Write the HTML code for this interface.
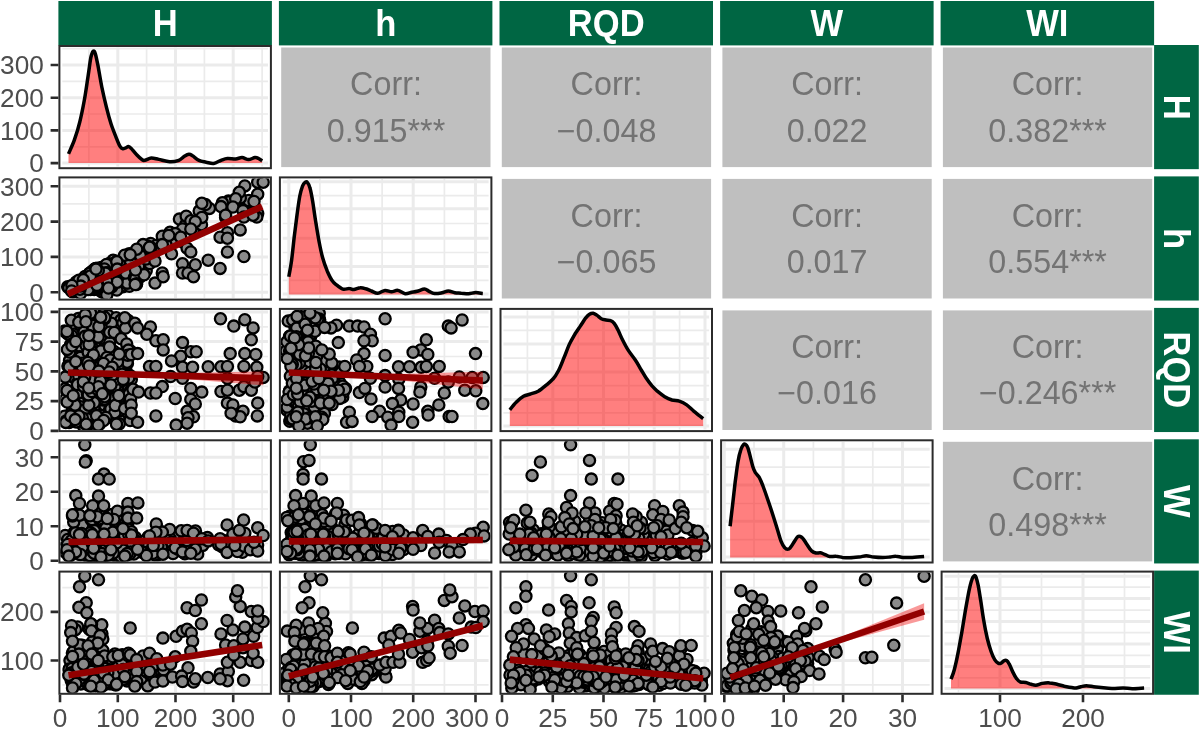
<!DOCTYPE html>
<html><head><meta charset="utf-8"><title>Scatter matrix</title>
<style>
html,body{margin:0;padding:0;background:#fff;}
svg{display:block;font-family:"Liberation Sans",sans-serif;filter:blur(0.55px);}
.hd{font-size:36px;font-weight:bold;fill:#fff;text-anchor:middle;}
.cr{font-size:32.3px;fill:#737373;text-anchor:middle;}
.xl{font-size:26.2px;fill:#4d4d4d;text-anchor:middle;}
.yl{font-size:26.2px;fill:#4d4d4d;text-anchor:end;}
.gm{stroke:#ebebeb;stroke-width:1.7;fill:none;}
.gM{stroke:#ebebeb;stroke-width:3.0;fill:none;}
.bd{fill:none;stroke:#2b2b2b;stroke-width:2.0;}
.tk{stroke:#2b2b2b;stroke-width:2.6;fill:none;}
.dl{fill:none;stroke:#000;stroke-width:3.5;stroke-linejoin:round;stroke-linecap:butt;}
.pt circle{fill:#8a8a8a;stroke:#000;stroke-width:2.3;}
.rl{stroke:#920000;stroke-width:6.6;fill:none;}
</style></head>
<body>
<svg width="1200" height="729" viewBox="0 0 1200 729">
<defs><clipPath id="c00"><rect x="60.4" y="47" width="209.5" height="120.2"/></clipPath><clipPath id="c10"><rect x="60.4" y="178.4" width="209.5" height="120.2"/></clipPath><clipPath id="c11"><rect x="280.9" y="178.4" width="209.5" height="120.2"/></clipPath><clipPath id="c20"><rect x="60.4" y="309.9" width="209.5" height="120.2"/></clipPath><clipPath id="c21"><rect x="280.9" y="309.9" width="209.5" height="120.2"/></clipPath><clipPath id="c22"><rect x="501.5" y="309.9" width="209.5" height="120.2"/></clipPath><clipPath id="c30"><rect x="60.4" y="441.3" width="209.5" height="120.2"/></clipPath><clipPath id="c31"><rect x="280.9" y="441.3" width="209.5" height="120.2"/></clipPath><clipPath id="c32"><rect x="501.5" y="441.3" width="209.5" height="120.2"/></clipPath><clipPath id="c33"><rect x="722.1" y="441.3" width="209.5" height="120.2"/></clipPath><clipPath id="c40"><rect x="60.4" y="572.6" width="209.5" height="120.2"/></clipPath><clipPath id="c41"><rect x="280.9" y="572.6" width="209.5" height="120.2"/></clipPath><clipPath id="c42"><rect x="501.5" y="572.6" width="209.5" height="120.2"/></clipPath><clipPath id="c43"><rect x="722.1" y="572.6" width="209.5" height="120.2"/></clipPath><clipPath id="c44"><rect x="942.6" y="572.6" width="209.5" height="120.2"/></clipPath></defs>
<rect width="1200" height="729" fill="#fff"/>
<rect x="58.4" y="1" width="213.5" height="44.4" fill="#006643"/>
<text transform="translate(165.2 35.6) scale(0.96 1)" class="hd">H</text>
<rect x="278.9" y="1" width="213.5" height="44.4" fill="#006643"/>
<text transform="translate(385.7 35.6) scale(0.96 1)" class="hd">h</text>
<rect x="499.5" y="1" width="213.5" height="44.4" fill="#006643"/>
<text transform="translate(606.2 35.6) scale(0.96 1)" class="hd">RQD</text>
<rect x="720.1" y="1" width="213.5" height="44.4" fill="#006643"/>
<text transform="translate(826.8 35.6) scale(0.96 1)" class="hd">W</text>
<rect x="940.6" y="1" width="213.5" height="44.4" fill="#006643"/>
<text transform="translate(1047.3 35.6) scale(0.96 1)" class="hd">WI</text>
<rect x="1154.1" y="45" width="44.7" height="124.15" fill="#006643"/>
<text transform="translate(1164.2 107.1) rotate(90) scale(0.96 1)" class="hd">H</text>
<rect x="1154.1" y="176.4" width="44.7" height="124.15" fill="#006643"/>
<text transform="translate(1164.2 238.5) rotate(90) scale(0.96 1)" class="hd">h</text>
<rect x="1154.1" y="307.9" width="44.7" height="124.15" fill="#006643"/>
<text transform="translate(1164.2 369.9) rotate(90) scale(0.96 1)" class="hd">RQD</text>
<rect x="1154.1" y="439.3" width="44.7" height="124.15" fill="#006643"/>
<text transform="translate(1164.2 501.3) rotate(90) scale(0.96 1)" class="hd">W</text>
<rect x="1154.1" y="570.6" width="44.7" height="124.15" fill="#006643"/>
<text transform="translate(1164.2 632.7) rotate(90) scale(0.96 1)" class="hd">WI</text>
<path d="M88.9 47.6V166.6M146.6 47.6V166.6M204.4 47.6V166.6M262.1 47.6V166.6M62.3 146.8H268M62.3 114H268M62.3 81.3H268M62.3 48.6H268" class="gm"/><path d="M117.8 47.6V166.6M175.5 47.6V166.6M233.2 47.6V166.6M62.3 163.1H268M62.3 130.4H268M62.3 97.7H268M62.3 65H268" class="gM"/>
<g clip-path="url(#c00)">
<path d="M68.5 153.9C69.4 151.6 72.4 145.5 74.3 140.2C76.2 134.8 78.2 128.6 79.8 121.8C81.5 115.1 83 107.5 84.4 99.8C85.8 92.2 87 83 88.1 76C89.2 69 90 61.8 90.8 57.7C91.7 53.5 92.5 51.9 93.2 51.2C94 50.6 94.6 51.4 95.4 54C96.2 56.6 97.1 61.3 98.2 66.8C99.2 72.3 100.5 80.3 101.8 87C103.2 93.7 104.9 101.1 106.4 107.2C107.9 113.3 109.3 118.5 111 123.7C112.7 128.9 115 134.5 116.5 138.3C118 142.2 119.1 144.8 120.2 146.6C121.2 148.3 122 148.6 122.9 148.8C123.8 149 124.8 148.2 125.7 147.9C126.6 147.5 127.5 146.5 128.4 146.6C129.3 146.7 129.8 147 131.2 148.4C132.5 149.8 134.8 152.9 136.7 154.8C138.5 156.7 140.8 158.9 142.2 159.8C143.5 160.7 143.4 160.6 144.9 160.3C146.4 160.1 149 158.3 151.3 158.1C153.6 158 155.6 158.8 158.7 159.4C161.7 160 166.3 161.6 169.7 161.8C173 162 176.4 161.2 178.8 160.3C181.3 159.4 182.7 157.3 184.3 156.3C186 155.3 187.5 154.4 188.9 154.3C190.3 154.2 190.9 154.7 192.6 155.8C194.3 156.8 196.7 159.3 199 160.3C201.3 161.4 203.9 161.6 206.3 162.2C208.8 162.7 211.2 163.8 213.7 163.4C216.1 163.1 218.7 161.2 221 160.3C223.3 159.5 225 158.7 227.4 158.5C229.9 158.3 233.2 159 235.7 158.9C238.1 158.7 239.9 157.5 242.1 157.6C244.2 157.7 246.4 159.6 248.5 159.6C250.6 159.6 253.2 157.8 254.9 157.6C256.6 157.4 257.4 157.9 258.6 158.5C259.8 159.1 261.6 160.5 262.2 160.9L262.2 163.1L68.5 163.1Z" fill="#ff0000" fill-opacity="0.5"/><path d="M68.5 153.9C69.4 151.6 72.4 145.5 74.3 140.2C76.2 134.8 78.2 128.6 79.8 121.8C81.5 115.1 83 107.5 84.4 99.8C85.8 92.2 87 83 88.1 76C89.2 69 90 61.8 90.8 57.7C91.7 53.5 92.5 51.9 93.2 51.2C94 50.6 94.6 51.4 95.4 54C96.2 56.6 97.1 61.3 98.2 66.8C99.2 72.3 100.5 80.3 101.8 87C103.2 93.7 104.9 101.1 106.4 107.2C107.9 113.3 109.3 118.5 111 123.7C112.7 128.9 115 134.5 116.5 138.3C118 142.2 119.1 144.8 120.2 146.6C121.2 148.3 122 148.6 122.9 148.8C123.8 149 124.8 148.2 125.7 147.9C126.6 147.5 127.5 146.5 128.4 146.6C129.3 146.7 129.8 147 131.2 148.4C132.5 149.8 134.8 152.9 136.7 154.8C138.5 156.7 140.8 158.9 142.2 159.8C143.5 160.7 143.4 160.6 144.9 160.3C146.4 160.1 149 158.3 151.3 158.1C153.6 158 155.6 158.8 158.7 159.4C161.7 160 166.3 161.6 169.7 161.8C173 162 176.4 161.2 178.8 160.3C181.3 159.4 182.7 157.3 184.3 156.3C186 155.3 187.5 154.4 188.9 154.3C190.3 154.2 190.9 154.7 192.6 155.8C194.3 156.8 196.7 159.3 199 160.3C201.3 161.4 203.9 161.6 206.3 162.2C208.8 162.7 211.2 163.8 213.7 163.4C216.1 163.1 218.7 161.2 221 160.3C223.3 159.5 225 158.7 227.4 158.5C229.9 158.3 233.2 159 235.7 158.9C238.1 158.7 239.9 157.5 242.1 157.6C244.2 157.7 246.4 159.6 248.5 159.6C250.6 159.6 253.2 157.8 254.9 157.6C256.6 157.4 257.4 157.9 258.6 158.5C259.8 159.1 261.6 160.5 262.2 160.9" class="dl"/>
</g>
<rect x="59.4" y="46" width="211.5" height="122.2" class="bd"/>
<rect x="281.2" y="47.5" width="209.3" height="119.6" fill="#bfbfbf"/>
<text x="386" y="95.3" class="cr">Corr:</text>
<text x="386" y="141.6" class="cr">0.915***</text>
<rect x="501.8" y="47.5" width="209.3" height="119.6" fill="#bfbfbf"/>
<text x="606.5" y="95.3" class="cr">Corr:</text>
<text x="606.5" y="141.6" class="cr">−0.048</text>
<rect x="722.4" y="47.5" width="209.3" height="119.6" fill="#bfbfbf"/>
<text x="827.1" y="95.3" class="cr">Corr:</text>
<text x="827.1" y="141.6" class="cr">0.022</text>
<rect x="942.9" y="47.5" width="209.3" height="119.6" fill="#bfbfbf"/>
<text x="1047.6" y="95.3" class="cr">Corr:</text>
<text x="1047.6" y="141.6" class="cr">0.382***</text>
<path d="M88.9 179V298M146.6 179V298M204.4 179V298M262.1 179V298M62.3 274.6H268M62.3 239.2H268M62.3 203.9H268" class="gm"/><path d="M117.8 179V298M175.5 179V298M233.2 179V298M62.3 292.2H268M62.3 256.9H268M62.3 221.6H268M62.3 186.3H268" class="gM"/>
<g clip-path="url(#c10)">
<g class="pt"><circle cx="82" cy="280.2" r="5.6"/><circle cx="93.8" cy="284.1" r="5.6"/><circle cx="91.6" cy="287.2" r="5.6"/><circle cx="196.2" cy="226.6" r="5.6"/><circle cx="179.4" cy="219.1" r="5.6"/><circle cx="103.8" cy="272.4" r="5.6"/><circle cx="95.5" cy="276.5" r="5.6"/><circle cx="122.8" cy="286.8" r="5.6"/><circle cx="182.5" cy="241.8" r="5.6"/><circle cx="105.5" cy="272.2" r="5.6"/><circle cx="92.1" cy="271.3" r="5.6"/><circle cx="94.5" cy="269.3" r="5.6"/><circle cx="113.1" cy="260.3" r="5.6"/><circle cx="150.6" cy="243.5" r="5.6"/><circle cx="106.2" cy="271.8" r="5.6"/><circle cx="84.2" cy="280.3" r="5.6"/><circle cx="73.9" cy="285.3" r="5.6"/><circle cx="114" cy="281.6" r="5.6"/><circle cx="122.9" cy="280.1" r="5.6"/><circle cx="83.7" cy="278.9" r="5.6"/><circle cx="94.3" cy="286.5" r="5.6"/><circle cx="93.7" cy="275.2" r="5.6"/><circle cx="109.9" cy="265.9" r="5.6"/><circle cx="88.4" cy="280.8" r="5.6"/><circle cx="103.5" cy="270.8" r="5.6"/><circle cx="114.4" cy="263.6" r="5.6"/><circle cx="101.3" cy="291.4" r="5.6"/><circle cx="206.1" cy="208.5" r="5.6"/><circle cx="99.7" cy="286.2" r="5.6"/><circle cx="83.1" cy="284.5" r="5.6"/><circle cx="109.8" cy="266.6" r="5.6"/><circle cx="97" cy="286.2" r="5.6"/><circle cx="97.7" cy="282" r="5.6"/><circle cx="83.1" cy="285.2" r="5.6"/><circle cx="120.6" cy="280.1" r="5.6"/><circle cx="84.8" cy="287.8" r="5.6"/><circle cx="104.2" cy="293.2" r="5.6"/><circle cx="100.4" cy="288" r="5.6"/><circle cx="92.7" cy="272.2" r="5.6"/><circle cx="193.2" cy="230.4" r="5.6"/><circle cx="88.6" cy="275.3" r="5.6"/><circle cx="101.2" cy="284.9" r="5.6"/><circle cx="95" cy="270.6" r="5.6"/><circle cx="76.4" cy="290.3" r="5.6"/><circle cx="102.7" cy="284.4" r="5.6"/><circle cx="87.1" cy="278.8" r="5.6"/><circle cx="101.4" cy="283.7" r="5.6"/><circle cx="124.9" cy="285.8" r="5.6"/><circle cx="80.3" cy="288.5" r="5.6"/><circle cx="92.8" cy="273.4" r="5.6"/><circle cx="95.8" cy="277.5" r="5.6"/><circle cx="109.6" cy="274.6" r="5.6"/><circle cx="100.4" cy="278.1" r="5.6"/><circle cx="79" cy="289.5" r="5.6"/><circle cx="101.6" cy="272.9" r="5.6"/><circle cx="99.6" cy="269.5" r="5.6"/><circle cx="91.1" cy="285.8" r="5.6"/><circle cx="127.6" cy="255" r="5.6"/><circle cx="93.1" cy="284.5" r="5.6"/><circle cx="92.4" cy="273.9" r="5.6"/><circle cx="96.5" cy="276.4" r="5.6"/><circle cx="93.4" cy="276.9" r="5.6"/><circle cx="129.4" cy="286.3" r="5.6"/><circle cx="156" cy="248.2" r="5.6"/><circle cx="94.9" cy="286.9" r="5.6"/><circle cx="110.8" cy="273.3" r="5.6"/><circle cx="117.9" cy="280.5" r="5.6"/><circle cx="91.6" cy="273" r="5.6"/><circle cx="67.7" cy="286.8" r="5.6"/><circle cx="251.1" cy="202.6" r="5.6"/><circle cx="82.8" cy="290.5" r="5.6"/><circle cx="119.5" cy="282" r="5.6"/><circle cx="92.8" cy="276.5" r="5.6"/><circle cx="102.1" cy="267.3" r="5.6"/><circle cx="90.5" cy="286" r="5.6"/><circle cx="94.2" cy="289.4" r="5.6"/><circle cx="97.5" cy="270.5" r="5.6"/><circle cx="76.1" cy="289.3" r="5.6"/><circle cx="94.6" cy="285" r="5.6"/><circle cx="93.4" cy="278.6" r="5.6"/><circle cx="95.8" cy="278.5" r="5.6"/><circle cx="88.2" cy="288.7" r="5.6"/><circle cx="77.9" cy="285.1" r="5.6"/><circle cx="101.6" cy="268.7" r="5.6"/><circle cx="139.7" cy="277.3" r="5.6"/><circle cx="91.1" cy="277" r="5.6"/><circle cx="97.4" cy="268.2" r="5.6"/><circle cx="96.6" cy="276.8" r="5.6"/><circle cx="84.2" cy="281.1" r="5.6"/><circle cx="127.2" cy="282.9" r="5.6"/><circle cx="102.3" cy="288.5" r="5.6"/><circle cx="148.2" cy="251.8" r="5.6"/><circle cx="108.9" cy="268.1" r="5.6"/><circle cx="89.4" cy="274.5" r="5.6"/><circle cx="240" cy="199.7" r="5.6"/><circle cx="99.2" cy="282.6" r="5.6"/><circle cx="98.1" cy="272.3" r="5.6"/><circle cx="91.2" cy="280.8" r="5.6"/><circle cx="83.8" cy="282.5" r="5.6"/><circle cx="86.1" cy="289.6" r="5.6"/><circle cx="118.9" cy="272.5" r="5.6"/><circle cx="116.8" cy="290.1" r="5.6"/><circle cx="105.2" cy="266.4" r="5.6"/><circle cx="129.2" cy="263.1" r="5.6"/><circle cx="146.2" cy="270.7" r="5.6"/><circle cx="228.4" cy="200.9" r="5.6"/><circle cx="125.9" cy="263.8" r="5.6"/><circle cx="96.6" cy="283.2" r="5.6"/><circle cx="248.8" cy="200.5" r="5.6"/><circle cx="77.8" cy="283.9" r="5.6"/><circle cx="85.5" cy="287.6" r="5.6"/><circle cx="86.5" cy="282.7" r="5.6"/><circle cx="95.4" cy="276.8" r="5.6"/><circle cx="84.9" cy="281" r="5.6"/><circle cx="89.5" cy="273.2" r="5.6"/><circle cx="86.9" cy="281.1" r="5.6"/><circle cx="92.6" cy="281.7" r="5.6"/><circle cx="86.8" cy="282.2" r="5.6"/><circle cx="201.5" cy="224.7" r="5.6"/><circle cx="156.2" cy="245.4" r="5.6"/><circle cx="122.3" cy="274.1" r="5.6"/><circle cx="101.8" cy="267.7" r="5.6"/><circle cx="85" cy="276.5" r="5.6"/><circle cx="79.8" cy="282.9" r="5.6"/><circle cx="164.7" cy="239.6" r="5.6"/><circle cx="90.5" cy="289.5" r="5.6"/><circle cx="98.5" cy="272.1" r="5.6"/><circle cx="99.9" cy="276.2" r="5.6"/><circle cx="96.4" cy="279.3" r="5.6"/><circle cx="139.6" cy="254.4" r="5.6"/><circle cx="96.6" cy="273.4" r="5.6"/><circle cx="92.3" cy="272" r="5.6"/><circle cx="135" cy="278.5" r="5.6"/><circle cx="112.6" cy="277.4" r="5.6"/><circle cx="126.2" cy="256.8" r="5.6"/><circle cx="128.5" cy="268.1" r="5.6"/><circle cx="78.7" cy="287.2" r="5.6"/><circle cx="68.8" cy="287.8" r="5.6"/><circle cx="82.6" cy="280.8" r="5.6"/><circle cx="111.9" cy="286.8" r="5.6"/><circle cx="96.1" cy="288.9" r="5.6"/><circle cx="100.8" cy="267.9" r="5.6"/><circle cx="88.7" cy="278.2" r="5.6"/><circle cx="99.3" cy="270.7" r="5.6"/><circle cx="96.2" cy="269.3" r="5.6"/><circle cx="90.4" cy="275.2" r="5.6"/><circle cx="96.3" cy="270.7" r="5.6"/><circle cx="104.9" cy="267.8" r="5.6"/><circle cx="109.5" cy="267.2" r="5.6"/><circle cx="95.5" cy="268.6" r="5.6"/><circle cx="73.7" cy="286.4" r="5.6"/><circle cx="99" cy="280.5" r="5.6"/><circle cx="185.8" cy="224.6" r="5.6"/><circle cx="110.9" cy="265.9" r="5.6"/><circle cx="98.8" cy="284.4" r="5.6"/><circle cx="106" cy="283.9" r="5.6"/><circle cx="103" cy="276.1" r="5.6"/><circle cx="87.5" cy="285.2" r="5.6"/><circle cx="111.7" cy="274.3" r="5.6"/><circle cx="116.1" cy="280.5" r="5.6"/><circle cx="94.9" cy="287.6" r="5.6"/><circle cx="128.6" cy="261.7" r="5.6"/><circle cx="174.2" cy="236.3" r="5.6"/><circle cx="98.5" cy="273.9" r="5.6"/><circle cx="107.7" cy="276.4" r="5.6"/><circle cx="116.5" cy="261.4" r="5.6"/><circle cx="84.3" cy="284.7" r="5.6"/><circle cx="95.2" cy="278.4" r="5.6"/><circle cx="97.4" cy="286" r="5.6"/><circle cx="127.2" cy="283.1" r="5.6"/><circle cx="141.3" cy="266.7" r="5.6"/><circle cx="109.1" cy="263.8" r="5.6"/><circle cx="106.4" cy="264.5" r="5.6"/><circle cx="96" cy="268.7" r="5.6"/><circle cx="86.5" cy="281" r="5.6"/><circle cx="93" cy="272.8" r="5.6"/><circle cx="228.8" cy="201.9" r="5.6"/><circle cx="109.7" cy="287.1" r="5.6"/><circle cx="84.4" cy="284.5" r="5.6"/><circle cx="125.8" cy="273.1" r="5.6"/><circle cx="80.6" cy="285" r="5.6"/><circle cx="91" cy="280.5" r="5.6"/><circle cx="72.7" cy="286.2" r="5.6"/><circle cx="149.8" cy="263.6" r="5.6"/><circle cx="93.2" cy="280.8" r="5.6"/><circle cx="102.9" cy="275" r="5.6"/><circle cx="95.5" cy="272.4" r="5.6"/><circle cx="225.6" cy="217.4" r="5.6"/><circle cx="106.8" cy="294.9" r="5.6"/><circle cx="209.4" cy="208.4" r="5.6"/><circle cx="78" cy="285.6" r="5.6"/><circle cx="134.3" cy="277.8" r="5.6"/><circle cx="76.2" cy="281.9" r="5.6"/><circle cx="101.4" cy="277.8" r="5.6"/><circle cx="97.2" cy="283.7" r="5.6"/><circle cx="95.4" cy="270.9" r="5.6"/><circle cx="77.4" cy="286.4" r="5.6"/><circle cx="72.8" cy="291.9" r="5.6"/><circle cx="90.1" cy="282.5" r="5.6"/><circle cx="90.8" cy="286" r="5.6"/><circle cx="96.9" cy="274.3" r="5.6"/><circle cx="74.6" cy="290.2" r="5.6"/><circle cx="92.4" cy="273.7" r="5.6"/><circle cx="95.7" cy="270.3" r="5.6"/><circle cx="127.1" cy="257.5" r="5.6"/><circle cx="110.8" cy="278.4" r="5.6"/><circle cx="129.3" cy="253.7" r="5.6"/><circle cx="104.4" cy="269" r="5.6"/><circle cx="120" cy="261" r="5.6"/><circle cx="147.4" cy="245.9" r="5.6"/><circle cx="80.4" cy="283.3" r="5.6"/><circle cx="89" cy="278.2" r="5.6"/><circle cx="129.7" cy="259.7" r="5.6"/><circle cx="117.1" cy="282.2" r="5.6"/><circle cx="97.6" cy="271.9" r="5.6"/><circle cx="80.5" cy="293.5" r="5.6"/><circle cx="89.8" cy="284.8" r="5.6"/><circle cx="150.8" cy="247.5" r="5.6"/><circle cx="135.8" cy="278.5" r="5.6"/><circle cx="240.3" cy="197.9" r="5.6"/><circle cx="138.6" cy="266.1" r="5.6"/><circle cx="199.2" cy="211.1" r="5.6"/><circle cx="130.2" cy="260.6" r="5.6"/><circle cx="124.6" cy="255.2" r="5.6"/><circle cx="91.2" cy="276" r="5.6"/><circle cx="87.1" cy="285.3" r="5.6"/><circle cx="91.3" cy="283.6" r="5.6"/><circle cx="136.4" cy="284.5" r="5.6"/><circle cx="106.6" cy="281" r="5.6"/><circle cx="89.9" cy="275.4" r="5.6"/><circle cx="144.1" cy="274.8" r="5.6"/><circle cx="116.8" cy="261.6" r="5.6"/><circle cx="99" cy="275.6" r="5.6"/><circle cx="107" cy="272.8" r="5.6"/><circle cx="93.6" cy="287.2" r="5.6"/><circle cx="96.2" cy="271.8" r="5.6"/><circle cx="89.8" cy="273.5" r="5.6"/><circle cx="99.2" cy="275.3" r="5.6"/><circle cx="170" cy="232.3" r="5.6"/><circle cx="136.6" cy="283.8" r="5.6"/><circle cx="94.6" cy="273.7" r="5.6"/><circle cx="86.4" cy="280.3" r="5.6"/><circle cx="222.4" cy="202.8" r="5.6"/><circle cx="95.6" cy="285.5" r="5.6"/><circle cx="171.8" cy="239.5" r="5.6"/><circle cx="97.3" cy="283.3" r="5.6"/><circle cx="117.3" cy="269.1" r="5.6"/><circle cx="146.1" cy="259.1" r="5.6"/><circle cx="86.9" cy="277.6" r="5.6"/><circle cx="135.2" cy="284.5" r="5.6"/><circle cx="78.6" cy="286.2" r="5.6"/><circle cx="105.5" cy="273.1" r="5.6"/><circle cx="98.3" cy="270.6" r="5.6"/><circle cx="78.9" cy="280.2" r="5.6"/><circle cx="90.4" cy="275.9" r="5.6"/><circle cx="96" cy="269.1" r="5.6"/><circle cx="88" cy="289.6" r="5.6"/><circle cx="80" cy="289.2" r="5.6"/><circle cx="205.4" cy="204.6" r="5.6"/><circle cx="83.3" cy="279.8" r="5.6"/><circle cx="140.2" cy="255.3" r="5.6"/><circle cx="165.9" cy="244.6" r="5.6"/><circle cx="97" cy="285.3" r="5.6"/><circle cx="80.8" cy="286.1" r="5.6"/><circle cx="135.5" cy="270.1" r="5.6"/><circle cx="71.9" cy="285.5" r="5.6"/><circle cx="71.6" cy="291" r="5.6"/><circle cx="108.5" cy="288" r="5.6"/><circle cx="257.7" cy="182.2" r="5.6"/><circle cx="263.2" cy="182.2" r="5.6"/><circle cx="244.8" cy="185.9" r="5.6"/><circle cx="239.3" cy="192.3" r="5.6"/><circle cx="257.7" cy="194.2" r="5.6"/><circle cx="235.7" cy="198.8" r="5.6"/><circle cx="254" cy="201.5" r="5.6"/><circle cx="201.8" cy="203.3" r="5.6"/><circle cx="221" cy="206.6" r="5.6"/><circle cx="232.9" cy="207" r="5.6"/><circle cx="243" cy="210.7" r="5.6"/><circle cx="257.7" cy="213.4" r="5.6"/><circle cx="243.9" cy="217.1" r="5.6"/><circle cx="256.8" cy="217.1" r="5.6"/><circle cx="253.1" cy="215.2" r="5.6"/><circle cx="225.6" cy="215.2" r="5.6"/><circle cx="201.8" cy="217.4" r="5.6"/><circle cx="186.2" cy="216.2" r="5.6"/><circle cx="190.8" cy="220.8" r="5.6"/><circle cx="195.3" cy="221.7" r="5.6"/><circle cx="182.5" cy="229" r="5.6"/><circle cx="190.8" cy="229" r="5.6"/><circle cx="240.2" cy="229.9" r="5.6"/><circle cx="227.4" cy="232.7" r="5.6"/><circle cx="220.1" cy="237.2" r="5.6"/><circle cx="227.4" cy="238.2" r="5.6"/><circle cx="175.2" cy="233.6" r="5.6"/><circle cx="162.3" cy="236.3" r="5.6"/><circle cx="168.8" cy="235.4" r="5.6"/><circle cx="180.7" cy="237.2" r="5.6"/><circle cx="162.3" cy="244.6" r="5.6"/><circle cx="143.1" cy="244.6" r="5.6"/><circle cx="149.5" cy="247.3" r="5.6"/><circle cx="136.7" cy="249.2" r="5.6"/><circle cx="187.1" cy="248.2" r="5.6"/><circle cx="190.8" cy="251.9" r="5.6"/><circle cx="171.5" cy="253.8" r="5.6"/><circle cx="130.2" cy="254.7" r="5.6"/><circle cx="227.4" cy="251.9" r="5.6"/><circle cx="243.9" cy="256.5" r="5.6"/><circle cx="155" cy="261.1" r="5.6"/><circle cx="208.2" cy="260.2" r="5.6"/><circle cx="182.5" cy="263.8" r="5.6"/><circle cx="195.3" cy="264.8" r="5.6"/><circle cx="220.1" cy="268.4" r="5.6"/><circle cx="162.3" cy="273" r="5.6"/><circle cx="182.5" cy="273" r="5.6"/><circle cx="188" cy="273" r="5.6"/><circle cx="193.5" cy="276.7" r="5.6"/><circle cx="155" cy="283.1" r="5.6"/><circle cx="163.2" cy="276.7" r="5.6"/></g><path d="M67.9 294.1L262.2 206.6" class="rl"/>
</g>
<rect x="59.4" y="177.4" width="211.5" height="122.2" class="bd"/>
<path d="M319.9 179V298M382.1 179V298M444.4 179V298M282.8 195.6H488.6M282.8 223.5H488.6M282.8 252.5H488.6M282.8 280.3H488.6" class="gm"/><path d="M288.8 179V298M351 179V298M413.2 179V298M475.5 179V298M282.8 208.8H488.6M282.8 238.2H488.6M282.8 266.6H488.6M282.8 294.1H488.6M282.8 181.7H488.6" class="gM"/>
<g clip-path="url(#c11)">
<path d="M288.8 276.7C289.3 273.9 290.7 266.9 291.6 260.2C292.5 253.4 293.4 244 294.3 236.3C295.2 228.7 296.2 221.1 297.1 214.3C298 207.6 298.9 200.7 299.8 196C300.8 191.3 301.7 188.2 302.6 185.9C303.5 183.6 304.5 182.8 305.3 182.2C306.2 181.7 306.8 181.7 307.5 182.6C308.3 183.5 309.1 184.6 309.9 187.8C310.8 190.9 311.8 196.2 312.7 201.5C313.6 206.8 314.3 213.1 315.4 219.8C316.5 226.6 317.9 235.4 319.1 241.8C320.3 248.2 321.4 253.4 322.8 258.3C324.1 263.2 325.8 267.5 327.3 271.2C328.9 274.8 330.4 278 331.9 280.3C333.4 282.6 334.7 283.5 336.5 284.9C338.3 286.4 340.8 288.5 342.9 289.1C345.1 289.7 347.5 288.5 349.3 288.6C351.2 288.6 352.1 289.7 353.9 289.5C355.8 289.3 358.3 287.8 360.3 287.7C362.3 287.5 364 288.2 365.8 288.8C367.7 289.3 369.3 290.2 371.3 291C373.3 291.7 375.5 293.3 377.8 293.2C380 293.1 382.8 290.7 385.1 290.4C387.4 290.2 389.4 291.7 391.5 291.7C393.6 291.7 395.6 290.1 397.9 290.4C400.2 290.8 403 293.4 405.2 293.7C407.5 294 409.7 292.6 411.7 292.2C413.7 291.9 415 291.9 417.2 291.3C419.3 290.8 422.5 289.1 424.5 289.1C426.5 289.1 427.4 290.6 429.1 291.3C430.8 292.1 432.4 293.3 434.6 293.5C436.7 293.8 439.6 293.2 441.9 292.8C444.2 292.4 446.2 291 448.3 291C450.5 291 452.6 292.4 454.8 292.8C456.9 293.2 458.9 293 461.2 293.2C463.5 293.3 466.1 293.8 468.5 293.7C470.9 293.6 473.5 292.6 475.8 292.6C478.2 292.6 481.6 293.4 482.8 293.5L482.8 294.4L288.8 294.4Z" fill="#ff0000" fill-opacity="0.5"/><path d="M288.8 276.7C289.3 273.9 290.7 266.9 291.6 260.2C292.5 253.4 293.4 244 294.3 236.3C295.2 228.7 296.2 221.1 297.1 214.3C298 207.6 298.9 200.7 299.8 196C300.8 191.3 301.7 188.2 302.6 185.9C303.5 183.6 304.5 182.8 305.3 182.2C306.2 181.7 306.8 181.7 307.5 182.6C308.3 183.5 309.1 184.6 309.9 187.8C310.8 190.9 311.8 196.2 312.7 201.5C313.6 206.8 314.3 213.1 315.4 219.8C316.5 226.6 317.9 235.4 319.1 241.8C320.3 248.2 321.4 253.4 322.8 258.3C324.1 263.2 325.8 267.5 327.3 271.2C328.9 274.8 330.4 278 331.9 280.3C333.4 282.6 334.7 283.5 336.5 284.9C338.3 286.4 340.8 288.5 342.9 289.1C345.1 289.7 347.5 288.5 349.3 288.6C351.2 288.6 352.1 289.7 353.9 289.5C355.8 289.3 358.3 287.8 360.3 287.7C362.3 287.5 364 288.2 365.8 288.8C367.7 289.3 369.3 290.2 371.3 291C373.3 291.7 375.5 293.3 377.8 293.2C380 293.1 382.8 290.7 385.1 290.4C387.4 290.2 389.4 291.7 391.5 291.7C393.6 291.7 395.6 290.1 397.9 290.4C400.2 290.8 403 293.4 405.2 293.7C407.5 294 409.7 292.6 411.7 292.2C413.7 291.9 415 291.9 417.2 291.3C419.3 290.8 422.5 289.1 424.5 289.1C426.5 289.1 427.4 290.6 429.1 291.3C430.8 292.1 432.4 293.3 434.6 293.5C436.7 293.8 439.6 293.2 441.9 292.8C444.2 292.4 446.2 291 448.3 291C450.5 291 452.6 292.4 454.8 292.8C456.9 293.2 458.9 293 461.2 293.2C463.5 293.3 466.1 293.8 468.5 293.7C470.9 293.6 473.5 292.6 475.8 292.6C478.2 292.6 481.6 293.4 482.8 293.5" class="dl"/>
</g>
<rect x="279.9" y="177.4" width="211.5" height="122.2" class="bd"/>
<rect x="501.8" y="178.9" width="209.3" height="119.6" fill="#bfbfbf"/>
<text x="606.5" y="226.8" class="cr">Corr:</text>
<text x="606.5" y="272.9" class="cr">−0.065</text>
<rect x="722.4" y="178.9" width="209.3" height="119.6" fill="#bfbfbf"/>
<text x="827.1" y="226.8" class="cr">Corr:</text>
<text x="827.1" y="272.9" class="cr">0.017</text>
<rect x="942.9" y="178.9" width="209.3" height="119.6" fill="#bfbfbf"/>
<text x="1047.6" y="226.8" class="cr">Corr:</text>
<text x="1047.6" y="272.9" class="cr">0.554***</text>
<path d="M88.9 310.5V429.4M146.6 310.5V429.4M204.4 310.5V429.4M262.1 310.5V429.4M62.3 416H268M62.3 386.3H268M62.3 356.5H268M62.3 326.8H268" class="gm"/><path d="M117.8 310.5V429.4M175.5 310.5V429.4M233.2 310.5V429.4M62.3 401.1H268M62.3 371.4H268M62.3 341.6H268M62.3 311.9H268" class="gM"/>
<g clip-path="url(#c20)">
<g class="pt"><circle cx="94" cy="373.4" r="5.6"/><circle cx="105" cy="345" r="5.6"/><circle cx="101.3" cy="385.9" r="5.6"/><circle cx="118.9" cy="418.6" r="5.6"/><circle cx="122.7" cy="359.1" r="5.6"/><circle cx="92.3" cy="396.8" r="5.6"/><circle cx="65" cy="388.8" r="5.6"/><circle cx="102" cy="341" r="5.6"/><circle cx="86.3" cy="354.8" r="5.6"/><circle cx="90.9" cy="361.5" r="5.6"/><circle cx="78" cy="415.2" r="5.6"/><circle cx="103.9" cy="322.8" r="5.6"/><circle cx="109" cy="398.9" r="5.6"/><circle cx="84.9" cy="378" r="5.6"/><circle cx="97.2" cy="392" r="5.6"/><circle cx="95.1" cy="377.4" r="5.6"/><circle cx="92.2" cy="359.3" r="5.6"/><circle cx="108.4" cy="315.8" r="5.6"/><circle cx="102.3" cy="317.2" r="5.6"/><circle cx="119.9" cy="410.7" r="5.6"/><circle cx="98" cy="405.1" r="5.6"/><circle cx="114.4" cy="359.5" r="5.6"/><circle cx="109.7" cy="342.7" r="5.6"/><circle cx="93.1" cy="345.1" r="5.6"/><circle cx="90" cy="316.5" r="5.6"/><circle cx="100.5" cy="321.2" r="5.6"/><circle cx="126" cy="370.8" r="5.6"/><circle cx="96.2" cy="362.3" r="5.6"/><circle cx="87.9" cy="334.9" r="5.6"/><circle cx="82.9" cy="389.4" r="5.6"/><circle cx="95.5" cy="341.9" r="5.6"/><circle cx="82.3" cy="388.5" r="5.6"/><circle cx="64.3" cy="331.1" r="5.6"/><circle cx="91.9" cy="356.3" r="5.6"/><circle cx="102.1" cy="314.7" r="5.6"/><circle cx="83.3" cy="352.9" r="5.6"/><circle cx="99.4" cy="388.1" r="5.6"/><circle cx="74.2" cy="400.1" r="5.6"/><circle cx="71.6" cy="412.1" r="5.6"/><circle cx="98.2" cy="379.2" r="5.6"/><circle cx="128.2" cy="320.4" r="5.6"/><circle cx="64.6" cy="416.3" r="5.6"/><circle cx="102.8" cy="349.4" r="5.6"/><circle cx="115.9" cy="356.2" r="5.6"/><circle cx="128.7" cy="408.9" r="5.6"/><circle cx="104.6" cy="364.8" r="5.6"/><circle cx="76.6" cy="407.8" r="5.6"/><circle cx="95.7" cy="361.6" r="5.6"/><circle cx="69.5" cy="360.6" r="5.6"/><circle cx="86.6" cy="387.6" r="5.6"/><circle cx="105.9" cy="392.9" r="5.6"/><circle cx="98.7" cy="383.9" r="5.6"/><circle cx="112.4" cy="358.6" r="5.6"/><circle cx="90.8" cy="411.9" r="5.6"/><circle cx="113.7" cy="394.7" r="5.6"/><circle cx="85.2" cy="353.6" r="5.6"/><circle cx="112.2" cy="396.2" r="5.6"/><circle cx="131.3" cy="379.5" r="5.6"/><circle cx="90.1" cy="335" r="5.6"/><circle cx="99.5" cy="423.9" r="5.6"/><circle cx="104.5" cy="384.1" r="5.6"/><circle cx="97.2" cy="399" r="5.6"/><circle cx="93.1" cy="353.1" r="5.6"/><circle cx="122.1" cy="393.9" r="5.6"/><circle cx="95.8" cy="384.7" r="5.6"/><circle cx="116.2" cy="317.7" r="5.6"/><circle cx="69.1" cy="422.4" r="5.6"/><circle cx="110.3" cy="371.8" r="5.6"/><circle cx="99.9" cy="322.7" r="5.6"/><circle cx="78.3" cy="318.6" r="5.6"/><circle cx="103.8" cy="366.4" r="5.6"/><circle cx="94.6" cy="313.5" r="5.6"/><circle cx="96.1" cy="341.7" r="5.6"/><circle cx="108.8" cy="325.7" r="5.6"/><circle cx="93.1" cy="367.2" r="5.6"/><circle cx="101.6" cy="386.6" r="5.6"/><circle cx="90.6" cy="368.3" r="5.6"/><circle cx="76" cy="417.7" r="5.6"/><circle cx="96.9" cy="328" r="5.6"/><circle cx="107.4" cy="365.4" r="5.6"/><circle cx="91.2" cy="375.2" r="5.6"/><circle cx="70.1" cy="394.2" r="5.6"/><circle cx="70.5" cy="344.8" r="5.6"/><circle cx="69.1" cy="349.9" r="5.6"/><circle cx="119.3" cy="423.8" r="5.6"/><circle cx="89.4" cy="342.2" r="5.6"/><circle cx="104.5" cy="361.2" r="5.6"/><circle cx="128.3" cy="391.2" r="5.6"/><circle cx="99.7" cy="401.6" r="5.6"/><circle cx="92.8" cy="402.4" r="5.6"/><circle cx="120.9" cy="320.1" r="5.6"/><circle cx="89.3" cy="338.1" r="5.6"/><circle cx="76.7" cy="349.2" r="5.6"/><circle cx="111.4" cy="323.2" r="5.6"/><circle cx="90.6" cy="313.1" r="5.6"/><circle cx="97" cy="364.6" r="5.6"/><circle cx="102.6" cy="391.5" r="5.6"/><circle cx="98" cy="365.1" r="5.6"/><circle cx="119.9" cy="376.1" r="5.6"/><circle cx="93" cy="425.2" r="5.6"/><circle cx="65.5" cy="399.2" r="5.6"/><circle cx="120.8" cy="371.4" r="5.6"/><circle cx="106.9" cy="405.1" r="5.6"/><circle cx="70" cy="367.7" r="5.6"/><circle cx="102.8" cy="364.5" r="5.6"/><circle cx="131.7" cy="352.1" r="5.6"/><circle cx="120.7" cy="396.4" r="5.6"/><circle cx="99.5" cy="385.4" r="5.6"/><circle cx="80.7" cy="325.4" r="5.6"/><circle cx="119.8" cy="364" r="5.6"/><circle cx="86.5" cy="346.6" r="5.6"/><circle cx="66.1" cy="421" r="5.6"/><circle cx="94.4" cy="380.8" r="5.6"/><circle cx="108.8" cy="401.3" r="5.6"/><circle cx="110.9" cy="402.3" r="5.6"/><circle cx="126.8" cy="393.8" r="5.6"/><circle cx="113.2" cy="417.2" r="5.6"/><circle cx="80.2" cy="346.3" r="5.6"/><circle cx="97.6" cy="382.5" r="5.6"/><circle cx="81.8" cy="366.8" r="5.6"/><circle cx="112.2" cy="390.9" r="5.6"/><circle cx="89.7" cy="392.9" r="5.6"/><circle cx="111.7" cy="389.6" r="5.6"/><circle cx="80.5" cy="362.4" r="5.6"/><circle cx="100.6" cy="381.3" r="5.6"/><circle cx="101.5" cy="384.2" r="5.6"/><circle cx="97.5" cy="410.4" r="5.6"/><circle cx="75" cy="408.5" r="5.6"/><circle cx="100.6" cy="349.1" r="5.6"/><circle cx="112.8" cy="405.4" r="5.6"/><circle cx="83.1" cy="396.2" r="5.6"/><circle cx="92.8" cy="336.3" r="5.6"/><circle cx="86.1" cy="391.9" r="5.6"/><circle cx="109.7" cy="332.3" r="5.6"/><circle cx="109.3" cy="395.9" r="5.6"/><circle cx="73.2" cy="334" r="5.6"/><circle cx="104.8" cy="405.4" r="5.6"/><circle cx="106.9" cy="365.9" r="5.6"/><circle cx="90.9" cy="409.4" r="5.6"/><circle cx="95.1" cy="417.1" r="5.6"/><circle cx="71.2" cy="391.7" r="5.6"/><circle cx="71.8" cy="376.4" r="5.6"/><circle cx="86.1" cy="345.5" r="5.6"/><circle cx="127.4" cy="363.6" r="5.6"/><circle cx="94.1" cy="330.3" r="5.6"/><circle cx="88.5" cy="379.7" r="5.6"/><circle cx="84.4" cy="320.5" r="5.6"/><circle cx="122.8" cy="389.3" r="5.6"/><circle cx="79.3" cy="356.7" r="5.6"/><circle cx="112.2" cy="409.1" r="5.6"/><circle cx="92.5" cy="349.8" r="5.6"/><circle cx="84.4" cy="410" r="5.6"/><circle cx="129.4" cy="350.2" r="5.6"/><circle cx="67.9" cy="366" r="5.6"/><circle cx="116.9" cy="407.9" r="5.6"/><circle cx="129.1" cy="376" r="5.6"/><circle cx="127.5" cy="378.4" r="5.6"/><circle cx="109.7" cy="409" r="5.6"/><circle cx="93.1" cy="422.1" r="5.6"/><circle cx="71.3" cy="320.3" r="5.6"/><circle cx="127.1" cy="362.2" r="5.6"/><circle cx="127.8" cy="412.4" r="5.6"/><circle cx="97" cy="367.9" r="5.6"/><circle cx="84.1" cy="332" r="5.6"/><circle cx="96" cy="392.2" r="5.6"/><circle cx="101" cy="415.6" r="5.6"/><circle cx="113" cy="380.3" r="5.6"/><circle cx="71.6" cy="335.5" r="5.6"/><circle cx="106.8" cy="353.5" r="5.6"/><circle cx="98.4" cy="390.3" r="5.6"/><circle cx="123" cy="322.9" r="5.6"/><circle cx="89" cy="399.2" r="5.6"/><circle cx="86.9" cy="372.1" r="5.6"/><circle cx="91.6" cy="372" r="5.6"/><circle cx="110.5" cy="395.5" r="5.6"/><circle cx="106" cy="391.4" r="5.6"/><circle cx="86.1" cy="374.7" r="5.6"/><circle cx="103.1" cy="399.9" r="5.6"/><circle cx="82" cy="376" r="5.6"/><circle cx="95.6" cy="386" r="5.6"/><circle cx="88.5" cy="340.2" r="5.6"/><circle cx="82.3" cy="319.4" r="5.6"/><circle cx="87.7" cy="376" r="5.6"/><circle cx="87.4" cy="419" r="5.6"/><circle cx="74.6" cy="411.1" r="5.6"/><circle cx="121" cy="385.3" r="5.6"/><circle cx="69.6" cy="352" r="5.6"/><circle cx="103.5" cy="394.6" r="5.6"/><circle cx="94.8" cy="368" r="5.6"/><circle cx="129.3" cy="393.9" r="5.6"/><circle cx="67.4" cy="349.4" r="5.6"/><circle cx="129" cy="403.8" r="5.6"/><circle cx="67.8" cy="333.9" r="5.6"/><circle cx="94" cy="407" r="5.6"/><circle cx="75.1" cy="405" r="5.6"/><circle cx="114.9" cy="388.1" r="5.6"/><circle cx="90.5" cy="385" r="5.6"/><circle cx="110" cy="376.7" r="5.6"/><circle cx="95.1" cy="346.8" r="5.6"/><circle cx="81.2" cy="372.8" r="5.6"/><circle cx="110.5" cy="408.7" r="5.6"/><circle cx="114.3" cy="332.4" r="5.6"/><circle cx="106.9" cy="366" r="5.6"/><circle cx="78.8" cy="322.3" r="5.6"/><circle cx="75.7" cy="389.7" r="5.6"/><circle cx="130.3" cy="375.8" r="5.6"/><circle cx="118.3" cy="372.7" r="5.6"/><circle cx="117.8" cy="367.1" r="5.6"/><circle cx="99.3" cy="369.6" r="5.6"/><circle cx="80.4" cy="392.4" r="5.6"/><circle cx="104.6" cy="383.7" r="5.6"/><circle cx="91.4" cy="337.5" r="5.6"/><circle cx="118" cy="386" r="5.6"/><circle cx="109.8" cy="417.3" r="5.6"/><circle cx="92.7" cy="348.4" r="5.6"/><circle cx="119.9" cy="381.9" r="5.6"/><circle cx="91.6" cy="324.7" r="5.6"/><circle cx="87.2" cy="375.5" r="5.6"/><circle cx="104.2" cy="365.9" r="5.6"/><circle cx="110.8" cy="409" r="5.6"/><circle cx="91.3" cy="390" r="5.6"/><circle cx="114.9" cy="386.8" r="5.6"/><circle cx="104.6" cy="399.2" r="5.6"/><circle cx="108.4" cy="382.8" r="5.6"/><circle cx="76" cy="364.1" r="5.6"/><circle cx="77.2" cy="383.5" r="5.6"/><circle cx="127.2" cy="379.1" r="5.6"/><circle cx="105.3" cy="380.8" r="5.6"/><circle cx="114.8" cy="412.7" r="5.6"/><circle cx="100.3" cy="351.7" r="5.6"/><circle cx="72" cy="345.8" r="5.6"/><circle cx="91" cy="363.4" r="5.6"/><circle cx="113.7" cy="351.2" r="5.6"/><circle cx="92.9" cy="339.1" r="5.6"/><circle cx="87.5" cy="394.2" r="5.6"/><circle cx="115.2" cy="405.5" r="5.6"/><circle cx="80.5" cy="357.5" r="5.6"/><circle cx="79.1" cy="373.2" r="5.6"/><circle cx="124.6" cy="408.7" r="5.6"/><circle cx="86" cy="372.1" r="5.6"/><circle cx="105.9" cy="417.4" r="5.6"/><circle cx="94.1" cy="374" r="5.6"/><circle cx="107.1" cy="370.8" r="5.6"/><circle cx="121.2" cy="338.8" r="5.6"/><circle cx="104.7" cy="318.8" r="5.6"/><circle cx="65.3" cy="377.1" r="5.6"/><circle cx="83.3" cy="425.8" r="5.6"/><circle cx="100.3" cy="379" r="5.6"/><circle cx="118.7" cy="395.5" r="5.6"/><circle cx="126.7" cy="344" r="5.6"/><circle cx="66.9" cy="331.5" r="5.6"/><circle cx="65.8" cy="422.4" r="5.6"/><circle cx="67.1" cy="390.5" r="5.6"/><circle cx="104.4" cy="376.1" r="5.6"/><circle cx="122" cy="374.2" r="5.6"/><circle cx="92.1" cy="325.4" r="5.6"/><circle cx="93.9" cy="363.2" r="5.6"/><circle cx="117.7" cy="379.1" r="5.6"/><circle cx="112.4" cy="375" r="5.6"/><circle cx="89.7" cy="342.4" r="5.6"/><circle cx="80.8" cy="380.2" r="5.6"/><circle cx="85.2" cy="315" r="5.6"/><circle cx="96.7" cy="365.5" r="5.6"/><circle cx="94.1" cy="402.8" r="5.6"/><circle cx="97.4" cy="354.9" r="5.6"/><circle cx="128.4" cy="350.1" r="5.6"/><circle cx="91.1" cy="380.4" r="5.6"/><circle cx="82.5" cy="363.2" r="5.6"/><circle cx="127.7" cy="355.2" r="5.6"/><circle cx="98.2" cy="337" r="5.6"/><circle cx="83.3" cy="422.4" r="5.6"/><circle cx="100.9" cy="351" r="5.6"/><circle cx="91.1" cy="350.8" r="5.6"/><circle cx="85.8" cy="388.3" r="5.6"/><circle cx="88.2" cy="352.3" r="5.6"/><circle cx="104.6" cy="317.5" r="5.6"/><circle cx="82.4" cy="417.9" r="5.6"/><circle cx="103.8" cy="391.8" r="5.6"/><circle cx="85.1" cy="336.3" r="5.6"/><circle cx="78.8" cy="376.3" r="5.6"/><circle cx="98.9" cy="326.5" r="5.6"/><circle cx="109.5" cy="347" r="5.6"/><circle cx="128.7" cy="378" r="5.6"/><circle cx="82" cy="384" r="5.6"/><circle cx="101.1" cy="364.4" r="5.6"/><circle cx="104.9" cy="395.3" r="5.6"/><circle cx="90.7" cy="359.2" r="5.6"/><circle cx="106.9" cy="357.4" r="5.6"/><circle cx="84.7" cy="376.9" r="5.6"/><circle cx="104.7" cy="396.7" r="5.6"/><circle cx="102.9" cy="373.5" r="5.6"/><circle cx="110.9" cy="385" r="5.6"/><circle cx="93.4" cy="355" r="5.6"/><circle cx="82.3" cy="366.9" r="5.6"/><circle cx="87.7" cy="424.9" r="5.6"/><circle cx="69.2" cy="366.9" r="5.6"/><circle cx="88.2" cy="363.7" r="5.6"/><circle cx="67.2" cy="402" r="5.6"/><circle cx="76.3" cy="421.9" r="5.6"/><circle cx="88.8" cy="405.2" r="5.6"/><circle cx="77.5" cy="384.6" r="5.6"/><circle cx="83.6" cy="386.4" r="5.6"/><circle cx="88.3" cy="394.9" r="5.6"/><circle cx="100.7" cy="317.2" r="5.6"/><circle cx="91.6" cy="391.6" r="5.6"/><circle cx="87.9" cy="362.4" r="5.6"/><circle cx="110.1" cy="360" r="5.6"/><circle cx="103.5" cy="363.4" r="5.6"/><circle cx="117.5" cy="361.8" r="5.6"/><circle cx="73.2" cy="395.7" r="5.6"/><circle cx="119.2" cy="354.1" r="5.6"/><circle cx="89.3" cy="366" r="5.6"/><circle cx="97.3" cy="389.2" r="5.6"/><circle cx="123.2" cy="379.4" r="5.6"/><circle cx="100.4" cy="380.8" r="5.6"/><circle cx="75.7" cy="361.6" r="5.6"/><circle cx="83.4" cy="381.9" r="5.6"/><circle cx="89.1" cy="344.5" r="5.6"/><circle cx="75.7" cy="341.5" r="5.6"/><circle cx="98.8" cy="371.1" r="5.6"/><circle cx="88.8" cy="335.6" r="5.6"/><circle cx="85.9" cy="321.8" r="5.6"/><circle cx="112.2" cy="367.2" r="5.6"/><circle cx="109.1" cy="372" r="5.6"/><circle cx="125.5" cy="328.1" r="5.6"/><circle cx="98.4" cy="386.7" r="5.6"/><circle cx="96.5" cy="415.6" r="5.6"/><circle cx="102.3" cy="393.8" r="5.6"/><circle cx="130.6" cy="398.9" r="5.6"/><circle cx="88.7" cy="388" r="5.6"/><circle cx="124.8" cy="317.8" r="5.6"/><circle cx="134.8" cy="323.3" r="5.6"/><circle cx="137.6" cy="327.9" r="5.6"/><circle cx="150.4" cy="327" r="5.6"/><circle cx="146.8" cy="334.3" r="5.6"/><circle cx="155.9" cy="340.8" r="5.6"/><circle cx="163.2" cy="339.8" r="5.6"/><circle cx="163.2" cy="349.9" r="5.6"/><circle cx="182.5" cy="342.6" r="5.6"/><circle cx="190.8" cy="351.8" r="5.6"/><circle cx="196.2" cy="351.8" r="5.6"/><circle cx="180.7" cy="356.3" r="5.6"/><circle cx="171.5" cy="360.9" r="5.6"/><circle cx="131.2" cy="354.5" r="5.6"/><circle cx="137.6" cy="353.6" r="5.6"/><circle cx="149.5" cy="366.4" r="5.6"/><circle cx="155.9" cy="366.4" r="5.6"/><circle cx="182.5" cy="367.3" r="5.6"/><circle cx="192.6" cy="367.3" r="5.6"/><circle cx="208.2" cy="366.8" r="5.6"/><circle cx="221" cy="366.8" r="5.6"/><circle cx="227.4" cy="366.4" r="5.6"/><circle cx="243.9" cy="366.4" r="5.6"/><circle cx="256.8" cy="367.3" r="5.6"/><circle cx="230.2" cy="353.6" r="5.6"/><circle cx="244.8" cy="353.6" r="5.6"/><circle cx="255.8" cy="354.5" r="5.6"/><circle cx="251.3" cy="339.8" r="5.6"/><circle cx="253.1" cy="327.9" r="5.6"/><circle cx="244.8" cy="319.7" r="5.6"/><circle cx="233.8" cy="326.1" r="5.6"/><circle cx="220.5" cy="318.8" r="5.6"/><circle cx="263.2" cy="377.4" r="5.6"/><circle cx="257.7" cy="376.5" r="5.6"/><circle cx="227.4" cy="378.3" r="5.6"/><circle cx="170.6" cy="376.5" r="5.6"/><circle cx="182.5" cy="378.3" r="5.6"/><circle cx="162.3" cy="386.6" r="5.6"/><circle cx="133" cy="389.3" r="5.6"/><circle cx="150.4" cy="393" r="5.6"/><circle cx="155.9" cy="393" r="5.6"/><circle cx="138.5" cy="392.1" r="5.6"/><circle cx="190.8" cy="388.4" r="5.6"/><circle cx="201.8" cy="392.1" r="5.6"/><circle cx="221" cy="391.5" r="5.6"/><circle cx="227.4" cy="390.2" r="5.6"/><circle cx="239.3" cy="390.2" r="5.6"/><circle cx="243.9" cy="386.6" r="5.6"/><circle cx="251.3" cy="390.2" r="5.6"/><circle cx="254.9" cy="382" r="5.6"/><circle cx="175.2" cy="398.5" r="5.6"/><circle cx="190.8" cy="399.4" r="5.6"/><circle cx="195.3" cy="404" r="5.6"/><circle cx="131.2" cy="404.9" r="5.6"/><circle cx="227.4" cy="403.1" r="5.6"/><circle cx="232.9" cy="404.9" r="5.6"/><circle cx="257.7" cy="403.1" r="5.6"/><circle cx="243" cy="411.3" r="5.6"/><circle cx="235.7" cy="415.9" r="5.6"/><circle cx="240.2" cy="416.8" r="5.6"/><circle cx="231.1" cy="413.2" r="5.6"/><circle cx="257.3" cy="415.9" r="5.6"/><circle cx="155.9" cy="415.9" r="5.6"/><circle cx="187.1" cy="411.3" r="5.6"/><circle cx="193.5" cy="416.8" r="5.6"/><circle cx="188" cy="417.8" r="5.6"/><circle cx="187.1" cy="423.2" r="5.6"/><circle cx="176.1" cy="425.1" r="5.6"/><circle cx="130.2" cy="420.5" r="5.6"/><circle cx="137.6" cy="422.3" r="5.6"/><circle cx="131.2" cy="413.2" r="5.6"/><circle cx="116.5" cy="424.2" r="5.6"/><circle cx="103.7" cy="420.5" r="5.6"/><circle cx="98.2" cy="425.1" r="5.6"/><circle cx="86.2" cy="424.2" r="5.6"/><circle cx="78.9" cy="415.9" r="5.6"/><circle cx="70.7" cy="415.9" r="5.6"/><circle cx="75.2" cy="419.6" r="5.6"/></g><polygon points="147.7,373.8 263.2,371.4 263.2,385.3 147.7,375.9" fill="#f00000" fill-opacity="0.4"/><path d="M67.9 372.5L262.2 378.3" class="rl"/>
</g>
<rect x="59.4" y="308.9" width="211.5" height="122.2" class="bd"/>
<path d="M319.9 310.5V429.4M382.1 310.5V429.4M444.4 310.5V429.4M282.8 416H488.6M282.8 386.3H488.6M282.8 356.5H488.6M282.8 326.8H488.6" class="gm"/><path d="M288.8 310.5V429.4M351 310.5V429.4M413.2 310.5V429.4M475.5 310.5V429.4M282.8 401.1H488.6M282.8 371.4H488.6M282.8 341.6H488.6M282.8 311.9H488.6" class="gM"/>
<g clip-path="url(#c21)">
<g class="pt"><circle cx="310.9" cy="356.7" r="5.6"/><circle cx="301.7" cy="355.7" r="5.6"/><circle cx="315.5" cy="404.1" r="5.6"/><circle cx="289.8" cy="421.3" r="5.6"/><circle cx="302.6" cy="380.1" r="5.6"/><circle cx="294.1" cy="389.8" r="5.6"/><circle cx="334.2" cy="388.2" r="5.6"/><circle cx="342.8" cy="396.9" r="5.6"/><circle cx="306.6" cy="312.2" r="5.6"/><circle cx="293.6" cy="358.8" r="5.6"/><circle cx="324.4" cy="362.3" r="5.6"/><circle cx="314.4" cy="408.9" r="5.6"/><circle cx="297.7" cy="330.5" r="5.6"/><circle cx="309.7" cy="340" r="5.6"/><circle cx="295.9" cy="378.8" r="5.6"/><circle cx="294" cy="340.7" r="5.6"/><circle cx="330.5" cy="370.6" r="5.6"/><circle cx="294.7" cy="326" r="5.6"/><circle cx="301.4" cy="328.8" r="5.6"/><circle cx="306.1" cy="340.2" r="5.6"/><circle cx="293.4" cy="365.2" r="5.6"/><circle cx="311" cy="387.9" r="5.6"/><circle cx="302.1" cy="350.7" r="5.6"/><circle cx="330.9" cy="374.3" r="5.6"/><circle cx="306.1" cy="376" r="5.6"/><circle cx="288.8" cy="356" r="5.6"/><circle cx="309.9" cy="409" r="5.6"/><circle cx="316.6" cy="324.5" r="5.6"/><circle cx="320.5" cy="404.8" r="5.6"/><circle cx="292.2" cy="390.6" r="5.6"/><circle cx="308.7" cy="389.1" r="5.6"/><circle cx="302.6" cy="386.1" r="5.6"/><circle cx="302.6" cy="332.9" r="5.6"/><circle cx="304.1" cy="378.9" r="5.6"/><circle cx="294.8" cy="419.9" r="5.6"/><circle cx="302.6" cy="338.3" r="5.6"/><circle cx="304.2" cy="390.7" r="5.6"/><circle cx="292.2" cy="375.3" r="5.6"/><circle cx="303.5" cy="408" r="5.6"/><circle cx="293.3" cy="348" r="5.6"/><circle cx="309.1" cy="416" r="5.6"/><circle cx="300.6" cy="411" r="5.6"/><circle cx="318.4" cy="352.6" r="5.6"/><circle cx="288.4" cy="408.2" r="5.6"/><circle cx="345.5" cy="388.5" r="5.6"/><circle cx="308.3" cy="390" r="5.6"/><circle cx="308.9" cy="401.9" r="5.6"/><circle cx="322" cy="403.8" r="5.6"/><circle cx="316.4" cy="377.7" r="5.6"/><circle cx="312" cy="407.9" r="5.6"/><circle cx="307.8" cy="327.3" r="5.6"/><circle cx="300.1" cy="370.6" r="5.6"/><circle cx="303.1" cy="381.8" r="5.6"/><circle cx="303.2" cy="399.5" r="5.6"/><circle cx="300.8" cy="389.3" r="5.6"/><circle cx="316.2" cy="386.1" r="5.6"/><circle cx="322.9" cy="372.5" r="5.6"/><circle cx="307.6" cy="323.8" r="5.6"/><circle cx="331.6" cy="390.4" r="5.6"/><circle cx="307.5" cy="423.2" r="5.6"/><circle cx="322.5" cy="392.5" r="5.6"/><circle cx="318.2" cy="412.7" r="5.6"/><circle cx="315.9" cy="403.3" r="5.6"/><circle cx="303.5" cy="347.6" r="5.6"/><circle cx="315.9" cy="357.3" r="5.6"/><circle cx="343.3" cy="392.6" r="5.6"/><circle cx="289.6" cy="336.3" r="5.6"/><circle cx="303.8" cy="362.5" r="5.6"/><circle cx="307.7" cy="373" r="5.6"/><circle cx="322.1" cy="360.7" r="5.6"/><circle cx="292.6" cy="372.4" r="5.6"/><circle cx="308.4" cy="382.1" r="5.6"/><circle cx="296" cy="361.1" r="5.6"/><circle cx="290.8" cy="419.3" r="5.6"/><circle cx="301.4" cy="359.3" r="5.6"/><circle cx="306.1" cy="327.7" r="5.6"/><circle cx="301.7" cy="371.9" r="5.6"/><circle cx="315.8" cy="368.3" r="5.6"/><circle cx="288.2" cy="321.1" r="5.6"/><circle cx="293.2" cy="403.1" r="5.6"/><circle cx="310.4" cy="398.2" r="5.6"/><circle cx="325.4" cy="382" r="5.6"/><circle cx="321" cy="390.7" r="5.6"/><circle cx="337" cy="387" r="5.6"/><circle cx="298.4" cy="402.1" r="5.6"/><circle cx="296.8" cy="391.2" r="5.6"/><circle cx="314.1" cy="377.2" r="5.6"/><circle cx="315.5" cy="350.4" r="5.6"/><circle cx="343.7" cy="388.4" r="5.6"/><circle cx="304.5" cy="399" r="5.6"/><circle cx="326" cy="394" r="5.6"/><circle cx="312.8" cy="369.4" r="5.6"/><circle cx="307.4" cy="381.1" r="5.6"/><circle cx="306.1" cy="349.3" r="5.6"/><circle cx="319.7" cy="385.2" r="5.6"/><circle cx="300.5" cy="399.8" r="5.6"/><circle cx="287" cy="410.2" r="5.6"/><circle cx="312.5" cy="312.7" r="5.6"/><circle cx="301.7" cy="358.8" r="5.6"/><circle cx="340.1" cy="383" r="5.6"/><circle cx="286.2" cy="350.8" r="5.6"/><circle cx="304.5" cy="334.7" r="5.6"/><circle cx="313" cy="406.3" r="5.6"/><circle cx="317.2" cy="361.6" r="5.6"/><circle cx="340.4" cy="370.6" r="5.6"/><circle cx="308" cy="397.9" r="5.6"/><circle cx="307.1" cy="358.5" r="5.6"/><circle cx="299" cy="339" r="5.6"/><circle cx="303.4" cy="323" r="5.6"/><circle cx="308.5" cy="377.8" r="5.6"/><circle cx="310.7" cy="398.9" r="5.6"/><circle cx="325.2" cy="369.1" r="5.6"/><circle cx="289.4" cy="390.9" r="5.6"/><circle cx="289.7" cy="351.3" r="5.6"/><circle cx="302.1" cy="368" r="5.6"/><circle cx="308.9" cy="409.9" r="5.6"/><circle cx="311.9" cy="369" r="5.6"/><circle cx="326.6" cy="382.5" r="5.6"/><circle cx="307.7" cy="320.6" r="5.6"/><circle cx="336.3" cy="370.3" r="5.6"/><circle cx="311.1" cy="350.7" r="5.6"/><circle cx="303.2" cy="387.8" r="5.6"/><circle cx="304.8" cy="327.7" r="5.6"/><circle cx="299.8" cy="414.9" r="5.6"/><circle cx="298.1" cy="387.1" r="5.6"/><circle cx="305.4" cy="404.5" r="5.6"/><circle cx="300.7" cy="403" r="5.6"/><circle cx="319.6" cy="385.7" r="5.6"/><circle cx="306" cy="364" r="5.6"/><circle cx="311.2" cy="360.9" r="5.6"/><circle cx="326.1" cy="362.3" r="5.6"/><circle cx="334.3" cy="383.6" r="5.6"/><circle cx="302.2" cy="356" r="5.6"/><circle cx="301" cy="379.5" r="5.6"/><circle cx="297.4" cy="372.5" r="5.6"/><circle cx="313" cy="369.8" r="5.6"/><circle cx="311" cy="412.3" r="5.6"/><circle cx="324.5" cy="387.4" r="5.6"/><circle cx="297.1" cy="379.9" r="5.6"/><circle cx="310" cy="381.9" r="5.6"/><circle cx="302" cy="332.6" r="5.6"/><circle cx="340.6" cy="386.2" r="5.6"/><circle cx="308.3" cy="381.1" r="5.6"/><circle cx="299.6" cy="328.2" r="5.6"/><circle cx="303.6" cy="417.6" r="5.6"/><circle cx="312.7" cy="322.8" r="5.6"/><circle cx="302.1" cy="364.5" r="5.6"/><circle cx="317.6" cy="326.3" r="5.6"/><circle cx="315.4" cy="364.7" r="5.6"/><circle cx="311.1" cy="376.1" r="5.6"/><circle cx="319.2" cy="313.4" r="5.6"/><circle cx="290.8" cy="414.6" r="5.6"/><circle cx="293.5" cy="375.4" r="5.6"/><circle cx="310.7" cy="336.2" r="5.6"/><circle cx="327.1" cy="389.5" r="5.6"/><circle cx="309.9" cy="368.5" r="5.6"/><circle cx="292.1" cy="336.4" r="5.6"/><circle cx="307.9" cy="388.6" r="5.6"/><circle cx="295.4" cy="373.1" r="5.6"/><circle cx="305.4" cy="331.3" r="5.6"/><circle cx="317.2" cy="353.9" r="5.6"/><circle cx="306.7" cy="386.3" r="5.6"/><circle cx="287.2" cy="407" r="5.6"/><circle cx="339" cy="367.1" r="5.6"/><circle cx="300.4" cy="399.7" r="5.6"/><circle cx="293.4" cy="343.9" r="5.6"/><circle cx="323.5" cy="367.7" r="5.6"/><circle cx="314.6" cy="383.6" r="5.6"/><circle cx="323.9" cy="395.9" r="5.6"/><circle cx="336.2" cy="384.7" r="5.6"/><circle cx="298.7" cy="404.4" r="5.6"/><circle cx="314.1" cy="371.5" r="5.6"/><circle cx="294.1" cy="401.7" r="5.6"/><circle cx="309" cy="406.5" r="5.6"/><circle cx="300.1" cy="380" r="5.6"/><circle cx="308.7" cy="381.7" r="5.6"/><circle cx="302.8" cy="379.4" r="5.6"/><circle cx="338.1" cy="395.7" r="5.6"/><circle cx="291" cy="394" r="5.6"/><circle cx="311.8" cy="332" r="5.6"/><circle cx="292.5" cy="418.8" r="5.6"/><circle cx="328.4" cy="361.8" r="5.6"/><circle cx="306.1" cy="354.6" r="5.6"/><circle cx="290.6" cy="350.1" r="5.6"/><circle cx="319.7" cy="319.9" r="5.6"/><circle cx="339.8" cy="372.1" r="5.6"/><circle cx="299.6" cy="396.3" r="5.6"/><circle cx="289.1" cy="392.1" r="5.6"/><circle cx="302.4" cy="398.5" r="5.6"/><circle cx="340.8" cy="388.6" r="5.6"/><circle cx="306.8" cy="392.5" r="5.6"/><circle cx="300.8" cy="350.9" r="5.6"/><circle cx="295.5" cy="401.7" r="5.6"/><circle cx="297.4" cy="378.5" r="5.6"/><circle cx="311.7" cy="382.1" r="5.6"/><circle cx="301.6" cy="343.6" r="5.6"/><circle cx="324.4" cy="399.3" r="5.6"/><circle cx="301.7" cy="379.5" r="5.6"/><circle cx="333.8" cy="388.4" r="5.6"/><circle cx="310.9" cy="390.2" r="5.6"/><circle cx="306.3" cy="415.7" r="5.6"/><circle cx="314.2" cy="413.2" r="5.6"/><circle cx="319.5" cy="376.4" r="5.6"/><circle cx="322.9" cy="389.2" r="5.6"/><circle cx="291.8" cy="365.2" r="5.6"/><circle cx="294.8" cy="395.2" r="5.6"/><circle cx="314.8" cy="418.5" r="5.6"/><circle cx="309.3" cy="359.2" r="5.6"/><circle cx="320.7" cy="404" r="5.6"/><circle cx="319.3" cy="374.9" r="5.6"/><circle cx="339.7" cy="398.4" r="5.6"/><circle cx="305.3" cy="402.4" r="5.6"/><circle cx="311.6" cy="387.6" r="5.6"/><circle cx="304.8" cy="398" r="5.6"/><circle cx="299.5" cy="378.2" r="5.6"/><circle cx="310.4" cy="363.2" r="5.6"/><circle cx="319.3" cy="318.9" r="5.6"/><circle cx="313.7" cy="377.1" r="5.6"/><circle cx="318.6" cy="367.3" r="5.6"/><circle cx="296.5" cy="341.6" r="5.6"/><circle cx="316.5" cy="376.8" r="5.6"/><circle cx="304.3" cy="347" r="5.6"/><circle cx="309.5" cy="335.7" r="5.6"/><circle cx="315.4" cy="413.1" r="5.6"/><circle cx="299.9" cy="374.9" r="5.6"/><circle cx="331.8" cy="374.9" r="5.6"/><circle cx="299.9" cy="346.7" r="5.6"/><circle cx="298.9" cy="389.3" r="5.6"/><circle cx="307.9" cy="379.8" r="5.6"/><circle cx="315.5" cy="368.2" r="5.6"/><circle cx="290.4" cy="376.2" r="5.6"/><circle cx="326.2" cy="360.5" r="5.6"/><circle cx="287.2" cy="399.5" r="5.6"/><circle cx="303.6" cy="344.9" r="5.6"/><circle cx="296.5" cy="394.3" r="5.6"/><circle cx="297.3" cy="369.4" r="5.6"/><circle cx="313.1" cy="318.9" r="5.6"/><circle cx="304.2" cy="405.5" r="5.6"/><circle cx="290" cy="343.8" r="5.6"/><circle cx="340.7" cy="372.8" r="5.6"/><circle cx="324.3" cy="398.8" r="5.6"/><circle cx="293.4" cy="394.7" r="5.6"/><circle cx="299.9" cy="371.1" r="5.6"/><circle cx="315.4" cy="327.5" r="5.6"/><circle cx="304.3" cy="371.4" r="5.6"/><circle cx="300.7" cy="391.5" r="5.6"/><circle cx="298.4" cy="406.1" r="5.6"/><circle cx="296.9" cy="359.1" r="5.6"/><circle cx="320" cy="374.6" r="5.6"/><circle cx="302.1" cy="395.3" r="5.6"/><circle cx="297.8" cy="361.9" r="5.6"/><circle cx="307.2" cy="351.9" r="5.6"/><circle cx="303.6" cy="371" r="5.6"/><circle cx="292.5" cy="348.2" r="5.6"/><circle cx="291.2" cy="360.1" r="5.6"/><circle cx="324.6" cy="378.2" r="5.6"/><circle cx="314.2" cy="407.1" r="5.6"/><circle cx="298.9" cy="327" r="5.6"/><circle cx="302.5" cy="393" r="5.6"/><circle cx="293.8" cy="335.9" r="5.6"/><circle cx="292.7" cy="320" r="5.6"/><circle cx="289.1" cy="357.8" r="5.6"/><circle cx="332.6" cy="390.2" r="5.6"/><circle cx="308" cy="342" r="5.6"/><circle cx="315" cy="331.3" r="5.6"/><circle cx="330.5" cy="383.3" r="5.6"/><circle cx="309.8" cy="385.8" r="5.6"/><circle cx="328.8" cy="393.1" r="5.6"/><circle cx="315.8" cy="346.2" r="5.6"/><circle cx="332.2" cy="378.9" r="5.6"/><circle cx="299.2" cy="363.3" r="5.6"/><circle cx="316.9" cy="389.5" r="5.6"/><circle cx="320.8" cy="420.6" r="5.6"/><circle cx="295.8" cy="360.1" r="5.6"/><circle cx="300.2" cy="401.8" r="5.6"/><circle cx="320.3" cy="368.9" r="5.6"/><circle cx="307.6" cy="353.8" r="5.6"/><circle cx="296.1" cy="364.8" r="5.6"/><circle cx="327.9" cy="383.1" r="5.6"/><circle cx="328.2" cy="385.8" r="5.6"/><circle cx="323.6" cy="382" r="5.6"/><circle cx="297.4" cy="352.5" r="5.6"/><circle cx="297.5" cy="333.5" r="5.6"/><circle cx="304.1" cy="385.2" r="5.6"/><circle cx="309.8" cy="372.4" r="5.6"/><circle cx="304.2" cy="413.9" r="5.6"/><circle cx="296.7" cy="328.1" r="5.6"/><circle cx="317.8" cy="319.3" r="5.6"/><circle cx="292.3" cy="364.4" r="5.6"/><circle cx="315.7" cy="369.1" r="5.6"/><circle cx="290.9" cy="366.3" r="5.6"/><circle cx="303.3" cy="317.2" r="5.6"/><circle cx="305.2" cy="354.6" r="5.6"/><circle cx="316.6" cy="356.2" r="5.6"/><circle cx="332.1" cy="404.6" r="5.6"/><circle cx="305.1" cy="324.3" r="5.6"/><circle cx="324.4" cy="413.5" r="5.6"/><circle cx="292.4" cy="383.3" r="5.6"/><circle cx="311.7" cy="401.2" r="5.6"/><circle cx="299.6" cy="354.3" r="5.6"/><circle cx="310" cy="397.3" r="5.6"/><circle cx="315.9" cy="362.5" r="5.6"/><circle cx="304.8" cy="385.1" r="5.6"/><circle cx="339.3" cy="386.9" r="5.6"/><circle cx="296.3" cy="336.8" r="5.6"/><circle cx="308.3" cy="353.6" r="5.6"/><circle cx="308.6" cy="418.1" r="5.6"/><circle cx="287.3" cy="358.6" r="5.6"/><circle cx="296.6" cy="378.5" r="5.6"/><circle cx="305.5" cy="355.8" r="5.6"/><circle cx="308.7" cy="348" r="5.6"/><circle cx="305.3" cy="419" r="5.6"/><circle cx="286.9" cy="341.8" r="5.6"/><circle cx="321.7" cy="417.3" r="5.6"/><circle cx="307.5" cy="330.2" r="5.6"/><circle cx="342.8" cy="386.2" r="5.6"/><circle cx="306.7" cy="400.8" r="5.6"/><circle cx="298.6" cy="344.7" r="5.6"/><circle cx="328" cy="383.5" r="5.6"/><circle cx="320.4" cy="403" r="5.6"/><circle cx="314" cy="384" r="5.6"/><circle cx="290.4" cy="336.1" r="5.6"/><circle cx="312.2" cy="381.3" r="5.6"/><circle cx="294.4" cy="337.9" r="5.6"/><circle cx="328.1" cy="394.8" r="5.6"/><circle cx="297.7" cy="394.1" r="5.6"/><circle cx="291" cy="348.3" r="5.6"/><circle cx="318.8" cy="378.6" r="5.6"/><circle cx="297.8" cy="412.1" r="5.6"/><circle cx="296.3" cy="388.2" r="5.6"/><circle cx="385.1" cy="318.8" r="5.6"/><circle cx="462.1" cy="320" r="5.6"/><circle cx="448.3" cy="326.1" r="5.6"/><circle cx="451.1" cy="327.9" r="5.6"/><circle cx="349.3" cy="326.1" r="5.6"/><circle cx="357.6" cy="326.1" r="5.6"/><circle cx="364" cy="327" r="5.6"/><circle cx="336.5" cy="325.2" r="5.6"/><circle cx="331" cy="327.9" r="5.6"/><circle cx="324.6" cy="327.4" r="5.6"/><circle cx="315.4" cy="317.8" r="5.6"/><circle cx="309.9" cy="313.2" r="5.6"/><circle cx="297.1" cy="316.4" r="5.6"/><circle cx="370.4" cy="334.3" r="5.6"/><circle cx="372.2" cy="340.8" r="5.6"/><circle cx="364" cy="340.8" r="5.6"/><circle cx="338.3" cy="342.6" r="5.6"/><circle cx="426.3" cy="339.8" r="5.6"/><circle cx="420.8" cy="349.9" r="5.6"/><circle cx="413.1" cy="352.3" r="5.6"/><circle cx="427.8" cy="354.5" r="5.6"/><circle cx="475.5" cy="353.6" r="5.6"/><circle cx="385.1" cy="355.4" r="5.6"/><circle cx="364" cy="353.6" r="5.6"/><circle cx="356.7" cy="360" r="5.6"/><circle cx="366.8" cy="366.4" r="5.6"/><circle cx="359.4" cy="366.4" r="5.6"/><circle cx="344.8" cy="366.4" r="5.6"/><circle cx="331.9" cy="363.1" r="5.6"/><circle cx="329.2" cy="354.1" r="5.6"/><circle cx="321.8" cy="349.9" r="5.6"/><circle cx="398.5" cy="366.8" r="5.6"/><circle cx="409.5" cy="366.8" r="5.6"/><circle cx="421.2" cy="367.3" r="5.6"/><circle cx="426.3" cy="366.4" r="5.6"/><circle cx="439.2" cy="366.4" r="5.6"/><circle cx="385.1" cy="375.6" r="5.6"/><circle cx="459.3" cy="376.9" r="5.6"/><circle cx="472.2" cy="377.4" r="5.6"/><circle cx="483.2" cy="377.4" r="5.6"/><circle cx="434.6" cy="378.3" r="5.6"/><circle cx="448.3" cy="382" r="5.6"/><circle cx="398.8" cy="379.2" r="5.6"/><circle cx="370.4" cy="378.3" r="5.6"/><circle cx="385.1" cy="387.1" r="5.6"/><circle cx="398.5" cy="388.4" r="5.6"/><circle cx="420.8" cy="387.1" r="5.6"/><circle cx="419.9" cy="392.1" r="5.6"/><circle cx="359.4" cy="392.6" r="5.6"/><circle cx="364.9" cy="388.4" r="5.6"/><circle cx="344.8" cy="389.3" r="5.6"/><circle cx="338.3" cy="390.2" r="5.6"/><circle cx="331" cy="391.2" r="5.6"/><circle cx="323.7" cy="390.2" r="5.6"/><circle cx="444.3" cy="393" r="5.6"/><circle cx="464.8" cy="390.2" r="5.6"/><circle cx="475.8" cy="390.8" r="5.6"/><circle cx="371" cy="398.9" r="5.6"/><circle cx="400.7" cy="400" r="5.6"/><circle cx="392.4" cy="403.6" r="5.6"/><circle cx="413.1" cy="404" r="5.6"/><circle cx="438.8" cy="404.9" r="5.6"/><circle cx="482.8" cy="403.6" r="5.6"/><circle cx="329.2" cy="403.1" r="5.6"/><circle cx="349.3" cy="412.2" r="5.6"/><circle cx="379.6" cy="411.3" r="5.6"/><circle cx="398.8" cy="412.2" r="5.6"/><circle cx="427.8" cy="411.3" r="5.6"/><circle cx="428.2" cy="415" r="5.6"/><circle cx="372.2" cy="416.5" r="5.6"/><circle cx="387.8" cy="417.2" r="5.6"/><circle cx="398.8" cy="416.5" r="5.6"/><circle cx="449.2" cy="416.5" r="5.6"/><circle cx="452" cy="416.5" r="5.6"/><circle cx="346.6" cy="422.3" r="5.6"/><circle cx="352.1" cy="421.4" r="5.6"/><circle cx="412.6" cy="422.3" r="5.6"/><circle cx="391.1" cy="425.1" r="5.6"/><circle cx="322.8" cy="419.6" r="5.6"/><circle cx="315.4" cy="416.8" r="5.6"/><circle cx="317.2" cy="426" r="5.6"/><circle cx="298.9" cy="426" r="5.6"/><circle cx="296.2" cy="416.8" r="5.6"/></g><polygon points="367.7,374.7 482.8,371.7 482.8,389.3 367.7,376.9" fill="#f00000" fill-opacity="0.4"/><path d="M288.8 372.5L482.8 380.5" class="rl"/>
</g>
<rect x="279.9" y="308.9" width="211.5" height="122.2" class="bd"/>
<path d="M527.4 310.5V429.4M578.1 310.5V429.4M628.9 310.5V429.4M679.6 310.5V429.4M503.4 330.3H709.1M503.4 358.2H709.1M503.4 385.7H709.1M503.4 412.8H709.1" class="gm"/><path d="M552.8 310.5V429.4M603.5 310.5V429.4M654.2 310.5V429.4M705 310.5V429.4M503.4 316.9H709.1M503.4 344.1H709.1M503.4 371.9H709.1M503.4 399.4H709.1M503.4 426H709.1" class="gM"/>
<g clip-path="url(#c22)">
<path d="M509.8 409.9C510.8 408.6 513.9 404.4 516.2 402.2C518.5 399.9 521.1 397.7 523.5 396.3C525.9 394.9 528.4 394.8 530.8 393.9C533.3 393.1 535.7 392.5 538.2 391.2C540.6 389.8 543.1 387.7 545.5 385.7C547.9 383.7 550.7 381.7 552.8 379.2C555 376.8 556.5 374.5 558.3 371C560.2 367.5 562 362.6 563.8 358.2C565.7 353.7 567.5 348.4 569.3 344.4C571.2 340.4 573 337.4 574.8 334.3C576.7 331.3 578.5 328.8 580.3 326.1C582.2 323.3 584.3 319.8 585.8 317.8C587.4 315.8 588.3 314.9 589.5 314.2C590.7 313.4 591.9 313.1 593.2 313.2C594.4 313.4 595.5 314.2 596.8 315.1C598.2 316 599.9 317.9 601.4 318.8C602.9 319.6 604.5 319.7 606 320C607.5 320.3 609.2 320 610.6 320.6C612 321.1 613 321.8 614.2 323.3C615.5 324.9 616.5 327 617.9 329.8C619.3 332.5 620.8 336.5 622.5 339.8C624.2 343.2 625.9 346.6 628 349.9C630.1 353.3 633.2 356.8 635.3 360C637.5 363.2 639 366.1 640.8 369.2C642.7 372.2 644.5 375.6 646.3 378.3C648.2 381.1 650 383.5 651.8 385.7C653.7 387.8 655.2 389.3 657.3 391.2C659.5 393 662.2 395.2 664.7 396.7C667.1 398.1 669.6 399.2 672 400C674.4 400.7 676.9 400.4 679.3 401.2C681.8 402.1 684.2 403.2 686.7 404.9C689.1 406.6 691.2 409 694 411.3C696.8 413.6 701.6 417.4 703.2 418.7L703.2 426L509.8 426Z" fill="#ff0000" fill-opacity="0.5"/><path d="M509.8 409.9C510.8 408.6 513.9 404.4 516.2 402.2C518.5 399.9 521.1 397.7 523.5 396.3C525.9 394.9 528.4 394.8 530.8 393.9C533.3 393.1 535.7 392.5 538.2 391.2C540.6 389.8 543.1 387.7 545.5 385.7C547.9 383.7 550.7 381.7 552.8 379.2C555 376.8 556.5 374.5 558.3 371C560.2 367.5 562 362.6 563.8 358.2C565.7 353.7 567.5 348.4 569.3 344.4C571.2 340.4 573 337.4 574.8 334.3C576.7 331.3 578.5 328.8 580.3 326.1C582.2 323.3 584.3 319.8 585.8 317.8C587.4 315.8 588.3 314.9 589.5 314.2C590.7 313.4 591.9 313.1 593.2 313.2C594.4 313.4 595.5 314.2 596.8 315.1C598.2 316 599.9 317.9 601.4 318.8C602.9 319.6 604.5 319.7 606 320C607.5 320.3 609.2 320 610.6 320.6C612 321.1 613 321.8 614.2 323.3C615.5 324.9 616.5 327 617.9 329.8C619.3 332.5 620.8 336.5 622.5 339.8C624.2 343.2 625.9 346.6 628 349.9C630.1 353.3 633.2 356.8 635.3 360C637.5 363.2 639 366.1 640.8 369.2C642.7 372.2 644.5 375.6 646.3 378.3C648.2 381.1 650 383.5 651.8 385.7C653.7 387.8 655.2 389.3 657.3 391.2C659.5 393 662.2 395.2 664.7 396.7C667.1 398.1 669.6 399.2 672 400C674.4 400.7 676.9 400.4 679.3 401.2C681.8 402.1 684.2 403.2 686.7 404.9C689.1 406.6 691.2 409 694 411.3C696.8 413.6 701.6 417.4 703.2 418.7" class="dl"/>
</g>
<rect x="500.5" y="308.9" width="211.5" height="122.2" class="bd"/>
<rect x="722.4" y="310.4" width="209.3" height="119.6" fill="#bfbfbf"/>
<text x="827.1" y="358.2" class="cr">Corr:</text>
<text x="827.1" y="404.4" class="cr">−0.016</text>
<rect x="942.9" y="310.4" width="209.3" height="119.6" fill="#bfbfbf"/>
<text x="1047.6" y="358.2" class="cr">Corr:</text>
<text x="1047.6" y="404.4" class="cr">−0.246***</text>
<path d="M88.9 441.9V560.8M146.6 441.9V560.8M204.4 441.9V560.8M262.1 441.9V560.8M62.3 543.5H268M62.3 509H268M62.3 474.5H268" class="gm"/><path d="M117.8 441.9V560.8M175.5 441.9V560.8M233.2 441.9V560.8M62.3 560.7H268M62.3 526.2H268M62.3 491.7H268M62.3 457.2H268" class="gM"/>
<g clip-path="url(#c30)">
<g class="pt"><circle cx="69.9" cy="555.7" r="5.6"/><circle cx="135.4" cy="537.6" r="5.6"/><circle cx="114.5" cy="550.9" r="5.6"/><circle cx="124.7" cy="549.1" r="5.6"/><circle cx="74.4" cy="514.4" r="5.6"/><circle cx="98.2" cy="541.2" r="5.6"/><circle cx="90.3" cy="514.8" r="5.6"/><circle cx="91.3" cy="548.2" r="5.6"/><circle cx="142.2" cy="541.7" r="5.6"/><circle cx="75.5" cy="514.6" r="5.6"/><circle cx="94.4" cy="513.9" r="5.6"/><circle cx="173.9" cy="551.8" r="5.6"/><circle cx="128.2" cy="516.6" r="5.6"/><circle cx="73" cy="544.6" r="5.6"/><circle cx="89.4" cy="543.5" r="5.6"/><circle cx="74.7" cy="537.5" r="5.6"/><circle cx="127.6" cy="525.2" r="5.6"/><circle cx="125.8" cy="537.2" r="5.6"/><circle cx="105.8" cy="541.8" r="5.6"/><circle cx="86.9" cy="555.7" r="5.6"/><circle cx="99.4" cy="550.6" r="5.6"/><circle cx="110" cy="538.4" r="5.6"/><circle cx="94.1" cy="534.8" r="5.6"/><circle cx="102.8" cy="555.5" r="5.6"/><circle cx="70.8" cy="553.2" r="5.6"/><circle cx="91.6" cy="545.1" r="5.6"/><circle cx="140.7" cy="550.6" r="5.6"/><circle cx="73.3" cy="543.2" r="5.6"/><circle cx="80.4" cy="553.1" r="5.6"/><circle cx="96.5" cy="517.2" r="5.6"/><circle cx="85.4" cy="538" r="5.6"/><circle cx="89.6" cy="535.2" r="5.6"/><circle cx="65.2" cy="535.5" r="5.6"/><circle cx="195.2" cy="543" r="5.6"/><circle cx="90.9" cy="553" r="5.6"/><circle cx="98.1" cy="546.8" r="5.6"/><circle cx="241.6" cy="544" r="5.6"/><circle cx="84.7" cy="541.3" r="5.6"/><circle cx="128.4" cy="520.1" r="5.6"/><circle cx="86.2" cy="543.8" r="5.6"/><circle cx="122.6" cy="527.8" r="5.6"/><circle cx="118.2" cy="536.9" r="5.6"/><circle cx="226.6" cy="547.9" r="5.6"/><circle cx="96.2" cy="538" r="5.6"/><circle cx="195.5" cy="531" r="5.6"/><circle cx="242.6" cy="548.6" r="5.6"/><circle cx="74.5" cy="544.6" r="5.6"/><circle cx="86.5" cy="551.2" r="5.6"/><circle cx="83.7" cy="538" r="5.6"/><circle cx="87.2" cy="550.9" r="5.6"/><circle cx="77.7" cy="550.4" r="5.6"/><circle cx="112.5" cy="553.4" r="5.6"/><circle cx="169" cy="546.2" r="5.6"/><circle cx="152" cy="540.8" r="5.6"/><circle cx="107.4" cy="546.9" r="5.6"/><circle cx="98.1" cy="543.9" r="5.6"/><circle cx="103" cy="556.8" r="5.6"/><circle cx="98.3" cy="547.2" r="5.6"/><circle cx="113.4" cy="543.5" r="5.6"/><circle cx="117.6" cy="537.6" r="5.6"/><circle cx="94.6" cy="539.6" r="5.6"/><circle cx="111.9" cy="514.6" r="5.6"/><circle cx="118.3" cy="531.7" r="5.6"/><circle cx="87.8" cy="529.5" r="5.6"/><circle cx="86.9" cy="545.2" r="5.6"/><circle cx="97.8" cy="551.5" r="5.6"/><circle cx="72.4" cy="540" r="5.6"/><circle cx="67.8" cy="545.3" r="5.6"/><circle cx="88.4" cy="550.6" r="5.6"/><circle cx="89.9" cy="518.5" r="5.6"/><circle cx="148.1" cy="537.1" r="5.6"/><circle cx="127.4" cy="554.5" r="5.6"/><circle cx="124.5" cy="511.8" r="5.6"/><circle cx="100.5" cy="548.1" r="5.6"/><circle cx="89.5" cy="533.4" r="5.6"/><circle cx="146.9" cy="542.5" r="5.6"/><circle cx="74.3" cy="532.3" r="5.6"/><circle cx="99" cy="552.5" r="5.6"/><circle cx="81.2" cy="516.8" r="5.6"/><circle cx="89.1" cy="550.5" r="5.6"/><circle cx="165.2" cy="546" r="5.6"/><circle cx="120.8" cy="550.7" r="5.6"/><circle cx="96.9" cy="551.5" r="5.6"/><circle cx="156.1" cy="551.7" r="5.6"/><circle cx="91.9" cy="547.2" r="5.6"/><circle cx="112.5" cy="553.3" r="5.6"/><circle cx="156.9" cy="546.3" r="5.6"/><circle cx="91.1" cy="535.8" r="5.6"/><circle cx="93.4" cy="544.2" r="5.6"/><circle cx="81.8" cy="545.9" r="5.6"/><circle cx="98.9" cy="512.8" r="5.6"/><circle cx="115.8" cy="555.8" r="5.6"/><circle cx="175.7" cy="549.6" r="5.6"/><circle cx="96.7" cy="516.3" r="5.6"/><circle cx="78.4" cy="554.1" r="5.6"/><circle cx="169.3" cy="538.4" r="5.6"/><circle cx="99.2" cy="533" r="5.6"/><circle cx="87.2" cy="535.7" r="5.6"/><circle cx="103" cy="514.9" r="5.6"/><circle cx="93.3" cy="536.7" r="5.6"/><circle cx="84.7" cy="534.9" r="5.6"/><circle cx="99.3" cy="535.3" r="5.6"/><circle cx="88.6" cy="545.5" r="5.6"/><circle cx="93.4" cy="519.9" r="5.6"/><circle cx="81.2" cy="535.5" r="5.6"/><circle cx="99.1" cy="514.8" r="5.6"/><circle cx="101.2" cy="536.1" r="5.6"/><circle cx="107.6" cy="541.4" r="5.6"/><circle cx="95.3" cy="516.9" r="5.6"/><circle cx="88.9" cy="544.7" r="5.6"/><circle cx="105.5" cy="551.7" r="5.6"/><circle cx="95.3" cy="545.3" r="5.6"/><circle cx="107.1" cy="555.3" r="5.6"/><circle cx="84.4" cy="540" r="5.6"/><circle cx="98.4" cy="544.4" r="5.6"/><circle cx="99.1" cy="529.1" r="5.6"/><circle cx="112.4" cy="535.2" r="5.6"/><circle cx="100.2" cy="537.1" r="5.6"/><circle cx="92.7" cy="556.9" r="5.6"/><circle cx="78.9" cy="545.9" r="5.6"/><circle cx="155.3" cy="553.4" r="5.6"/><circle cx="82.9" cy="547.8" r="5.6"/><circle cx="257.6" cy="545" r="5.6"/><circle cx="67.8" cy="539.5" r="5.6"/><circle cx="94.6" cy="533.9" r="5.6"/><circle cx="169.9" cy="532" r="5.6"/><circle cx="100" cy="529.7" r="5.6"/><circle cx="186.8" cy="540.9" r="5.6"/><circle cx="157.7" cy="554.8" r="5.6"/><circle cx="97.8" cy="552.6" r="5.6"/><circle cx="153.3" cy="552.4" r="5.6"/><circle cx="72.1" cy="541.9" r="5.6"/><circle cx="106.8" cy="551" r="5.6"/><circle cx="108.8" cy="542" r="5.6"/><circle cx="98.5" cy="544.9" r="5.6"/><circle cx="108.9" cy="542.3" r="5.6"/><circle cx="85.5" cy="546.7" r="5.6"/><circle cx="112.2" cy="554.8" r="5.6"/><circle cx="152" cy="544.6" r="5.6"/><circle cx="65.7" cy="552.5" r="5.6"/><circle cx="99.6" cy="535.7" r="5.6"/><circle cx="100.4" cy="527.8" r="5.6"/><circle cx="110.8" cy="547.5" r="5.6"/><circle cx="133.9" cy="551.1" r="5.6"/><circle cx="64.3" cy="547.7" r="5.6"/><circle cx="141.8" cy="550.5" r="5.6"/><circle cx="104.5" cy="554.3" r="5.6"/><circle cx="125.6" cy="553.4" r="5.6"/><circle cx="99.1" cy="541.6" r="5.6"/><circle cx="101.4" cy="551" r="5.6"/><circle cx="67.7" cy="547.3" r="5.6"/><circle cx="226.8" cy="550.3" r="5.6"/><circle cx="86.6" cy="529.9" r="5.6"/><circle cx="197.7" cy="554.1" r="5.6"/><circle cx="90.1" cy="553.5" r="5.6"/><circle cx="133.5" cy="539.2" r="5.6"/><circle cx="168.4" cy="538.7" r="5.6"/><circle cx="93.4" cy="514.9" r="5.6"/><circle cx="92.9" cy="552.6" r="5.6"/><circle cx="121.5" cy="551.4" r="5.6"/><circle cx="113.8" cy="550.4" r="5.6"/><circle cx="91.7" cy="523.6" r="5.6"/><circle cx="192" cy="548.5" r="5.6"/><circle cx="98.7" cy="539.5" r="5.6"/><circle cx="75.6" cy="551.8" r="5.6"/><circle cx="95.2" cy="531.2" r="5.6"/><circle cx="227.1" cy="541" r="5.6"/><circle cx="109.9" cy="538.9" r="5.6"/><circle cx="193.5" cy="539.9" r="5.6"/><circle cx="162.4" cy="533.1" r="5.6"/><circle cx="128.4" cy="529.2" r="5.6"/><circle cx="122.6" cy="555" r="5.6"/><circle cx="172.5" cy="546.4" r="5.6"/><circle cx="93" cy="512.9" r="5.6"/><circle cx="200.6" cy="544.5" r="5.6"/><circle cx="90.6" cy="543.5" r="5.6"/><circle cx="161.3" cy="531.8" r="5.6"/><circle cx="129.7" cy="532.9" r="5.6"/><circle cx="163.8" cy="534.8" r="5.6"/><circle cx="91.3" cy="553.9" r="5.6"/><circle cx="118.9" cy="554.4" r="5.6"/><circle cx="94.7" cy="513.8" r="5.6"/><circle cx="81.8" cy="547.9" r="5.6"/><circle cx="153.2" cy="553.1" r="5.6"/><circle cx="84.8" cy="536.9" r="5.6"/><circle cx="105.2" cy="540.8" r="5.6"/><circle cx="190.3" cy="537.8" r="5.6"/><circle cx="87.1" cy="535.4" r="5.6"/><circle cx="170.2" cy="538.8" r="5.6"/><circle cx="102.1" cy="536.3" r="5.6"/><circle cx="78.4" cy="531.7" r="5.6"/><circle cx="99.4" cy="552.3" r="5.6"/><circle cx="103.3" cy="555.6" r="5.6"/><circle cx="222.2" cy="546.7" r="5.6"/><circle cx="91" cy="538.8" r="5.6"/><circle cx="94" cy="552.9" r="5.6"/><circle cx="103.5" cy="531.2" r="5.6"/><circle cx="93.1" cy="550.4" r="5.6"/><circle cx="117.7" cy="549.9" r="5.6"/><circle cx="111.3" cy="550.8" r="5.6"/><circle cx="73.1" cy="540.2" r="5.6"/><circle cx="178" cy="540.9" r="5.6"/><circle cx="202.7" cy="545.4" r="5.6"/><circle cx="94.6" cy="547.6" r="5.6"/><circle cx="207.4" cy="537.6" r="5.6"/><circle cx="87.1" cy="530.6" r="5.6"/><circle cx="91.2" cy="554.7" r="5.6"/><circle cx="121.1" cy="556.7" r="5.6"/><circle cx="103" cy="528.5" r="5.6"/><circle cx="81.4" cy="539" r="5.6"/><circle cx="113" cy="552.9" r="5.6"/><circle cx="131.5" cy="531.8" r="5.6"/><circle cx="95.5" cy="543.6" r="5.6"/><circle cx="132.5" cy="537.5" r="5.6"/><circle cx="174.9" cy="534.3" r="5.6"/><circle cx="98.4" cy="556.3" r="5.6"/><circle cx="187.3" cy="540.4" r="5.6"/><circle cx="184.9" cy="553.7" r="5.6"/><circle cx="142.6" cy="552.5" r="5.6"/><circle cx="71.3" cy="540.7" r="5.6"/><circle cx="82" cy="543.3" r="5.6"/><circle cx="101.4" cy="510" r="5.6"/><circle cx="144.4" cy="541.5" r="5.6"/><circle cx="113.3" cy="543.6" r="5.6"/><circle cx="82.7" cy="524.9" r="5.6"/><circle cx="88" cy="536.2" r="5.6"/><circle cx="67.6" cy="544.4" r="5.6"/><circle cx="125.7" cy="553.3" r="5.6"/><circle cx="185.6" cy="544.3" r="5.6"/><circle cx="101.8" cy="539.9" r="5.6"/><circle cx="186.9" cy="540.5" r="5.6"/><circle cx="154.6" cy="554.8" r="5.6"/><circle cx="93.9" cy="543.6" r="5.6"/><circle cx="89.1" cy="536.7" r="5.6"/><circle cx="137.9" cy="545.1" r="5.6"/><circle cx="151.7" cy="538.3" r="5.6"/><circle cx="122.6" cy="536.2" r="5.6"/><circle cx="100.8" cy="531.2" r="5.6"/><circle cx="151.6" cy="552.2" r="5.6"/><circle cx="103.4" cy="547.5" r="5.6"/><circle cx="127.3" cy="554" r="5.6"/><circle cx="82.8" cy="548" r="5.6"/><circle cx="118.4" cy="515.4" r="5.6"/><circle cx="94.5" cy="548.3" r="5.6"/><circle cx="73.7" cy="522" r="5.6"/><circle cx="91.3" cy="543.3" r="5.6"/><circle cx="91.1" cy="519.7" r="5.6"/><circle cx="96.7" cy="552.8" r="5.6"/><circle cx="75.5" cy="533" r="5.6"/><circle cx="104" cy="550.6" r="5.6"/><circle cx="90" cy="555.4" r="5.6"/><circle cx="239.3" cy="544.3" r="5.6"/><circle cx="113.5" cy="547.2" r="5.6"/><circle cx="222.5" cy="540.2" r="5.6"/><circle cx="98.1" cy="550.1" r="5.6"/><circle cx="89.8" cy="551.2" r="5.6"/><circle cx="87.1" cy="546.1" r="5.6"/><circle cx="98.8" cy="511.8" r="5.6"/><circle cx="116.1" cy="548.9" r="5.6"/><circle cx="170.4" cy="539" r="5.6"/><circle cx="107.9" cy="545.6" r="5.6"/><circle cx="124.4" cy="553.4" r="5.6"/><circle cx="109.1" cy="547" r="5.6"/><circle cx="112.1" cy="550.4" r="5.6"/><circle cx="98.5" cy="551.9" r="5.6"/><circle cx="113.6" cy="536.2" r="5.6"/><circle cx="123.2" cy="550.3" r="5.6"/><circle cx="79.4" cy="546.1" r="5.6"/><circle cx="100" cy="532.8" r="5.6"/><circle cx="86.8" cy="550.3" r="5.6"/><circle cx="173" cy="553.6" r="5.6"/><circle cx="85.2" cy="537.7" r="5.6"/><circle cx="161.9" cy="546.7" r="5.6"/><circle cx="132.2" cy="543.1" r="5.6"/><circle cx="94.5" cy="530.8" r="5.6"/><circle cx="92.6" cy="541.6" r="5.6"/><circle cx="171.6" cy="542.2" r="5.6"/><circle cx="92" cy="519.5" r="5.6"/><circle cx="133.9" cy="554.1" r="5.6"/><circle cx="90.8" cy="540.2" r="5.6"/><circle cx="81.2" cy="543.7" r="5.6"/><circle cx="106.7" cy="548.2" r="5.6"/><circle cx="87.1" cy="548.2" r="5.6"/><circle cx="130.8" cy="551.9" r="5.6"/><circle cx="84.9" cy="537" r="5.6"/><circle cx="91.4" cy="537.7" r="5.6"/><circle cx="161.3" cy="547" r="5.6"/><circle cx="95" cy="543.3" r="5.6"/><circle cx="99.5" cy="518.7" r="5.6"/><circle cx="108.8" cy="543.5" r="5.6"/><circle cx="96.3" cy="549.6" r="5.6"/><circle cx="100.2" cy="555.9" r="5.6"/><circle cx="96.1" cy="555.8" r="5.6"/><circle cx="93.1" cy="544.3" r="5.6"/><circle cx="116.6" cy="516.6" r="5.6"/><circle cx="97.1" cy="539.2" r="5.6"/><circle cx="152.9" cy="553.3" r="5.6"/><circle cx="178" cy="549.2" r="5.6"/><circle cx="102.2" cy="541.8" r="5.6"/><circle cx="116.7" cy="542.8" r="5.6"/><circle cx="89.9" cy="555.5" r="5.6"/><circle cx="102.7" cy="553.7" r="5.6"/><circle cx="90.6" cy="532.7" r="5.6"/><circle cx="93.3" cy="537.1" r="5.6"/><circle cx="129.5" cy="554.1" r="5.6"/><circle cx="113.2" cy="553" r="5.6"/><circle cx="101.1" cy="555" r="5.6"/><circle cx="84" cy="542.2" r="5.6"/><circle cx="105" cy="549.8" r="5.6"/><circle cx="92.4" cy="551.3" r="5.6"/><circle cx="87.7" cy="547" r="5.6"/><circle cx="82.4" cy="547" r="5.6"/><circle cx="80.4" cy="554.5" r="5.6"/><circle cx="218.6" cy="544.8" r="5.6"/><circle cx="157.5" cy="535.7" r="5.6"/><circle cx="107.7" cy="541.2" r="5.6"/><circle cx="69.5" cy="555.1" r="5.6"/><circle cx="157.9" cy="545.4" r="5.6"/><circle cx="95.2" cy="542.1" r="5.6"/><circle cx="128.8" cy="534.7" r="5.6"/><circle cx="153.2" cy="545.5" r="5.6"/><circle cx="105.9" cy="528.2" r="5.6"/><circle cx="92.2" cy="543.4" r="5.6"/><circle cx="226.1" cy="546.7" r="5.6"/><circle cx="81.6" cy="533.4" r="5.6"/><circle cx="97.8" cy="552.5" r="5.6"/><circle cx="94" cy="553.2" r="5.6"/><circle cx="112.8" cy="532.3" r="5.6"/><circle cx="242.4" cy="552.3" r="5.6"/><circle cx="101.8" cy="553.6" r="5.6"/><circle cx="127.2" cy="553.6" r="5.6"/><circle cx="72.5" cy="515.9" r="5.6"/><circle cx="84.8" cy="444.8" r="5.6"/><circle cx="86.2" cy="460.8" r="5.6"/><circle cx="85.3" cy="462" r="5.6"/><circle cx="104" cy="474.1" r="5.6"/><circle cx="98.5" cy="479.1" r="5.6"/><circle cx="109.2" cy="479.1" r="5.6"/><circle cx="75.8" cy="495.6" r="5.6"/><circle cx="98.5" cy="496.1" r="5.6"/><circle cx="79.5" cy="503.5" r="5.6"/><circle cx="92.7" cy="505.7" r="5.6"/><circle cx="103.7" cy="505.7" r="5.6"/><circle cx="127.9" cy="503.5" r="5.6"/><circle cx="137.9" cy="502.9" r="5.6"/><circle cx="117.4" cy="511.2" r="5.6"/><circle cx="127.9" cy="512.1" r="5.6"/><circle cx="79.5" cy="515.2" r="5.6"/><circle cx="72.5" cy="514.8" r="5.6"/><circle cx="97.2" cy="516.7" r="5.6"/><circle cx="89.9" cy="515.8" r="5.6"/><circle cx="113.8" cy="519.4" r="5.6"/><circle cx="107.3" cy="518.5" r="5.6"/><circle cx="127.9" cy="518.1" r="5.6"/><circle cx="136.7" cy="518.1" r="5.6"/><circle cx="156.3" cy="524" r="5.6"/><circle cx="243.6" cy="520" r="5.6"/><circle cx="227.1" cy="524.9" r="5.6"/><circle cx="257.7" cy="527.7" r="5.6"/><circle cx="169.7" cy="529.5" r="5.6"/><circle cx="181.2" cy="530.8" r="5.6"/><circle cx="187.1" cy="530.4" r="5.6"/><circle cx="162.3" cy="532.2" r="5.6"/><circle cx="155.9" cy="532.2" r="5.6"/><circle cx="193.5" cy="533.2" r="5.6"/><circle cx="232.9" cy="534.1" r="5.6"/><circle cx="244.8" cy="533.2" r="5.6"/><circle cx="239.3" cy="530.4" r="5.6"/><circle cx="263.2" cy="535.5" r="5.6"/><circle cx="149.5" cy="535.9" r="5.6"/><circle cx="131.5" cy="535" r="5.6"/><circle cx="122.9" cy="528.6" r="5.6"/><circle cx="104" cy="534.1" r="5.6"/><circle cx="92.3" cy="534.6" r="5.6"/><circle cx="79.5" cy="534.6" r="5.6"/><circle cx="201.8" cy="538.7" r="5.6"/><circle cx="208.2" cy="540.9" r="5.6"/><circle cx="220.1" cy="538.7" r="5.6"/><circle cx="221" cy="544.2" r="5.6"/><circle cx="175.2" cy="547.8" r="5.6"/><circle cx="195.3" cy="549.3" r="5.6"/><circle cx="182.5" cy="551.9" r="5.6"/><circle cx="190.8" cy="553.3" r="5.6"/><circle cx="162.9" cy="554.2" r="5.6"/><circle cx="146.4" cy="555.5" r="5.6"/><circle cx="124.8" cy="556.1" r="5.6"/><circle cx="137.6" cy="549.3" r="5.6"/><circle cx="227.1" cy="552.4" r="5.6"/><circle cx="237.5" cy="551.5" r="5.6"/><circle cx="243.9" cy="546" r="5.6"/><circle cx="234.8" cy="545.6" r="5.6"/><circle cx="250.3" cy="549.7" r="5.6"/><circle cx="257.7" cy="551.1" r="5.6"/><circle cx="254" cy="542.3" r="5.6"/><circle cx="108.2" cy="555.2" r="5.6"/><circle cx="100.9" cy="557" r="5.6"/><circle cx="93.6" cy="548.2" r="5.6"/><circle cx="75.6" cy="551.9" r="5.6"/><circle cx="67" cy="549.7" r="5.6"/><circle cx="68.8" cy="556.1" r="5.6"/><circle cx="111" cy="549.7" r="5.6"/></g><path d="M68.5 542L262.2 539.6" class="rl"/>
</g>
<rect x="59.4" y="440.3" width="211.5" height="122.2" class="bd"/>
<path d="M319.9 441.9V560.8M382.1 441.9V560.8M444.4 441.9V560.8M282.8 543.5H488.6M282.8 509H488.6M282.8 474.5H488.6" class="gm"/><path d="M288.8 441.9V560.8M351 441.9V560.8M413.2 441.9V560.8M475.5 441.9V560.8M282.8 560.7H488.6M282.8 526.2H488.6M282.8 491.7H488.6M282.8 457.2H488.6" class="gM"/>
<g clip-path="url(#c31)">
<g class="pt"><circle cx="292.2" cy="543.9" r="5.6"/><circle cx="355.1" cy="550.9" r="5.6"/><circle cx="348.1" cy="549.7" r="5.6"/><circle cx="304.3" cy="538.6" r="5.6"/><circle cx="396.1" cy="552" r="5.6"/><circle cx="321.2" cy="551.5" r="5.6"/><circle cx="289.7" cy="516.3" r="5.6"/><circle cx="337.2" cy="541.3" r="5.6"/><circle cx="309.7" cy="555.4" r="5.6"/><circle cx="311.2" cy="522" r="5.6"/><circle cx="314.7" cy="529" r="5.6"/><circle cx="296" cy="552.9" r="5.6"/><circle cx="319.9" cy="546.4" r="5.6"/><circle cx="319.9" cy="533.9" r="5.6"/><circle cx="314" cy="549.7" r="5.6"/><circle cx="392.1" cy="548.1" r="5.6"/><circle cx="302.4" cy="531" r="5.6"/><circle cx="299.4" cy="548.3" r="5.6"/><circle cx="294.3" cy="552.2" r="5.6"/><circle cx="363.3" cy="542.3" r="5.6"/><circle cx="289.8" cy="548.7" r="5.6"/><circle cx="324" cy="554.1" r="5.6"/><circle cx="308.1" cy="539.6" r="5.6"/><circle cx="335.7" cy="537.8" r="5.6"/><circle cx="308.1" cy="538.3" r="5.6"/><circle cx="292.2" cy="548.8" r="5.6"/><circle cx="320.6" cy="554.3" r="5.6"/><circle cx="296.7" cy="538.5" r="5.6"/><circle cx="312.2" cy="538.5" r="5.6"/><circle cx="321.8" cy="542.5" r="5.6"/><circle cx="300.1" cy="514.9" r="5.6"/><circle cx="301.9" cy="540.5" r="5.6"/><circle cx="303.6" cy="554.7" r="5.6"/><circle cx="376" cy="538.5" r="5.6"/><circle cx="360.6" cy="555.5" r="5.6"/><circle cx="302" cy="553.7" r="5.6"/><circle cx="303.4" cy="553.4" r="5.6"/><circle cx="348.9" cy="546.2" r="5.6"/><circle cx="300.6" cy="539.7" r="5.6"/><circle cx="347.2" cy="550.5" r="5.6"/><circle cx="351.7" cy="550.5" r="5.6"/><circle cx="362.2" cy="544.9" r="5.6"/><circle cx="316.7" cy="549.3" r="5.6"/><circle cx="315.3" cy="548.5" r="5.6"/><circle cx="298.1" cy="552.5" r="5.6"/><circle cx="366.9" cy="540.7" r="5.6"/><circle cx="332.7" cy="528.7" r="5.6"/><circle cx="382.1" cy="543.7" r="5.6"/><circle cx="303.2" cy="555.1" r="5.6"/><circle cx="333.1" cy="548.5" r="5.6"/><circle cx="313.5" cy="539.6" r="5.6"/><circle cx="313.9" cy="546.2" r="5.6"/><circle cx="361" cy="542.7" r="5.6"/><circle cx="369.1" cy="552.9" r="5.6"/><circle cx="305.1" cy="550.3" r="5.6"/><circle cx="301.6" cy="538.4" r="5.6"/><circle cx="296.3" cy="536.3" r="5.6"/><circle cx="346.2" cy="532.7" r="5.6"/><circle cx="302.9" cy="548.1" r="5.6"/><circle cx="313.9" cy="547.8" r="5.6"/><circle cx="360.5" cy="523.4" r="5.6"/><circle cx="378.4" cy="545.5" r="5.6"/><circle cx="316.6" cy="516.4" r="5.6"/><circle cx="356.5" cy="536.4" r="5.6"/><circle cx="379.5" cy="553" r="5.6"/><circle cx="293.4" cy="545" r="5.6"/><circle cx="296.3" cy="537" r="5.6"/><circle cx="343" cy="547.5" r="5.6"/><circle cx="294.3" cy="536.5" r="5.6"/><circle cx="307.9" cy="544.9" r="5.6"/><circle cx="306.2" cy="531.5" r="5.6"/><circle cx="311.7" cy="511.6" r="5.6"/><circle cx="313.3" cy="550.7" r="5.6"/><circle cx="335.9" cy="533.7" r="5.6"/><circle cx="399" cy="533.2" r="5.6"/><circle cx="375.6" cy="534.4" r="5.6"/><circle cx="293.2" cy="552.8" r="5.6"/><circle cx="338.5" cy="534.2" r="5.6"/><circle cx="292.9" cy="540" r="5.6"/><circle cx="398.2" cy="543" r="5.6"/><circle cx="316.8" cy="555.1" r="5.6"/><circle cx="310.1" cy="535.3" r="5.6"/><circle cx="303.3" cy="549.9" r="5.6"/><circle cx="328.6" cy="525.7" r="5.6"/><circle cx="322.2" cy="514.7" r="5.6"/><circle cx="367.1" cy="538.9" r="5.6"/><circle cx="321.1" cy="549.3" r="5.6"/><circle cx="306.2" cy="516.4" r="5.6"/><circle cx="306.4" cy="536.3" r="5.6"/><circle cx="333.5" cy="538.6" r="5.6"/><circle cx="397.9" cy="547" r="5.6"/><circle cx="310.2" cy="546.9" r="5.6"/><circle cx="326.7" cy="534.7" r="5.6"/><circle cx="392.5" cy="543.5" r="5.6"/><circle cx="312" cy="530.7" r="5.6"/><circle cx="296.7" cy="537.5" r="5.6"/><circle cx="303.4" cy="545.8" r="5.6"/><circle cx="379" cy="553.5" r="5.6"/><circle cx="394.1" cy="541.4" r="5.6"/><circle cx="300.3" cy="554.4" r="5.6"/><circle cx="322.6" cy="548.3" r="5.6"/><circle cx="335.2" cy="553.8" r="5.6"/><circle cx="298.5" cy="549.5" r="5.6"/><circle cx="315.7" cy="550.6" r="5.6"/><circle cx="286.7" cy="517.4" r="5.6"/><circle cx="377.8" cy="542.4" r="5.6"/><circle cx="303.5" cy="544.8" r="5.6"/><circle cx="301.9" cy="547.1" r="5.6"/><circle cx="304.2" cy="513.3" r="5.6"/><circle cx="340.7" cy="543.5" r="5.6"/><circle cx="400.3" cy="545.5" r="5.6"/><circle cx="396.8" cy="545.7" r="5.6"/><circle cx="367.3" cy="548.4" r="5.6"/><circle cx="307.7" cy="554.1" r="5.6"/><circle cx="375.6" cy="547.4" r="5.6"/><circle cx="300.4" cy="517.6" r="5.6"/><circle cx="289.1" cy="554.7" r="5.6"/><circle cx="314.7" cy="553.9" r="5.6"/><circle cx="297.8" cy="546.3" r="5.6"/><circle cx="299.5" cy="543.7" r="5.6"/><circle cx="305.8" cy="549.1" r="5.6"/><circle cx="311.2" cy="523.2" r="5.6"/><circle cx="322.6" cy="544.9" r="5.6"/><circle cx="313.8" cy="549" r="5.6"/><circle cx="378.1" cy="531.3" r="5.6"/><circle cx="321.8" cy="542.2" r="5.6"/><circle cx="299.9" cy="537.5" r="5.6"/><circle cx="364.9" cy="554.1" r="5.6"/><circle cx="309.7" cy="552.5" r="5.6"/><circle cx="326.4" cy="555.7" r="5.6"/><circle cx="295.2" cy="539.3" r="5.6"/><circle cx="333.2" cy="545.3" r="5.6"/><circle cx="336.4" cy="551" r="5.6"/><circle cx="329.5" cy="536.6" r="5.6"/><circle cx="392.4" cy="554.6" r="5.6"/><circle cx="383.8" cy="542.1" r="5.6"/><circle cx="372" cy="550.1" r="5.6"/><circle cx="300.5" cy="549.1" r="5.6"/><circle cx="296.9" cy="548.1" r="5.6"/><circle cx="299.3" cy="551.8" r="5.6"/><circle cx="309.4" cy="535.1" r="5.6"/><circle cx="339.5" cy="540.2" r="5.6"/><circle cx="304.3" cy="535.9" r="5.6"/><circle cx="299.1" cy="538.7" r="5.6"/><circle cx="372.9" cy="524.9" r="5.6"/><circle cx="310.7" cy="551.9" r="5.6"/><circle cx="348.5" cy="543" r="5.6"/><circle cx="311.6" cy="549" r="5.6"/><circle cx="403.6" cy="535" r="5.6"/><circle cx="300.6" cy="552.8" r="5.6"/><circle cx="310.2" cy="528.2" r="5.6"/><circle cx="296.1" cy="545.9" r="5.6"/><circle cx="330.1" cy="547.3" r="5.6"/><circle cx="325.6" cy="547.6" r="5.6"/><circle cx="296.4" cy="525.7" r="5.6"/><circle cx="299.9" cy="538.9" r="5.6"/><circle cx="318.6" cy="550.2" r="5.6"/><circle cx="309.2" cy="539.3" r="5.6"/><circle cx="336" cy="545" r="5.6"/><circle cx="324.7" cy="546.6" r="5.6"/><circle cx="298.8" cy="546.9" r="5.6"/><circle cx="302.6" cy="550.8" r="5.6"/><circle cx="359.1" cy="533.4" r="5.6"/><circle cx="294.8" cy="548.8" r="5.6"/><circle cx="299.9" cy="534.9" r="5.6"/><circle cx="378.1" cy="542" r="5.6"/><circle cx="318.9" cy="539" r="5.6"/><circle cx="309.7" cy="538.8" r="5.6"/><circle cx="311.6" cy="549.1" r="5.6"/><circle cx="320" cy="543.2" r="5.6"/><circle cx="363.1" cy="547.8" r="5.6"/><circle cx="384.1" cy="541.7" r="5.6"/><circle cx="314.5" cy="553.1" r="5.6"/><circle cx="292.6" cy="546.5" r="5.6"/><circle cx="365.6" cy="534.3" r="5.6"/><circle cx="395.6" cy="549.1" r="5.6"/><circle cx="294.9" cy="551" r="5.6"/><circle cx="294.7" cy="519.2" r="5.6"/><circle cx="334.2" cy="545.1" r="5.6"/><circle cx="301.6" cy="554.7" r="5.6"/><circle cx="332.2" cy="540.9" r="5.6"/><circle cx="290.9" cy="544.5" r="5.6"/><circle cx="313" cy="545.3" r="5.6"/><circle cx="299.4" cy="537.9" r="5.6"/><circle cx="397.5" cy="547.8" r="5.6"/><circle cx="312.9" cy="555.7" r="5.6"/><circle cx="395" cy="539.9" r="5.6"/><circle cx="296.1" cy="549.2" r="5.6"/><circle cx="302.5" cy="537.8" r="5.6"/><circle cx="307.5" cy="543.6" r="5.6"/><circle cx="317.7" cy="536" r="5.6"/><circle cx="302.4" cy="513.2" r="5.6"/><circle cx="304.9" cy="549.5" r="5.6"/><circle cx="301.9" cy="538.7" r="5.6"/><circle cx="352.8" cy="538.2" r="5.6"/><circle cx="339.1" cy="553.2" r="5.6"/><circle cx="379.5" cy="535.8" r="5.6"/><circle cx="374.9" cy="542.9" r="5.6"/><circle cx="383.7" cy="553.7" r="5.6"/><circle cx="343.6" cy="515.3" r="5.6"/><circle cx="320" cy="552.2" r="5.6"/><circle cx="374.1" cy="548.6" r="5.6"/><circle cx="320.9" cy="550.2" r="5.6"/><circle cx="349.7" cy="551.3" r="5.6"/><circle cx="320.2" cy="548.4" r="5.6"/><circle cx="306.9" cy="540.8" r="5.6"/><circle cx="306.3" cy="543.8" r="5.6"/><circle cx="310.9" cy="551.5" r="5.6"/><circle cx="304.5" cy="538.9" r="5.6"/><circle cx="291.7" cy="538.6" r="5.6"/><circle cx="310.6" cy="556.5" r="5.6"/><circle cx="292.4" cy="519.4" r="5.6"/><circle cx="398.3" cy="530.3" r="5.6"/><circle cx="332.8" cy="533.9" r="5.6"/><circle cx="362.2" cy="540.5" r="5.6"/><circle cx="307.4" cy="551.1" r="5.6"/><circle cx="298.4" cy="553" r="5.6"/><circle cx="311.8" cy="529.1" r="5.6"/><circle cx="295" cy="540.6" r="5.6"/><circle cx="305.6" cy="547.2" r="5.6"/><circle cx="300.7" cy="540.2" r="5.6"/><circle cx="324.1" cy="521.4" r="5.6"/><circle cx="293.2" cy="552.2" r="5.6"/><circle cx="383" cy="542" r="5.6"/><circle cx="345" cy="524.4" r="5.6"/><circle cx="308.1" cy="547.1" r="5.6"/><circle cx="356.6" cy="550.4" r="5.6"/><circle cx="309.4" cy="532" r="5.6"/><circle cx="377.5" cy="543.3" r="5.6"/><circle cx="313.2" cy="547.9" r="5.6"/><circle cx="329.8" cy="541.3" r="5.6"/><circle cx="291.2" cy="532.6" r="5.6"/><circle cx="295.2" cy="530.2" r="5.6"/><circle cx="309" cy="518.4" r="5.6"/><circle cx="296.2" cy="513.7" r="5.6"/><circle cx="313.7" cy="551.5" r="5.6"/><circle cx="339.6" cy="542" r="5.6"/><circle cx="297.4" cy="550.2" r="5.6"/><circle cx="303.7" cy="551.4" r="5.6"/><circle cx="382.1" cy="536.6" r="5.6"/><circle cx="319.5" cy="545" r="5.6"/><circle cx="312.3" cy="555.8" r="5.6"/><circle cx="299.3" cy="551.7" r="5.6"/><circle cx="311" cy="527.5" r="5.6"/><circle cx="312.1" cy="517.9" r="5.6"/><circle cx="297.9" cy="539.1" r="5.6"/><circle cx="301.2" cy="518.6" r="5.6"/><circle cx="319.2" cy="541.2" r="5.6"/><circle cx="300.1" cy="550.7" r="5.6"/><circle cx="302" cy="543.1" r="5.6"/><circle cx="323.8" cy="554.2" r="5.6"/><circle cx="292.6" cy="532.2" r="5.6"/><circle cx="299.4" cy="541" r="5.6"/><circle cx="312.4" cy="540.6" r="5.6"/><circle cx="319.9" cy="543.6" r="5.6"/><circle cx="316.8" cy="545.1" r="5.6"/><circle cx="337.5" cy="540.4" r="5.6"/><circle cx="337.3" cy="544.4" r="5.6"/><circle cx="307.2" cy="547.3" r="5.6"/><circle cx="310.8" cy="549" r="5.6"/><circle cx="394.7" cy="541.8" r="5.6"/><circle cx="375.2" cy="552.9" r="5.6"/><circle cx="314.9" cy="554.9" r="5.6"/><circle cx="291.9" cy="519.8" r="5.6"/><circle cx="310.5" cy="552.1" r="5.6"/><circle cx="297.5" cy="552" r="5.6"/><circle cx="311.4" cy="546.8" r="5.6"/><circle cx="393.6" cy="541.9" r="5.6"/><circle cx="302.1" cy="538.2" r="5.6"/><circle cx="315.3" cy="532.3" r="5.6"/><circle cx="337.1" cy="553.2" r="5.6"/><circle cx="376.4" cy="528.3" r="5.6"/><circle cx="324.6" cy="551.2" r="5.6"/><circle cx="299.2" cy="545.5" r="5.6"/><circle cx="368.3" cy="554.6" r="5.6"/><circle cx="348.6" cy="546.4" r="5.6"/><circle cx="397.4" cy="541.8" r="5.6"/><circle cx="312.7" cy="539.8" r="5.6"/><circle cx="392.7" cy="531.4" r="5.6"/><circle cx="294.6" cy="535.6" r="5.6"/><circle cx="321.1" cy="536.9" r="5.6"/><circle cx="309.4" cy="516.3" r="5.6"/><circle cx="302.2" cy="542.2" r="5.6"/><circle cx="379.7" cy="546" r="5.6"/><circle cx="364" cy="548.6" r="5.6"/><circle cx="311" cy="551" r="5.6"/><circle cx="383.2" cy="537.3" r="5.6"/><circle cx="395.7" cy="539.9" r="5.6"/><circle cx="295.9" cy="553.2" r="5.6"/><circle cx="385.4" cy="555.5" r="5.6"/><circle cx="326.6" cy="548.5" r="5.6"/><circle cx="312.8" cy="551.9" r="5.6"/><circle cx="321.5" cy="537.3" r="5.6"/><circle cx="304.8" cy="547.4" r="5.6"/><circle cx="331.3" cy="551.7" r="5.6"/><circle cx="345.6" cy="553.8" r="5.6"/><circle cx="296.8" cy="553.1" r="5.6"/><circle cx="312.1" cy="538.9" r="5.6"/><circle cx="328.3" cy="536.8" r="5.6"/><circle cx="324.5" cy="536.2" r="5.6"/><circle cx="293.8" cy="536.7" r="5.6"/><circle cx="294.2" cy="532.2" r="5.6"/><circle cx="318.6" cy="549.3" r="5.6"/><circle cx="403.7" cy="549.5" r="5.6"/><circle cx="392.5" cy="549.5" r="5.6"/><circle cx="295.1" cy="545" r="5.6"/><circle cx="302.3" cy="551.7" r="5.6"/><circle cx="298.7" cy="553.1" r="5.6"/><circle cx="310.3" cy="541.7" r="5.6"/><circle cx="301.1" cy="543.8" r="5.6"/><circle cx="382.4" cy="544" r="5.6"/><circle cx="338.1" cy="534.1" r="5.6"/><circle cx="310.4" cy="552.5" r="5.6"/><circle cx="304.6" cy="529.4" r="5.6"/><circle cx="349" cy="548.7" r="5.6"/><circle cx="294.8" cy="517" r="5.6"/><circle cx="297.1" cy="549.7" r="5.6"/><circle cx="308.2" cy="535" r="5.6"/><circle cx="297.6" cy="545.6" r="5.6"/><circle cx="335.4" cy="514" r="5.6"/><circle cx="310.3" cy="444.8" r="5.6"/><circle cx="303.5" cy="461.7" r="5.6"/><circle cx="309" cy="460.4" r="5.6"/><circle cx="303.1" cy="474.5" r="5.6"/><circle cx="303.1" cy="479.1" r="5.6"/><circle cx="321.5" cy="479.1" r="5.6"/><circle cx="295.6" cy="495.6" r="5.6"/><circle cx="311.2" cy="496.1" r="5.6"/><circle cx="303.1" cy="503.5" r="5.6"/><circle cx="294" cy="505.7" r="5.6"/><circle cx="315.8" cy="505.7" r="5.6"/><circle cx="324" cy="502.9" r="5.6"/><circle cx="337.4" cy="503.5" r="5.6"/><circle cx="336.5" cy="513" r="5.6"/><circle cx="298.4" cy="514.8" r="5.6"/><circle cx="309.6" cy="516.7" r="5.6"/><circle cx="324" cy="518.1" r="5.6"/><circle cx="331" cy="521.2" r="5.6"/><circle cx="287.9" cy="520.7" r="5.6"/><circle cx="346.6" cy="520" r="5.6"/><circle cx="352.1" cy="520.3" r="5.6"/><circle cx="358.5" cy="517.6" r="5.6"/><circle cx="359.4" cy="524.9" r="5.6"/><circle cx="372.2" cy="524.9" r="5.6"/><circle cx="315.4" cy="524" r="5.6"/><circle cx="297.1" cy="531.3" r="5.6"/><circle cx="323.3" cy="534.1" r="5.6"/><circle cx="344.2" cy="531.9" r="5.6"/><circle cx="338.3" cy="531.3" r="5.6"/><circle cx="310.8" cy="534.1" r="5.6"/><circle cx="385.1" cy="530.4" r="5.6"/><circle cx="398.5" cy="531" r="5.6"/><circle cx="392.4" cy="536.8" r="5.6"/><circle cx="367.7" cy="535.9" r="5.6"/><circle cx="364" cy="533.2" r="5.6"/><circle cx="422.7" cy="530.4" r="5.6"/><circle cx="438.8" cy="534.1" r="5.6"/><circle cx="427.8" cy="536.5" r="5.6"/><circle cx="413.1" cy="537.8" r="5.6"/><circle cx="483.2" cy="527.3" r="5.6"/><circle cx="475.5" cy="533.2" r="5.6"/><circle cx="470.3" cy="534.1" r="5.6"/><circle cx="484.1" cy="535.9" r="5.6"/><circle cx="463" cy="539.6" r="5.6"/><circle cx="446.5" cy="540.5" r="5.6"/><circle cx="452" cy="546" r="5.6"/><circle cx="439.2" cy="542.3" r="5.6"/><circle cx="420.8" cy="545.6" r="5.6"/><circle cx="413.1" cy="549.3" r="5.6"/><circle cx="400.7" cy="548.2" r="5.6"/><circle cx="385.1" cy="546.9" r="5.6"/><circle cx="398.8" cy="553.3" r="5.6"/><circle cx="434.6" cy="553" r="5.6"/><circle cx="449.2" cy="551.9" r="5.6"/><circle cx="459.3" cy="551.9" r="5.6"/><circle cx="365.5" cy="548.8" r="5.6"/><circle cx="352.1" cy="549.7" r="5.6"/><circle cx="337.4" cy="548.8" r="5.6"/><circle cx="371.3" cy="555.2" r="5.6"/><circle cx="357.6" cy="557" r="5.6"/><circle cx="324" cy="556.1" r="5.6"/><circle cx="337.4" cy="553.3" r="5.6"/><circle cx="309.9" cy="549.7" r="5.6"/><circle cx="296.5" cy="548.2" r="5.6"/><circle cx="290.7" cy="553.3" r="5.6"/><circle cx="309.9" cy="556.1" r="5.6"/><circle cx="287" cy="544.2" r="5.6"/><circle cx="287" cy="551.5" r="5.6"/></g><polygon points="404.3,540.1 482.8,536.8 482.8,543.1 404.3,540.9" fill="#f00000" fill-opacity="0.4"/><path d="M288.8 541.4L482.8 540" class="rl"/>
</g>
<rect x="279.9" y="440.3" width="211.5" height="122.2" class="bd"/>
<path d="M527.4 441.9V560.8M578.1 441.9V560.8M628.9 441.9V560.8M679.6 441.9V560.8M503.4 543.5H709.1M503.4 509H709.1M503.4 474.5H709.1" class="gm"/><path d="M552.8 441.9V560.8M603.5 441.9V560.8M654.2 441.9V560.8M705 441.9V560.8M503.4 560.7H709.1M503.4 526.2H709.1M503.4 491.7H709.1M503.4 457.2H709.1" class="gM"/>
<g clip-path="url(#c32)">
<g class="pt"><circle cx="673.7" cy="551.8" r="5.6"/><circle cx="634.2" cy="555.7" r="5.6"/><circle cx="612.2" cy="556.1" r="5.6"/><circle cx="577.8" cy="529.5" r="5.6"/><circle cx="650.2" cy="543.9" r="5.6"/><circle cx="562.9" cy="537" r="5.6"/><circle cx="631.9" cy="550.9" r="5.6"/><circle cx="592" cy="553.7" r="5.6"/><circle cx="587" cy="541.5" r="5.6"/><circle cx="592.9" cy="522.7" r="5.6"/><circle cx="630.6" cy="547.6" r="5.6"/><circle cx="559.1" cy="544.9" r="5.6"/><circle cx="696.1" cy="551.1" r="5.6"/><circle cx="541.1" cy="533.7" r="5.6"/><circle cx="538.6" cy="544.6" r="5.6"/><circle cx="636.6" cy="550.6" r="5.6"/><circle cx="587.5" cy="553.6" r="5.6"/><circle cx="655.4" cy="549.1" r="5.6"/><circle cx="582.6" cy="555.9" r="5.6"/><circle cx="648.2" cy="548.8" r="5.6"/><circle cx="553.1" cy="529.4" r="5.6"/><circle cx="562.4" cy="540.5" r="5.6"/><circle cx="583.9" cy="547.5" r="5.6"/><circle cx="628.9" cy="545.3" r="5.6"/><circle cx="574.3" cy="526.7" r="5.6"/><circle cx="619.4" cy="536.3" r="5.6"/><circle cx="602" cy="522.8" r="5.6"/><circle cx="602.9" cy="550.7" r="5.6"/><circle cx="558.3" cy="552.7" r="5.6"/><circle cx="563.8" cy="550.3" r="5.6"/><circle cx="562.1" cy="544.2" r="5.6"/><circle cx="592.2" cy="553.6" r="5.6"/><circle cx="565.4" cy="542.1" r="5.6"/><circle cx="529.4" cy="551.7" r="5.6"/><circle cx="584.1" cy="541.4" r="5.6"/><circle cx="638.5" cy="530.7" r="5.6"/><circle cx="641" cy="539.6" r="5.6"/><circle cx="554.2" cy="537.7" r="5.6"/><circle cx="549.9" cy="537.7" r="5.6"/><circle cx="574.7" cy="551.2" r="5.6"/><circle cx="579.2" cy="543.8" r="5.6"/><circle cx="598.7" cy="555.8" r="5.6"/><circle cx="600.5" cy="535.7" r="5.6"/><circle cx="568.5" cy="544.4" r="5.6"/><circle cx="645.8" cy="534.2" r="5.6"/><circle cx="609.9" cy="534.5" r="5.6"/><circle cx="616.5" cy="553.3" r="5.6"/><circle cx="654.9" cy="555.4" r="5.6"/><circle cx="625.6" cy="534.1" r="5.6"/><circle cx="565.2" cy="532.9" r="5.6"/><circle cx="585.7" cy="553.6" r="5.6"/><circle cx="595.8" cy="545.7" r="5.6"/><circle cx="569.5" cy="553.8" r="5.6"/><circle cx="602.7" cy="549.6" r="5.6"/><circle cx="549.8" cy="541.5" r="5.6"/><circle cx="624.9" cy="550.9" r="5.6"/><circle cx="592.5" cy="534.6" r="5.6"/><circle cx="574.4" cy="550.7" r="5.6"/><circle cx="599.2" cy="525" r="5.6"/><circle cx="666.4" cy="531.2" r="5.6"/><circle cx="558.9" cy="547.7" r="5.6"/><circle cx="567.7" cy="553.9" r="5.6"/><circle cx="600" cy="553" r="5.6"/><circle cx="611.7" cy="528.9" r="5.6"/><circle cx="615.3" cy="547.8" r="5.6"/><circle cx="591.3" cy="542.3" r="5.6"/><circle cx="598.1" cy="548.4" r="5.6"/><circle cx="550" cy="540.7" r="5.6"/><circle cx="521.6" cy="541.2" r="5.6"/><circle cx="585" cy="543.9" r="5.6"/><circle cx="615.5" cy="551.8" r="5.6"/><circle cx="581" cy="544.8" r="5.6"/><circle cx="573.4" cy="536.6" r="5.6"/><circle cx="540.6" cy="540.8" r="5.6"/><circle cx="609.9" cy="540.5" r="5.6"/><circle cx="603.1" cy="554.9" r="5.6"/><circle cx="599.3" cy="548.7" r="5.6"/><circle cx="572.8" cy="552.4" r="5.6"/><circle cx="575.5" cy="552.1" r="5.6"/><circle cx="576.5" cy="533.2" r="5.6"/><circle cx="577" cy="552.5" r="5.6"/><circle cx="576.6" cy="541" r="5.6"/><circle cx="610.1" cy="553.2" r="5.6"/><circle cx="598.4" cy="549.6" r="5.6"/><circle cx="580.3" cy="555.1" r="5.6"/><circle cx="630.7" cy="538.9" r="5.6"/><circle cx="652.3" cy="538.3" r="5.6"/><circle cx="581.1" cy="548.1" r="5.6"/><circle cx="532.9" cy="551" r="5.6"/><circle cx="604.9" cy="546.5" r="5.6"/><circle cx="651.4" cy="536.6" r="5.6"/><circle cx="551.6" cy="549.9" r="5.6"/><circle cx="622.9" cy="535" r="5.6"/><circle cx="583.1" cy="538.7" r="5.6"/><circle cx="544.2" cy="541.7" r="5.6"/><circle cx="641.8" cy="545.9" r="5.6"/><circle cx="618.3" cy="537.6" r="5.6"/><circle cx="535" cy="551.1" r="5.6"/><circle cx="626.7" cy="555.9" r="5.6"/><circle cx="621.4" cy="530.2" r="5.6"/><circle cx="560.2" cy="547.2" r="5.6"/><circle cx="567.8" cy="545.3" r="5.6"/><circle cx="538.7" cy="541.7" r="5.6"/><circle cx="603.4" cy="544.7" r="5.6"/><circle cx="511.8" cy="534" r="5.6"/><circle cx="520.1" cy="546.4" r="5.6"/><circle cx="637.5" cy="556.1" r="5.6"/><circle cx="647.3" cy="538.8" r="5.6"/><circle cx="591.5" cy="545.5" r="5.6"/><circle cx="591.7" cy="548.5" r="5.6"/><circle cx="608.9" cy="553.8" r="5.6"/><circle cx="615" cy="529.9" r="5.6"/><circle cx="617.7" cy="546.3" r="5.6"/><circle cx="633.5" cy="549.3" r="5.6"/><circle cx="548.6" cy="527.4" r="5.6"/><circle cx="509.6" cy="522.5" r="5.6"/><circle cx="603.2" cy="542.6" r="5.6"/><circle cx="627.9" cy="554.8" r="5.6"/><circle cx="564.2" cy="546.6" r="5.6"/><circle cx="618" cy="549.4" r="5.6"/><circle cx="621.4" cy="546.3" r="5.6"/><circle cx="595" cy="537.4" r="5.6"/><circle cx="569.1" cy="538.8" r="5.6"/><circle cx="590.1" cy="552.8" r="5.6"/><circle cx="637.1" cy="541.1" r="5.6"/><circle cx="578.1" cy="538.5" r="5.6"/><circle cx="542.4" cy="552.3" r="5.6"/><circle cx="675.4" cy="548.5" r="5.6"/><circle cx="588" cy="538.8" r="5.6"/><circle cx="533.3" cy="529.9" r="5.6"/><circle cx="594.2" cy="545.5" r="5.6"/><circle cx="600" cy="556.4" r="5.6"/><circle cx="524.5" cy="553.1" r="5.6"/><circle cx="622.5" cy="535.5" r="5.6"/><circle cx="578.2" cy="550.4" r="5.6"/><circle cx="602.4" cy="553.7" r="5.6"/><circle cx="631" cy="552.9" r="5.6"/><circle cx="626" cy="551.1" r="5.6"/><circle cx="651.2" cy="548.8" r="5.6"/><circle cx="593.3" cy="550.8" r="5.6"/><circle cx="561.4" cy="547.5" r="5.6"/><circle cx="626.4" cy="538.9" r="5.6"/><circle cx="662.1" cy="544.4" r="5.6"/><circle cx="568.3" cy="555" r="5.6"/><circle cx="612.5" cy="548.5" r="5.6"/><circle cx="511.6" cy="523.9" r="5.6"/><circle cx="611" cy="535.9" r="5.6"/><circle cx="585.1" cy="537.5" r="5.6"/><circle cx="585.5" cy="542" r="5.6"/><circle cx="644.9" cy="548.8" r="5.6"/><circle cx="546.7" cy="547.6" r="5.6"/><circle cx="599.2" cy="540.2" r="5.6"/><circle cx="576.9" cy="554.3" r="5.6"/><circle cx="641.2" cy="556.4" r="5.6"/><circle cx="604.6" cy="553.3" r="5.6"/><circle cx="556.7" cy="547.4" r="5.6"/><circle cx="601.1" cy="546.8" r="5.6"/><circle cx="601.5" cy="550.3" r="5.6"/><circle cx="623" cy="544.4" r="5.6"/><circle cx="561.6" cy="547.1" r="5.6"/><circle cx="667.9" cy="535" r="5.6"/><circle cx="596" cy="538.3" r="5.6"/><circle cx="635.9" cy="544" r="5.6"/><circle cx="628.5" cy="551.3" r="5.6"/><circle cx="603.2" cy="548.2" r="5.6"/><circle cx="623" cy="539.8" r="5.6"/><circle cx="626.1" cy="551.9" r="5.6"/><circle cx="600.8" cy="552.6" r="5.6"/><circle cx="626.4" cy="551.8" r="5.6"/><circle cx="584.5" cy="556.4" r="5.6"/><circle cx="569.9" cy="540.1" r="5.6"/><circle cx="554.2" cy="542.7" r="5.6"/><circle cx="598" cy="533.5" r="5.6"/><circle cx="562.3" cy="538.9" r="5.6"/><circle cx="572.7" cy="547.9" r="5.6"/><circle cx="596.2" cy="527.1" r="5.6"/><circle cx="634.7" cy="551.3" r="5.6"/><circle cx="526.9" cy="550.4" r="5.6"/><circle cx="591.9" cy="543.7" r="5.6"/><circle cx="540.7" cy="535.3" r="5.6"/><circle cx="589" cy="544.2" r="5.6"/><circle cx="605.7" cy="544.4" r="5.6"/><circle cx="610.6" cy="540.4" r="5.6"/><circle cx="567.7" cy="536.5" r="5.6"/><circle cx="583" cy="539.8" r="5.6"/><circle cx="604.4" cy="533.8" r="5.6"/><circle cx="574.2" cy="547.7" r="5.6"/><circle cx="531.2" cy="533.1" r="5.6"/><circle cx="565.5" cy="544" r="5.6"/><circle cx="643.6" cy="534.3" r="5.6"/><circle cx="599.4" cy="547.1" r="5.6"/><circle cx="572.6" cy="540.6" r="5.6"/><circle cx="559.6" cy="543" r="5.6"/><circle cx="585.9" cy="540.7" r="5.6"/><circle cx="648.5" cy="546.6" r="5.6"/><circle cx="637.7" cy="542.3" r="5.6"/><circle cx="564.6" cy="547.8" r="5.6"/><circle cx="592.7" cy="550.4" r="5.6"/><circle cx="675.8" cy="544.4" r="5.6"/><circle cx="626.8" cy="536.6" r="5.6"/><circle cx="621.2" cy="549.7" r="5.6"/><circle cx="603.8" cy="532.7" r="5.6"/><circle cx="607.2" cy="557.2" r="5.6"/><circle cx="638.7" cy="538.2" r="5.6"/><circle cx="522.9" cy="542" r="5.6"/><circle cx="616.1" cy="536.9" r="5.6"/><circle cx="586.2" cy="540.3" r="5.6"/><circle cx="596.8" cy="547.2" r="5.6"/><circle cx="610.3" cy="545.6" r="5.6"/><circle cx="608.7" cy="555.6" r="5.6"/><circle cx="597.4" cy="545.2" r="5.6"/><circle cx="626.4" cy="548.2" r="5.6"/><circle cx="589.4" cy="544.8" r="5.6"/><circle cx="587.4" cy="531.6" r="5.6"/><circle cx="643.9" cy="528.6" r="5.6"/><circle cx="618.1" cy="538.8" r="5.6"/><circle cx="598.8" cy="554.6" r="5.6"/><circle cx="619.9" cy="544.7" r="5.6"/><circle cx="593.6" cy="549.1" r="5.6"/><circle cx="658.7" cy="544" r="5.6"/><circle cx="640.7" cy="544.7" r="5.6"/><circle cx="578.5" cy="544.4" r="5.6"/><circle cx="603.5" cy="554.9" r="5.6"/><circle cx="670.7" cy="544.5" r="5.6"/><circle cx="667.7" cy="554.1" r="5.6"/><circle cx="568.4" cy="555.5" r="5.6"/><circle cx="579" cy="550.7" r="5.6"/><circle cx="526.4" cy="539.9" r="5.6"/><circle cx="662.7" cy="550.9" r="5.6"/><circle cx="643.3" cy="550.5" r="5.6"/><circle cx="595.7" cy="549.3" r="5.6"/><circle cx="592.9" cy="551.5" r="5.6"/><circle cx="633.1" cy="557" r="5.6"/><circle cx="613.9" cy="530.7" r="5.6"/><circle cx="613.4" cy="552.6" r="5.6"/><circle cx="658.8" cy="544.6" r="5.6"/><circle cx="592.7" cy="535.6" r="5.6"/><circle cx="554.1" cy="550.5" r="5.6"/><circle cx="526.3" cy="544.2" r="5.6"/><circle cx="589.4" cy="531.9" r="5.6"/><circle cx="594.6" cy="550.4" r="5.6"/><circle cx="511.2" cy="533.7" r="5.6"/><circle cx="606.2" cy="547.5" r="5.6"/><circle cx="515.3" cy="545.5" r="5.6"/><circle cx="558.8" cy="549.9" r="5.6"/><circle cx="531.3" cy="554.9" r="5.6"/><circle cx="565.9" cy="542" r="5.6"/><circle cx="581.4" cy="537.8" r="5.6"/><circle cx="585.2" cy="549.8" r="5.6"/><circle cx="630.3" cy="534.4" r="5.6"/><circle cx="602.6" cy="539.2" r="5.6"/><circle cx="593" cy="552" r="5.6"/><circle cx="531.1" cy="539.7" r="5.6"/><circle cx="599" cy="536.1" r="5.6"/><circle cx="641.3" cy="522.2" r="5.6"/><circle cx="583.3" cy="532.2" r="5.6"/><circle cx="520.2" cy="546.4" r="5.6"/><circle cx="668.5" cy="549" r="5.6"/><circle cx="614.5" cy="539.6" r="5.6"/><circle cx="528" cy="548.6" r="5.6"/><circle cx="702.3" cy="537.8" r="5.6"/><circle cx="571.8" cy="548.6" r="5.6"/><circle cx="522" cy="539.5" r="5.6"/><circle cx="610.7" cy="549.2" r="5.6"/><circle cx="691.9" cy="542.9" r="5.6"/><circle cx="555.1" cy="533.6" r="5.6"/><circle cx="607.6" cy="545.3" r="5.6"/><circle cx="585.2" cy="540" r="5.6"/><circle cx="603.2" cy="548.7" r="5.6"/><circle cx="631.9" cy="535" r="5.6"/><circle cx="618" cy="549.9" r="5.6"/><circle cx="555.6" cy="553.7" r="5.6"/><circle cx="584.7" cy="529.2" r="5.6"/><circle cx="530.3" cy="549.8" r="5.6"/><circle cx="566.4" cy="532.2" r="5.6"/><circle cx="529.1" cy="534.1" r="5.6"/><circle cx="611.2" cy="531.4" r="5.6"/><circle cx="579.6" cy="555.1" r="5.6"/><circle cx="684.8" cy="548" r="5.6"/><circle cx="580.4" cy="548.3" r="5.6"/><circle cx="652.4" cy="541.1" r="5.6"/><circle cx="596.5" cy="553.7" r="5.6"/><circle cx="581.2" cy="539.4" r="5.6"/><circle cx="561.6" cy="549.1" r="5.6"/><circle cx="595.5" cy="542.4" r="5.6"/><circle cx="548.9" cy="536.8" r="5.6"/><circle cx="511.4" cy="533.2" r="5.6"/><circle cx="614.8" cy="539.7" r="5.6"/><circle cx="630.4" cy="546.6" r="5.6"/><circle cx="601.1" cy="546.4" r="5.6"/><circle cx="633" cy="544.7" r="5.6"/><circle cx="557.8" cy="555.1" r="5.6"/><circle cx="589.7" cy="532.2" r="5.6"/><circle cx="545.1" cy="543.4" r="5.6"/><circle cx="634.3" cy="534.2" r="5.6"/><circle cx="561.3" cy="526.8" r="5.6"/><circle cx="515.7" cy="555.1" r="5.6"/><circle cx="555.7" cy="547.8" r="5.6"/><circle cx="615.1" cy="548.8" r="5.6"/><circle cx="561.1" cy="540.1" r="5.6"/><circle cx="638.7" cy="548.8" r="5.6"/><circle cx="546.9" cy="548.5" r="5.6"/><circle cx="681.8" cy="553.1" r="5.6"/><circle cx="640" cy="528.1" r="5.6"/><circle cx="683.7" cy="552.9" r="5.6"/><circle cx="692.6" cy="530.4" r="5.6"/><circle cx="599.1" cy="551.9" r="5.6"/><circle cx="560.8" cy="538.7" r="5.6"/><circle cx="656.5" cy="549" r="5.6"/><circle cx="588.8" cy="539.3" r="5.6"/><circle cx="525.1" cy="548.7" r="5.6"/><circle cx="600.4" cy="556.8" r="5.6"/><circle cx="610.6" cy="550.5" r="5.6"/><circle cx="534.2" cy="549.2" r="5.6"/><circle cx="592.2" cy="527.4" r="5.6"/><circle cx="537.2" cy="548.5" r="5.6"/><circle cx="656.3" cy="535.1" r="5.6"/><circle cx="568.9" cy="550.6" r="5.6"/><circle cx="632.1" cy="551.1" r="5.6"/><circle cx="590.5" cy="552" r="5.6"/><circle cx="639.5" cy="554.5" r="5.6"/><circle cx="633.6" cy="542.7" r="5.6"/><circle cx="559.2" cy="546.1" r="5.6"/><circle cx="653.5" cy="552.6" r="5.6"/><circle cx="567.2" cy="552.3" r="5.6"/><circle cx="600.4" cy="539.1" r="5.6"/><circle cx="603.7" cy="553" r="5.6"/><circle cx="641.8" cy="551.4" r="5.6"/><circle cx="572.8" cy="553.4" r="5.6"/><circle cx="584.7" cy="535.3" r="5.6"/><circle cx="570.6" cy="444.8" r="5.6"/><circle cx="540.4" cy="462" r="5.6"/><circle cx="589.5" cy="460.4" r="5.6"/><circle cx="532.1" cy="475.4" r="5.6"/><circle cx="591.3" cy="479.1" r="5.6"/><circle cx="617.9" cy="479.1" r="5.6"/><circle cx="570.6" cy="495.6" r="5.6"/><circle cx="589.5" cy="502.9" r="5.6"/><circle cx="614.2" cy="503.5" r="5.6"/><circle cx="566.6" cy="507.5" r="5.6"/><circle cx="525.9" cy="510.2" r="5.6"/><circle cx="654.6" cy="505.7" r="5.6"/><circle cx="679.3" cy="505.7" r="5.6"/><circle cx="662.8" cy="511.5" r="5.6"/><circle cx="683" cy="512.1" r="5.6"/><circle cx="548.8" cy="513.9" r="5.6"/><circle cx="609.7" cy="511.2" r="5.6"/><circle cx="616.1" cy="515.8" r="5.6"/><circle cx="636.2" cy="516.7" r="5.6"/><circle cx="632.6" cy="513.9" r="5.6"/><circle cx="652.8" cy="514.8" r="5.6"/><circle cx="683" cy="516.7" r="5.6"/><circle cx="574.8" cy="521.2" r="5.6"/><circle cx="589.5" cy="518.5" r="5.6"/><circle cx="568.4" cy="517.6" r="5.6"/><circle cx="595" cy="513" r="5.6"/><circle cx="513.8" cy="520.3" r="5.6"/><circle cx="661" cy="519.4" r="5.6"/><circle cx="669.2" cy="520" r="5.6"/><circle cx="616.1" cy="524" r="5.6"/><circle cx="527.2" cy="523.1" r="5.6"/><circle cx="549.2" cy="526.8" r="5.6"/><circle cx="675.3" cy="528.6" r="5.6"/><circle cx="697.7" cy="531.3" r="5.6"/><circle cx="509.2" cy="534.1" r="5.6"/><circle cx="519.8" cy="534.1" r="5.6"/><circle cx="546.4" cy="534.1" r="5.6"/><circle cx="576.7" cy="534.1" r="5.6"/><circle cx="593.2" cy="535.9" r="5.6"/><circle cx="634.4" cy="534.1" r="5.6"/><circle cx="628.9" cy="531.3" r="5.6"/><circle cx="661" cy="536.8" r="5.6"/><circle cx="616.1" cy="537.8" r="5.6"/><circle cx="704.1" cy="546" r="5.6"/><circle cx="695.8" cy="546" r="5.6"/><circle cx="685.8" cy="552.4" r="5.6"/><circle cx="695.8" cy="556.1" r="5.6"/><circle cx="671.1" cy="552.4" r="5.6"/><circle cx="660.6" cy="552.4" r="5.6"/><circle cx="638.1" cy="551.9" r="5.6"/><circle cx="617.9" cy="555.2" r="5.6"/><circle cx="593.2" cy="556.1" r="5.6"/><circle cx="576.7" cy="551.9" r="5.6"/><circle cx="566.6" cy="553.3" r="5.6"/><circle cx="554.7" cy="547.8" r="5.6"/><circle cx="526.2" cy="554.8" r="5.6"/><circle cx="513.8" cy="546.9" r="5.6"/><circle cx="508.8" cy="549.7" r="5.6"/><circle cx="593.2" cy="547.8" r="5.6"/><circle cx="533.6" cy="537.8" r="5.6"/><circle cx="571.2" cy="538.7" r="5.6"/><circle cx="651.8" cy="547.8" r="5.6"/><circle cx="629.8" cy="547.8" r="5.6"/><circle cx="545.5" cy="555.2" r="5.6"/><circle cx="609.7" cy="546" r="5.6"/><circle cx="681.2" cy="543.2" r="5.6"/><circle cx="572.1" cy="513" r="5.6"/><circle cx="564.8" cy="517.6" r="5.6"/><circle cx="569.3" cy="524" r="5.6"/><circle cx="585.8" cy="513" r="5.6"/><circle cx="595" cy="519.4" r="5.6"/><circle cx="591.3" cy="525.8" r="5.6"/><circle cx="584.9" cy="526.8" r="5.6"/><circle cx="617" cy="504.2" r="5.6"/><circle cx="615.2" cy="520.3" r="5.6"/><circle cx="610.6" cy="519.4" r="5.6"/><circle cx="633.5" cy="522.2" r="5.6"/><circle cx="637.2" cy="525.8" r="5.6"/><circle cx="657.3" cy="525.8" r="5.6"/><circle cx="681.2" cy="522.2" r="5.6"/><circle cx="551" cy="516.7" r="5.6"/><circle cx="548.2" cy="522.2" r="5.6"/><circle cx="529.9" cy="522.2" r="5.6"/><circle cx="510.7" cy="527.7" r="5.6"/><circle cx="606" cy="527.7" r="5.6"/><circle cx="613.3" cy="528.6" r="5.6"/><circle cx="598.7" cy="527.7" r="5.6"/><circle cx="573" cy="528.6" r="5.6"/><circle cx="653.7" cy="527.7" r="5.6"/><circle cx="686.7" cy="527.7" r="5.6"/></g><path d="M509.8 540.9L703.2 542" class="rl"/>
</g>
<rect x="500.5" y="440.3" width="211.5" height="122.2" class="bd"/>
<path d="M754 441.9V560.8M813.4 441.9V560.8M872.8 441.9V560.8M724 467.2H929.7M724 503.5H929.7M724 539.6H929.7" class="gm"/><path d="M724.3 441.9V560.8M783.7 441.9V560.8M843.1 441.9V560.8M902.5 441.9V560.8M724 449.2H929.7M724 485.1H929.7M724 521.2H929.7M724 557H929.7" class="gM"/>
<g clip-path="url(#c33)">
<path d="M730.1 526.2C730.5 522.8 731.6 513.1 732.5 505.7C733.4 498.3 734.3 489.2 735.2 481.8C736.2 474.5 737.1 467 738 461.7C738.9 456.3 739.8 452.6 740.8 449.8C741.7 446.9 742.7 445.5 743.5 444.6C744.3 443.7 744.7 443.9 745.3 444.2C746 444.6 746.8 445.2 747.5 447C748.3 448.8 749.1 452 749.9 455.2C750.8 458.5 751.8 463.3 752.7 466.2C753.6 469.2 754.3 470.8 755.4 472.7C756.5 474.5 757.9 475.1 759.1 477.2C760.3 479.4 761.4 482 762.8 485.5C764.1 489 765.7 493.4 767.3 498.3C769 503.2 771.2 509.6 772.8 514.8C774.5 520 776 525.1 777.4 529.5C778.8 533.9 779.9 538.4 781.1 541.4C782.3 544.5 783.7 546.5 784.8 547.8C785.8 549.1 786.6 549.3 787.5 549.3C788.4 549.3 789.2 549 790.2 547.8C791.3 546.7 792.7 544.2 793.9 542.3C795.1 540.5 796.5 537.8 797.6 536.8C798.7 535.9 799.4 536.2 800.3 536.5C801.2 536.8 802 537.4 803.1 538.7C804.2 539.9 805.4 542.2 806.8 544.2C808.1 546.2 809.8 549.1 811.3 550.6C812.9 552.1 814.4 552.6 815.9 553C817.4 553.3 819 552.5 820.5 552.8C822 553.1 823.6 554 825.1 554.6C826.6 555.2 827.8 556.2 829.7 556.5C831.5 556.7 833.9 556.1 836.1 556.3C838.2 556.4 840.2 557.1 842.5 557.4C844.8 557.6 847.1 557.8 849.8 557.7C852.6 557.7 856.2 557.3 859 557C861.8 556.7 863.9 555.7 866.3 555.7C868.8 555.7 870.9 556.7 873.7 557C876.4 557.3 880.1 557.5 882.8 557.5C885.6 557.5 888 557.2 890.2 557C892.3 556.8 893.5 556.2 895.7 556.3C897.8 556.3 900.2 557.2 903 557.4C905.8 557.6 908.7 557.7 912.2 557.5C915.7 557.4 922.1 556.8 924.1 556.6L924.1 557.4L730.1 557.4Z" fill="#ff0000" fill-opacity="0.5"/><path d="M730.1 526.2C730.5 522.8 731.6 513.1 732.5 505.7C733.4 498.3 734.3 489.2 735.2 481.8C736.2 474.5 737.1 467 738 461.7C738.9 456.3 739.8 452.6 740.8 449.8C741.7 446.9 742.7 445.5 743.5 444.6C744.3 443.7 744.7 443.9 745.3 444.2C746 444.6 746.8 445.2 747.5 447C748.3 448.8 749.1 452 749.9 455.2C750.8 458.5 751.8 463.3 752.7 466.2C753.6 469.2 754.3 470.8 755.4 472.7C756.5 474.5 757.9 475.1 759.1 477.2C760.3 479.4 761.4 482 762.8 485.5C764.1 489 765.7 493.4 767.3 498.3C769 503.2 771.2 509.6 772.8 514.8C774.5 520 776 525.1 777.4 529.5C778.8 533.9 779.9 538.4 781.1 541.4C782.3 544.5 783.7 546.5 784.8 547.8C785.8 549.1 786.6 549.3 787.5 549.3C788.4 549.3 789.2 549 790.2 547.8C791.3 546.7 792.7 544.2 793.9 542.3C795.1 540.5 796.5 537.8 797.6 536.8C798.7 535.9 799.4 536.2 800.3 536.5C801.2 536.8 802 537.4 803.1 538.7C804.2 539.9 805.4 542.2 806.8 544.2C808.1 546.2 809.8 549.1 811.3 550.6C812.9 552.1 814.4 552.6 815.9 553C817.4 553.3 819 552.5 820.5 552.8C822 553.1 823.6 554 825.1 554.6C826.6 555.2 827.8 556.2 829.7 556.5C831.5 556.7 833.9 556.1 836.1 556.3C838.2 556.4 840.2 557.1 842.5 557.4C844.8 557.6 847.1 557.8 849.8 557.7C852.6 557.7 856.2 557.3 859 557C861.8 556.7 863.9 555.7 866.3 555.7C868.8 555.7 870.9 556.7 873.7 557C876.4 557.3 880.1 557.5 882.8 557.5C885.6 557.5 888 557.2 890.2 557C892.3 556.8 893.5 556.2 895.7 556.3C897.8 556.3 900.2 557.2 903 557.4C905.8 557.6 908.7 557.7 912.2 557.5C915.7 557.4 922.1 556.8 924.1 556.6" class="dl"/>
</g>
<rect x="721.1" y="440.3" width="211.5" height="122.2" class="bd"/>
<rect x="942.9" y="441.8" width="209.3" height="119.6" fill="#bfbfbf"/>
<text x="1047.6" y="489.6" class="cr">Corr:</text>
<text x="1047.6" y="535.8" class="cr">0.498***</text>
<path d="M88.9 573.2V692.2M146.6 573.2V692.2M204.4 573.2V692.2M262.1 573.2V692.2M62.3 684.8H268M62.3 636.2H268M62.3 587.6H268" class="gm"/><path d="M117.8 573.2V692.2M175.5 573.2V692.2M233.2 573.2V692.2M62.3 660.5H268M62.3 611.9H268" class="gM"/>
<g clip-path="url(#c40)">
<g class="pt"><circle cx="93.2" cy="675.5" r="5.6"/><circle cx="93.8" cy="673.6" r="5.6"/><circle cx="136.7" cy="683.3" r="5.6"/><circle cx="122.2" cy="654.7" r="5.6"/><circle cx="96.5" cy="675.1" r="5.6"/><circle cx="96.2" cy="674.8" r="5.6"/><circle cx="73.7" cy="671.2" r="5.6"/><circle cx="151.2" cy="675.5" r="5.6"/><circle cx="89.7" cy="671.2" r="5.6"/><circle cx="89.3" cy="677.7" r="5.6"/><circle cx="75.5" cy="682.9" r="5.6"/><circle cx="80.1" cy="674.9" r="5.6"/><circle cx="135" cy="673.6" r="5.6"/><circle cx="91" cy="678.9" r="5.6"/><circle cx="81.6" cy="675.2" r="5.6"/><circle cx="90.1" cy="685.2" r="5.6"/><circle cx="104.7" cy="670.9" r="5.6"/><circle cx="85.5" cy="670.5" r="5.6"/><circle cx="74.1" cy="651.8" r="5.6"/><circle cx="92.8" cy="678.6" r="5.6"/><circle cx="130.4" cy="679.1" r="5.6"/><circle cx="136.2" cy="672.3" r="5.6"/><circle cx="85.2" cy="678.9" r="5.6"/><circle cx="104.2" cy="680.3" r="5.6"/><circle cx="90.9" cy="665.7" r="5.6"/><circle cx="102.3" cy="662.5" r="5.6"/><circle cx="112.8" cy="672.7" r="5.6"/><circle cx="81.1" cy="674.4" r="5.6"/><circle cx="79.9" cy="675" r="5.6"/><circle cx="103.6" cy="673.6" r="5.6"/><circle cx="87.6" cy="657.4" r="5.6"/><circle cx="162.6" cy="670" r="5.6"/><circle cx="79.7" cy="676.5" r="5.6"/><circle cx="113.3" cy="678.1" r="5.6"/><circle cx="97.1" cy="675.9" r="5.6"/><circle cx="80.5" cy="673.9" r="5.6"/><circle cx="94.1" cy="678.8" r="5.6"/><circle cx="90.5" cy="677.1" r="5.6"/><circle cx="96.8" cy="677.1" r="5.6"/><circle cx="106.1" cy="679.1" r="5.6"/><circle cx="124.9" cy="672.3" r="5.6"/><circle cx="86.8" cy="666.6" r="5.6"/><circle cx="92" cy="671.1" r="5.6"/><circle cx="146.8" cy="677.7" r="5.6"/><circle cx="125.3" cy="675.4" r="5.6"/><circle cx="82.2" cy="671.7" r="5.6"/><circle cx="127.9" cy="677.4" r="5.6"/><circle cx="75.7" cy="676.4" r="5.6"/><circle cx="97.5" cy="670.4" r="5.6"/><circle cx="127.6" cy="677.9" r="5.6"/><circle cx="110.8" cy="675.3" r="5.6"/><circle cx="121.4" cy="667.3" r="5.6"/><circle cx="88.5" cy="679.1" r="5.6"/><circle cx="85.7" cy="677.1" r="5.6"/><circle cx="112.5" cy="669.6" r="5.6"/><circle cx="100.9" cy="682.2" r="5.6"/><circle cx="89.3" cy="677.6" r="5.6"/><circle cx="100.7" cy="678.9" r="5.6"/><circle cx="137.1" cy="677.6" r="5.6"/><circle cx="107.3" cy="661.6" r="5.6"/><circle cx="89.5" cy="672" r="5.6"/><circle cx="102.2" cy="668.9" r="5.6"/><circle cx="103.9" cy="678.9" r="5.6"/><circle cx="85.8" cy="658.8" r="5.6"/><circle cx="87.7" cy="675.5" r="5.6"/><circle cx="114.4" cy="676.1" r="5.6"/><circle cx="84.6" cy="669.4" r="5.6"/><circle cx="87.3" cy="679.3" r="5.6"/><circle cx="87" cy="673.6" r="5.6"/><circle cx="93.3" cy="666.7" r="5.6"/><circle cx="127.3" cy="672.1" r="5.6"/><circle cx="84.2" cy="659.3" r="5.6"/><circle cx="83.2" cy="675.4" r="5.6"/><circle cx="118.2" cy="670.7" r="5.6"/><circle cx="99" cy="666.6" r="5.6"/><circle cx="94.1" cy="680" r="5.6"/><circle cx="85.9" cy="669" r="5.6"/><circle cx="135.5" cy="675.2" r="5.6"/><circle cx="123.7" cy="676.9" r="5.6"/><circle cx="72.3" cy="676.4" r="5.6"/><circle cx="93.7" cy="672.6" r="5.6"/><circle cx="95.1" cy="670.6" r="5.6"/><circle cx="88.6" cy="668.7" r="5.6"/><circle cx="91.3" cy="673" r="5.6"/><circle cx="97.2" cy="684.7" r="5.6"/><circle cx="88.8" cy="667.4" r="5.6"/><circle cx="90.8" cy="675.8" r="5.6"/><circle cx="88.7" cy="681.9" r="5.6"/><circle cx="87.1" cy="677.7" r="5.6"/><circle cx="80" cy="676.8" r="5.6"/><circle cx="109.5" cy="683.7" r="5.6"/><circle cx="107.1" cy="658.2" r="5.6"/><circle cx="100.4" cy="663.9" r="5.6"/><circle cx="109.1" cy="670.9" r="5.6"/><circle cx="122.9" cy="673.1" r="5.6"/><circle cx="91.1" cy="674.3" r="5.6"/><circle cx="92.5" cy="677.4" r="5.6"/><circle cx="98" cy="682.4" r="5.6"/><circle cx="132.4" cy="672" r="5.6"/><circle cx="73.1" cy="670.4" r="5.6"/><circle cx="125.7" cy="674.6" r="5.6"/><circle cx="139.4" cy="671.6" r="5.6"/><circle cx="106.6" cy="673.3" r="5.6"/><circle cx="117.4" cy="669.4" r="5.6"/><circle cx="104.2" cy="675" r="5.6"/><circle cx="84.4" cy="674.5" r="5.6"/><circle cx="152.2" cy="674.3" r="5.6"/><circle cx="107.5" cy="671" r="5.6"/><circle cx="132.3" cy="658.9" r="5.6"/><circle cx="131.7" cy="679.1" r="5.6"/><circle cx="78" cy="681.9" r="5.6"/><circle cx="92" cy="683.7" r="5.6"/><circle cx="118.6" cy="664.9" r="5.6"/><circle cx="88.5" cy="676.4" r="5.6"/><circle cx="89.1" cy="667.4" r="5.6"/><circle cx="162.5" cy="670.7" r="5.6"/><circle cx="96" cy="673.3" r="5.6"/><circle cx="109.2" cy="680" r="5.6"/><circle cx="86.5" cy="675.2" r="5.6"/><circle cx="89.8" cy="672" r="5.6"/><circle cx="107.1" cy="679.7" r="5.6"/><circle cx="132.6" cy="678" r="5.6"/><circle cx="103.8" cy="684.9" r="5.6"/><circle cx="105.8" cy="671.4" r="5.6"/><circle cx="132.9" cy="671.6" r="5.6"/><circle cx="120.2" cy="671.8" r="5.6"/><circle cx="107.2" cy="671.8" r="5.6"/><circle cx="72.4" cy="652.9" r="5.6"/><circle cx="70" cy="660.6" r="5.6"/><circle cx="73.5" cy="651.5" r="5.6"/><circle cx="124.2" cy="677.5" r="5.6"/><circle cx="94.7" cy="680.8" r="5.6"/><circle cx="154.5" cy="671.3" r="5.6"/><circle cx="108.2" cy="675.2" r="5.6"/><circle cx="131.7" cy="662.2" r="5.6"/><circle cx="89.8" cy="670" r="5.6"/><circle cx="89.5" cy="669.9" r="5.6"/><circle cx="127.1" cy="680.9" r="5.6"/><circle cx="91.6" cy="678.8" r="5.6"/><circle cx="93.8" cy="670.1" r="5.6"/><circle cx="79.7" cy="682.3" r="5.6"/><circle cx="89.8" cy="684.4" r="5.6"/><circle cx="102.7" cy="677" r="5.6"/><circle cx="83.9" cy="674.1" r="5.6"/><circle cx="149.5" cy="673.7" r="5.6"/><circle cx="108.5" cy="671.8" r="5.6"/><circle cx="102.1" cy="664.4" r="5.6"/><circle cx="125.6" cy="679" r="5.6"/><circle cx="106.9" cy="678.1" r="5.6"/><circle cx="86.2" cy="664" r="5.6"/><circle cx="138.9" cy="677.2" r="5.6"/><circle cx="89.1" cy="677.6" r="5.6"/><circle cx="96.5" cy="671.7" r="5.6"/><circle cx="85.3" cy="649" r="5.6"/><circle cx="117.2" cy="672.4" r="5.6"/><circle cx="88.3" cy="685" r="5.6"/><circle cx="115.9" cy="671.2" r="5.6"/><circle cx="85.2" cy="679.8" r="5.6"/><circle cx="92.8" cy="679" r="5.6"/><circle cx="92.3" cy="641.9" r="5.6"/><circle cx="112.7" cy="678.9" r="5.6"/><circle cx="117.9" cy="675.1" r="5.6"/><circle cx="94.1" cy="677.8" r="5.6"/><circle cx="104.3" cy="667.4" r="5.6"/><circle cx="82.4" cy="678.3" r="5.6"/><circle cx="151" cy="665.1" r="5.6"/><circle cx="93" cy="673.2" r="5.6"/><circle cx="101.1" cy="671.7" r="5.6"/><circle cx="82.9" cy="650.8" r="5.6"/><circle cx="99.6" cy="644.1" r="5.6"/><circle cx="95.3" cy="681.4" r="5.6"/><circle cx="94.5" cy="668" r="5.6"/><circle cx="93" cy="675.1" r="5.6"/><circle cx="101.9" cy="633.8" r="5.6"/><circle cx="85.8" cy="677.8" r="5.6"/><circle cx="110" cy="677" r="5.6"/><circle cx="112.1" cy="670.8" r="5.6"/><circle cx="141.1" cy="669.8" r="5.6"/><circle cx="112.2" cy="664.1" r="5.6"/><circle cx="105.2" cy="668.4" r="5.6"/><circle cx="134.4" cy="664.1" r="5.6"/><circle cx="88.2" cy="670.6" r="5.6"/><circle cx="89.3" cy="629.2" r="5.6"/><circle cx="105.3" cy="675.8" r="5.6"/><circle cx="99.1" cy="670.2" r="5.6"/><circle cx="71.7" cy="671.7" r="5.6"/><circle cx="153.6" cy="668.9" r="5.6"/><circle cx="98.3" cy="671.4" r="5.6"/><circle cx="71.2" cy="680.2" r="5.6"/><circle cx="76.2" cy="677.8" r="5.6"/><circle cx="96.5" cy="674.7" r="5.6"/><circle cx="102.8" cy="674.3" r="5.6"/><circle cx="86.2" cy="679" r="5.6"/><circle cx="93.8" cy="659" r="5.6"/><circle cx="69.4" cy="670.8" r="5.6"/><circle cx="107.6" cy="673.2" r="5.6"/><circle cx="138.1" cy="678.5" r="5.6"/><circle cx="145.8" cy="673.2" r="5.6"/><circle cx="82.2" cy="676.5" r="5.6"/><circle cx="110.8" cy="658.7" r="5.6"/><circle cx="87.8" cy="672.4" r="5.6"/><circle cx="69.1" cy="669.1" r="5.6"/><circle cx="91.8" cy="670.7" r="5.6"/><circle cx="113.8" cy="675.6" r="5.6"/><circle cx="77.7" cy="627" r="5.6"/><circle cx="127.5" cy="663.9" r="5.6"/><circle cx="75.8" cy="673.3" r="5.6"/><circle cx="72.1" cy="668.4" r="5.6"/><circle cx="150.1" cy="657.9" r="5.6"/><circle cx="136" cy="676.4" r="5.6"/><circle cx="124.8" cy="656.6" r="5.6"/><circle cx="102.3" cy="672.8" r="5.6"/><circle cx="119.6" cy="675.6" r="5.6"/><circle cx="72.5" cy="683.7" r="5.6"/><circle cx="145.2" cy="677.4" r="5.6"/><circle cx="95.2" cy="679.2" r="5.6"/><circle cx="89.7" cy="671" r="5.6"/><circle cx="95.5" cy="685.9" r="5.6"/><circle cx="89.6" cy="669" r="5.6"/><circle cx="92.9" cy="681.2" r="5.6"/><circle cx="137.2" cy="675.4" r="5.6"/><circle cx="88.6" cy="675.7" r="5.6"/><circle cx="88.3" cy="672.9" r="5.6"/><circle cx="134.7" cy="672.5" r="5.6"/><circle cx="101.8" cy="624.8" r="5.6"/><circle cx="163.1" cy="667.1" r="5.6"/><circle cx="90.2" cy="674.7" r="5.6"/><circle cx="88.8" cy="680" r="5.6"/><circle cx="78.9" cy="683.2" r="5.6"/><circle cx="111.7" cy="673.2" r="5.6"/><circle cx="128.2" cy="674.1" r="5.6"/><circle cx="107.2" cy="672.3" r="5.6"/><circle cx="84.9" cy="680.2" r="5.6"/><circle cx="97.2" cy="671.9" r="5.6"/><circle cx="114.7" cy="675.3" r="5.6"/><circle cx="92.9" cy="675.2" r="5.6"/><circle cx="84.4" cy="672.6" r="5.6"/><circle cx="82" cy="679.2" r="5.6"/><circle cx="101.9" cy="679.8" r="5.6"/><circle cx="154.4" cy="670.1" r="5.6"/><circle cx="100.6" cy="650.9" r="5.6"/><circle cx="85.8" cy="677.7" r="5.6"/><circle cx="127.1" cy="677.7" r="5.6"/><circle cx="113.4" cy="674.5" r="5.6"/><circle cx="114.1" cy="672.1" r="5.6"/><circle cx="135.7" cy="666.7" r="5.6"/><circle cx="76" cy="673.2" r="5.6"/><circle cx="99.5" cy="670.3" r="5.6"/><circle cx="88.6" cy="675.6" r="5.6"/><circle cx="88.4" cy="678.2" r="5.6"/><circle cx="109.6" cy="670.3" r="5.6"/><circle cx="85.6" cy="677.3" r="5.6"/><circle cx="95.7" cy="670.1" r="5.6"/><circle cx="91.6" cy="679.8" r="5.6"/><circle cx="72.4" cy="677.4" r="5.6"/><circle cx="102.3" cy="673.5" r="5.6"/><circle cx="81.5" cy="672.4" r="5.6"/><circle cx="98" cy="681" r="5.6"/><circle cx="112.9" cy="674.2" r="5.6"/><circle cx="88" cy="678.4" r="5.6"/><circle cx="138.6" cy="677.9" r="5.6"/><circle cx="80.8" cy="683.9" r="5.6"/><circle cx="79.3" cy="676.3" r="5.6"/><circle cx="89.2" cy="681.6" r="5.6"/><circle cx="131.2" cy="671.6" r="5.6"/><circle cx="101.6" cy="675.4" r="5.6"/><circle cx="81.7" cy="671.8" r="5.6"/><circle cx="114.9" cy="653.9" r="5.6"/><circle cx="93.1" cy="673.2" r="5.6"/><circle cx="83.8" cy="677.5" r="5.6"/><circle cx="116.4" cy="673.1" r="5.6"/><circle cx="94.7" cy="672.4" r="5.6"/><circle cx="121.7" cy="660.8" r="5.6"/><circle cx="109.1" cy="673.8" r="5.6"/><circle cx="93.4" cy="673" r="5.6"/><circle cx="102.6" cy="674" r="5.6"/><circle cx="147.2" cy="674.1" r="5.6"/><circle cx="163.5" cy="669.9" r="5.6"/><circle cx="85" cy="673.8" r="5.6"/><circle cx="112.9" cy="683.9" r="5.6"/><circle cx="80.4" cy="668.3" r="5.6"/><circle cx="131.2" cy="673.8" r="5.6"/><circle cx="77.9" cy="672.7" r="5.6"/><circle cx="91.4" cy="670.6" r="5.6"/><circle cx="91.5" cy="624.3" r="5.6"/><circle cx="101.2" cy="674.6" r="5.6"/><circle cx="123.7" cy="679.1" r="5.6"/><circle cx="96.5" cy="680.6" r="5.6"/><circle cx="85.9" cy="682.2" r="5.6"/><circle cx="98" cy="661.2" r="5.6"/><circle cx="147.2" cy="668.3" r="5.6"/><circle cx="114.7" cy="671.9" r="5.6"/><circle cx="143.6" cy="670.8" r="5.6"/><circle cx="74.7" cy="674.1" r="5.6"/><circle cx="99.5" cy="674.4" r="5.6"/><circle cx="96" cy="673.9" r="5.6"/><circle cx="102.9" cy="650.4" r="5.6"/><circle cx="88.7" cy="680.8" r="5.6"/><circle cx="80.3" cy="668.7" r="5.6"/><circle cx="97" cy="670.7" r="5.6"/><circle cx="123.4" cy="672.9" r="5.6"/><circle cx="97.1" cy="657.4" r="5.6"/><circle cx="129.9" cy="668.1" r="5.6"/><circle cx="95.3" cy="673.3" r="5.6"/><circle cx="70.9" cy="673.3" r="5.6"/><circle cx="106.6" cy="681.6" r="5.6"/><circle cx="89.1" cy="676.2" r="5.6"/><circle cx="147.8" cy="685.9" r="5.6"/><circle cx="97.7" cy="665.8" r="5.6"/><circle cx="154.4" cy="663.7" r="5.6"/><circle cx="87.7" cy="680.7" r="5.6"/><circle cx="88.2" cy="674.9" r="5.6"/><circle cx="95" cy="665.6" r="5.6"/><circle cx="105.9" cy="681.3" r="5.6"/><circle cx="94.6" cy="668.2" r="5.6"/><circle cx="101.8" cy="681.5" r="5.6"/><circle cx="91.8" cy="649.8" r="5.6"/><circle cx="113.7" cy="675.3" r="5.6"/><circle cx="93.7" cy="677.7" r="5.6"/><circle cx="127.9" cy="655.5" r="5.6"/><circle cx="130.6" cy="675.2" r="5.6"/><circle cx="98.2" cy="677.3" r="5.6"/><circle cx="83" cy="675.7" r="5.6"/><circle cx="92.1" cy="671.2" r="5.6"/><circle cx="94.5" cy="668.6" r="5.6"/><circle cx="102.8" cy="639.1" r="5.6"/><circle cx="82.1" cy="645.2" r="5.6"/><circle cx="96.5" cy="659.2" r="5.6"/><circle cx="111.7" cy="670.7" r="5.6"/><circle cx="75.4" cy="629.7" r="5.6"/><circle cx="115.4" cy="673.2" r="5.6"/><circle cx="84" cy="673.8" r="5.6"/><circle cx="97.2" cy="668.3" r="5.6"/><circle cx="84.8" cy="677.4" r="5.6"/><circle cx="81.4" cy="667.4" r="5.6"/><circle cx="92.6" cy="673.6" r="5.6"/><circle cx="90" cy="676.4" r="5.6"/><circle cx="100.2" cy="679.9" r="5.6"/><circle cx="94.1" cy="680.2" r="5.6"/><circle cx="100" cy="679.6" r="5.6"/><circle cx="84.1" cy="676.1" r="5.6"/><circle cx="85.1" cy="680.6" r="5.6"/><circle cx="97.9" cy="675.6" r="5.6"/><circle cx="99.3" cy="672.8" r="5.6"/><circle cx="94.4" cy="677" r="5.6"/><circle cx="103.7" cy="672.2" r="5.6"/><circle cx="72.1" cy="672.8" r="5.6"/><circle cx="94.1" cy="677.6" r="5.6"/><circle cx="81.1" cy="678.2" r="5.6"/><circle cx="137.1" cy="669.8" r="5.6"/><circle cx="140.9" cy="678.7" r="5.6"/><circle cx="148.3" cy="673" r="5.6"/><circle cx="101.6" cy="657.7" r="5.6"/><circle cx="94" cy="677.4" r="5.6"/><circle cx="89.2" cy="676.9" r="5.6"/><circle cx="89.9" cy="684.6" r="5.6"/><circle cx="115.7" cy="684.9" r="5.6"/><circle cx="123.3" cy="669.6" r="5.6"/><circle cx="104.3" cy="676.1" r="5.6"/><circle cx="97.5" cy="677.3" r="5.6"/><circle cx="86.2" cy="675.6" r="5.6"/><circle cx="86.8" cy="672.9" r="5.6"/><circle cx="99.4" cy="680.2" r="5.6"/><circle cx="104.7" cy="683" r="5.6"/><circle cx="84.9" cy="674" r="5.6"/><circle cx="145.8" cy="671.2" r="5.6"/><circle cx="88.1" cy="671.4" r="5.6"/><circle cx="107.8" cy="672.8" r="5.6"/><circle cx="93.8" cy="673.2" r="5.6"/><circle cx="91.4" cy="671.4" r="5.6"/><circle cx="95.3" cy="676.9" r="5.6"/><circle cx="70.8" cy="676.9" r="5.6"/><circle cx="152.3" cy="666.9" r="5.6"/><circle cx="70.3" cy="674.7" r="5.6"/><circle cx="103.9" cy="673.8" r="5.6"/><circle cx="84" cy="674.1" r="5.6"/><circle cx="102.2" cy="676.9" r="5.6"/><circle cx="99.7" cy="677" r="5.6"/><circle cx="77.8" cy="667.1" r="5.6"/><circle cx="150.8" cy="674" r="5.6"/><circle cx="84.8" cy="576.2" r="5.6"/><circle cx="98.5" cy="579.8" r="5.6"/><circle cx="79.5" cy="586.8" r="5.6"/><circle cx="86.2" cy="602.8" r="5.6"/><circle cx="78.9" cy="607.3" r="5.6"/><circle cx="86.8" cy="612.8" r="5.6"/><circle cx="90.8" cy="623.8" r="5.6"/><circle cx="71.6" cy="625.7" r="5.6"/><circle cx="70.7" cy="632.6" r="5.6"/><circle cx="91.4" cy="630.8" r="5.6"/><circle cx="100" cy="635.8" r="5.6"/><circle cx="130.2" cy="628" r="5.6"/><circle cx="97.8" cy="643.1" r="5.6"/><circle cx="79.5" cy="644.9" r="5.6"/><circle cx="72.5" cy="641.2" r="5.6"/><circle cx="88.1" cy="645.8" r="5.6"/><circle cx="91.8" cy="654.1" r="5.6"/><circle cx="78.9" cy="654.1" r="5.6"/><circle cx="72.5" cy="656.5" r="5.6"/><circle cx="104.6" cy="655.9" r="5.6"/><circle cx="112.8" cy="656.8" r="5.6"/><circle cx="118.3" cy="655.4" r="5.6"/><circle cx="128.4" cy="653.2" r="5.6"/><circle cx="130.2" cy="655" r="5.6"/><circle cx="143.1" cy="655.9" r="5.6"/><circle cx="149.5" cy="653.2" r="5.6"/><circle cx="136.7" cy="659.6" r="5.6"/><circle cx="156.8" cy="658.7" r="5.6"/><circle cx="83.5" cy="664.2" r="5.6"/><circle cx="98.2" cy="660.5" r="5.6"/><circle cx="162.9" cy="638.1" r="5.6"/><circle cx="176.1" cy="636.3" r="5.6"/><circle cx="182.5" cy="631.2" r="5.6"/><circle cx="187.1" cy="629.3" r="5.6"/><circle cx="191.3" cy="633" r="5.6"/><circle cx="192.6" cy="641.2" r="5.6"/><circle cx="190.8" cy="651.3" r="5.6"/><circle cx="175.2" cy="656.8" r="5.6"/><circle cx="162.9" cy="665.1" r="5.6"/><circle cx="170.6" cy="664.2" r="5.6"/><circle cx="188" cy="667.8" r="5.6"/><circle cx="149.5" cy="671.5" r="5.6"/><circle cx="136.7" cy="671.5" r="5.6"/><circle cx="124.8" cy="676.6" r="5.6"/><circle cx="103.7" cy="673.3" r="5.6"/><circle cx="94.1" cy="680.3" r="5.6"/><circle cx="75.8" cy="683.4" r="5.6"/><circle cx="108.2" cy="679.8" r="5.6"/><circle cx="116.5" cy="684.3" r="5.6"/><circle cx="136.7" cy="681.6" r="5.6"/><circle cx="155" cy="682.1" r="5.6"/><circle cx="162.9" cy="681" r="5.6"/><circle cx="172.4" cy="677" r="5.6"/><circle cx="181.6" cy="676.1" r="5.6"/><circle cx="182.5" cy="681.6" r="5.6"/><circle cx="193.5" cy="682.1" r="5.6"/><circle cx="195.3" cy="678.8" r="5.6"/><circle cx="207.8" cy="677.5" r="5.6"/><circle cx="220.1" cy="673.9" r="5.6"/><circle cx="228.3" cy="671.5" r="5.6"/><circle cx="227.4" cy="680.7" r="5.6"/><circle cx="220.1" cy="678.8" r="5.6"/><circle cx="243.6" cy="680.3" r="5.6"/><circle cx="227.4" cy="662.3" r="5.6"/><circle cx="240.2" cy="662.3" r="5.6"/><circle cx="251.3" cy="660.5" r="5.6"/><circle cx="257.7" cy="662.3" r="5.6"/><circle cx="253.1" cy="653.2" r="5.6"/><circle cx="233.8" cy="655" r="5.6"/><circle cx="225.6" cy="644.9" r="5.6"/><circle cx="233.8" cy="645.8" r="5.6"/><circle cx="243" cy="647.7" r="5.6"/><circle cx="243" cy="638.9" r="5.6"/><circle cx="253.6" cy="636.3" r="5.6"/><circle cx="221" cy="633.9" r="5.6"/><circle cx="232.9" cy="629.9" r="5.6"/><circle cx="244.8" cy="627.1" r="5.6"/><circle cx="257.3" cy="627.5" r="5.6"/><circle cx="263.2" cy="621.6" r="5.6"/><circle cx="257.7" cy="618.3" r="5.6"/><circle cx="227.1" cy="620.5" r="5.6"/><circle cx="251.3" cy="611.5" r="5.6"/><circle cx="257.7" cy="611" r="5.6"/><circle cx="240.2" cy="606.4" r="5.6"/><circle cx="235.7" cy="596.9" r="5.6"/><circle cx="237.5" cy="590.8" r="5.6"/><circle cx="201.4" cy="600" r="5.6"/><circle cx="187.1" cy="607.7" r="5.6"/><circle cx="195.3" cy="610.5" r="5.6"/><circle cx="201.4" cy="623.8" r="5.6"/><circle cx="68.8" cy="675.2" r="5.6"/><circle cx="72.5" cy="688" r="5.6"/><circle cx="134.8" cy="686.2" r="5.6"/><circle cx="100.9" cy="687.1" r="5.6"/><circle cx="90.8" cy="686.2" r="5.6"/></g><path d="M68.5 675.2L262.2 644.9" class="rl"/>
</g>
<rect x="59.4" y="571.6" width="211.5" height="122.2" class="bd"/>
<path d="M319.9 573.2V692.2M382.1 573.2V692.2M444.4 573.2V692.2M282.8 684.8H488.6M282.8 636.2H488.6M282.8 587.6H488.6" class="gm"/><path d="M288.8 573.2V692.2M351 573.2V692.2M413.2 573.2V692.2M475.5 573.2V692.2M282.8 660.5H488.6M282.8 611.9H488.6" class="gM"/>
<g clip-path="url(#c41)">
<g class="pt"><circle cx="302.2" cy="677.8" r="5.6"/><circle cx="314.4" cy="633.5" r="5.6"/><circle cx="307.7" cy="658.5" r="5.6"/><circle cx="323.9" cy="658.2" r="5.6"/><circle cx="304.9" cy="680.9" r="5.6"/><circle cx="301.1" cy="673.6" r="5.6"/><circle cx="320.9" cy="664.9" r="5.6"/><circle cx="333.9" cy="659.5" r="5.6"/><circle cx="347.1" cy="654.3" r="5.6"/><circle cx="288.8" cy="682.3" r="5.6"/><circle cx="302.4" cy="682" r="5.6"/><circle cx="303.9" cy="679.7" r="5.6"/><circle cx="310.6" cy="650.2" r="5.6"/><circle cx="334.7" cy="663.1" r="5.6"/><circle cx="302" cy="655.1" r="5.6"/><circle cx="306.2" cy="679.1" r="5.6"/><circle cx="338.9" cy="661.6" r="5.6"/><circle cx="318.1" cy="672.4" r="5.6"/><circle cx="373.6" cy="672" r="5.6"/><circle cx="308.4" cy="651.8" r="5.6"/><circle cx="299" cy="682.4" r="5.6"/><circle cx="299" cy="654.1" r="5.6"/><circle cx="308.8" cy="668.7" r="5.6"/><circle cx="318" cy="680.2" r="5.6"/><circle cx="292.3" cy="673.5" r="5.6"/><circle cx="364.1" cy="680.4" r="5.6"/><circle cx="341.4" cy="674.3" r="5.6"/><circle cx="312.9" cy="672.6" r="5.6"/><circle cx="368.7" cy="672" r="5.6"/><circle cx="315.5" cy="677.8" r="5.6"/><circle cx="305.2" cy="683.6" r="5.6"/><circle cx="316.6" cy="668.4" r="5.6"/><circle cx="318" cy="670.8" r="5.6"/><circle cx="316.2" cy="668.9" r="5.6"/><circle cx="318.7" cy="667.1" r="5.6"/><circle cx="311.2" cy="677.9" r="5.6"/><circle cx="315.8" cy="656.9" r="5.6"/><circle cx="312.1" cy="655.3" r="5.6"/><circle cx="371.7" cy="674.7" r="5.6"/><circle cx="308.6" cy="668.7" r="5.6"/><circle cx="307.5" cy="683.5" r="5.6"/><circle cx="291.6" cy="664.8" r="5.6"/><circle cx="291.6" cy="672.6" r="5.6"/><circle cx="308.6" cy="683.4" r="5.6"/><circle cx="316.7" cy="670.7" r="5.6"/><circle cx="306.1" cy="681.4" r="5.6"/><circle cx="289.3" cy="675.5" r="5.6"/><circle cx="288.8" cy="677.8" r="5.6"/><circle cx="309.2" cy="666.6" r="5.6"/><circle cx="363.6" cy="679.3" r="5.6"/><circle cx="305.4" cy="681.1" r="5.6"/><circle cx="308.3" cy="670.8" r="5.6"/><circle cx="351.9" cy="679.3" r="5.6"/><circle cx="308" cy="671.4" r="5.6"/><circle cx="336.8" cy="672.3" r="5.6"/><circle cx="295.7" cy="683.4" r="5.6"/><circle cx="307.5" cy="676" r="5.6"/><circle cx="305.3" cy="654.2" r="5.6"/><circle cx="294.2" cy="680.9" r="5.6"/><circle cx="305.8" cy="656.4" r="5.6"/><circle cx="357.2" cy="680.3" r="5.6"/><circle cx="291.6" cy="670.1" r="5.6"/><circle cx="314.5" cy="666.5" r="5.6"/><circle cx="303.4" cy="681.7" r="5.6"/><circle cx="304.3" cy="674" r="5.6"/><circle cx="346.2" cy="672.2" r="5.6"/><circle cx="326" cy="665.1" r="5.6"/><circle cx="297.5" cy="686.3" r="5.6"/><circle cx="305.2" cy="684" r="5.6"/><circle cx="344.3" cy="658.4" r="5.6"/><circle cx="291.4" cy="678" r="5.6"/><circle cx="296.8" cy="670.8" r="5.6"/><circle cx="315.7" cy="678.8" r="5.6"/><circle cx="307.7" cy="677.2" r="5.6"/><circle cx="306.3" cy="671.1" r="5.6"/><circle cx="326.6" cy="676.3" r="5.6"/><circle cx="299.9" cy="681.6" r="5.6"/><circle cx="299" cy="657.6" r="5.6"/><circle cx="298.1" cy="673.1" r="5.6"/><circle cx="350" cy="671.6" r="5.6"/><circle cx="339.9" cy="675.6" r="5.6"/><circle cx="298.9" cy="669.1" r="5.6"/><circle cx="339.8" cy="665.8" r="5.6"/><circle cx="311.4" cy="652.4" r="5.6"/><circle cx="306.4" cy="670.8" r="5.6"/><circle cx="308.4" cy="678.2" r="5.6"/><circle cx="329.7" cy="675.6" r="5.6"/><circle cx="298.1" cy="669.6" r="5.6"/><circle cx="300.2" cy="676.1" r="5.6"/><circle cx="304.1" cy="673.5" r="5.6"/><circle cx="298.9" cy="680.3" r="5.6"/><circle cx="305.9" cy="681.6" r="5.6"/><circle cx="296.7" cy="670.4" r="5.6"/><circle cx="301.6" cy="683.9" r="5.6"/><circle cx="309.9" cy="677.4" r="5.6"/><circle cx="293.2" cy="677.1" r="5.6"/><circle cx="284.4" cy="677.2" r="5.6"/><circle cx="314.7" cy="678.6" r="5.6"/><circle cx="303.3" cy="673.2" r="5.6"/><circle cx="372.1" cy="671" r="5.6"/><circle cx="324.2" cy="669.1" r="5.6"/><circle cx="328.5" cy="676.5" r="5.6"/><circle cx="293.1" cy="675.8" r="5.6"/><circle cx="311.2" cy="667.4" r="5.6"/><circle cx="312.5" cy="668.2" r="5.6"/><circle cx="318.8" cy="676.8" r="5.6"/><circle cx="323.1" cy="680.3" r="5.6"/><circle cx="325.2" cy="680.2" r="5.6"/><circle cx="308" cy="668.7" r="5.6"/><circle cx="308.5" cy="668.6" r="5.6"/><circle cx="302.7" cy="671.4" r="5.6"/><circle cx="292.8" cy="655" r="5.6"/><circle cx="348.4" cy="652.7" r="5.6"/><circle cx="345.8" cy="666" r="5.6"/><circle cx="296.9" cy="668.9" r="5.6"/><circle cx="303.5" cy="673.8" r="5.6"/><circle cx="329" cy="683.3" r="5.6"/><circle cx="307.1" cy="663.9" r="5.6"/><circle cx="303.6" cy="680.4" r="5.6"/><circle cx="316.2" cy="671" r="5.6"/><circle cx="299.7" cy="666.1" r="5.6"/><circle cx="313.3" cy="674.7" r="5.6"/><circle cx="303.4" cy="675.8" r="5.6"/><circle cx="310.9" cy="671.8" r="5.6"/><circle cx="315.4" cy="656.6" r="5.6"/><circle cx="309" cy="665.6" r="5.6"/><circle cx="304.4" cy="673.6" r="5.6"/><circle cx="354.6" cy="667.5" r="5.6"/><circle cx="310.8" cy="678.5" r="5.6"/><circle cx="350.3" cy="674.8" r="5.6"/><circle cx="314.6" cy="671" r="5.6"/><circle cx="303.7" cy="670.4" r="5.6"/><circle cx="294.2" cy="656.4" r="5.6"/><circle cx="312.3" cy="676.3" r="5.6"/><circle cx="291.9" cy="674" r="5.6"/><circle cx="365.7" cy="674.2" r="5.6"/><circle cx="307.9" cy="675.1" r="5.6"/><circle cx="312.7" cy="673.1" r="5.6"/><circle cx="297.5" cy="672.9" r="5.6"/><circle cx="310.6" cy="674.9" r="5.6"/><circle cx="309.7" cy="682.5" r="5.6"/><circle cx="303.9" cy="664.9" r="5.6"/><circle cx="311.5" cy="682.2" r="5.6"/><circle cx="310.3" cy="682.1" r="5.6"/><circle cx="308.1" cy="671.2" r="5.6"/><circle cx="299.9" cy="674.6" r="5.6"/><circle cx="311.8" cy="686.8" r="5.6"/><circle cx="319.1" cy="665.6" r="5.6"/><circle cx="325.1" cy="674.1" r="5.6"/><circle cx="308.4" cy="671.8" r="5.6"/><circle cx="325.2" cy="675.3" r="5.6"/><circle cx="308.5" cy="668.9" r="5.6"/><circle cx="307.2" cy="664.5" r="5.6"/><circle cx="302.4" cy="682.2" r="5.6"/><circle cx="307" cy="680.2" r="5.6"/><circle cx="299.5" cy="672.3" r="5.6"/><circle cx="319.9" cy="671.5" r="5.6"/><circle cx="330.4" cy="679.8" r="5.6"/><circle cx="367.1" cy="661.3" r="5.6"/><circle cx="297.2" cy="674.9" r="5.6"/><circle cx="297.4" cy="671.9" r="5.6"/><circle cx="295.4" cy="661" r="5.6"/><circle cx="296.7" cy="673.1" r="5.6"/><circle cx="346.1" cy="678.5" r="5.6"/><circle cx="291.2" cy="679.5" r="5.6"/><circle cx="310" cy="673.1" r="5.6"/><circle cx="304.9" cy="655.4" r="5.6"/><circle cx="289.1" cy="679.7" r="5.6"/><circle cx="303.1" cy="675.9" r="5.6"/><circle cx="300" cy="680.2" r="5.6"/><circle cx="299.9" cy="670.2" r="5.6"/><circle cx="325.4" cy="623.3" r="5.6"/><circle cx="364.9" cy="655.5" r="5.6"/><circle cx="295.7" cy="672.7" r="5.6"/><circle cx="292.2" cy="681.3" r="5.6"/><circle cx="308.7" cy="670.6" r="5.6"/><circle cx="311.6" cy="669.6" r="5.6"/><circle cx="341.4" cy="675.9" r="5.6"/><circle cx="353.4" cy="672.5" r="5.6"/><circle cx="323.6" cy="671.3" r="5.6"/><circle cx="296.9" cy="672.1" r="5.6"/><circle cx="329.3" cy="682.2" r="5.6"/><circle cx="320.5" cy="674.9" r="5.6"/><circle cx="287" cy="678.6" r="5.6"/><circle cx="322" cy="663.3" r="5.6"/><circle cx="361.9" cy="683.6" r="5.6"/><circle cx="331.7" cy="678.4" r="5.6"/><circle cx="319" cy="680.5" r="5.6"/><circle cx="313.1" cy="686.5" r="5.6"/><circle cx="337.8" cy="676.8" r="5.6"/><circle cx="311.6" cy="676.9" r="5.6"/><circle cx="292.9" cy="683" r="5.6"/><circle cx="329.9" cy="664.1" r="5.6"/><circle cx="315.9" cy="675.8" r="5.6"/><circle cx="314.5" cy="650.4" r="5.6"/><circle cx="316.7" cy="677.2" r="5.6"/><circle cx="310.8" cy="656" r="5.6"/><circle cx="295.4" cy="675.8" r="5.6"/><circle cx="297.1" cy="657.7" r="5.6"/><circle cx="319.6" cy="672.4" r="5.6"/><circle cx="287.3" cy="631.1" r="5.6"/><circle cx="287.3" cy="676.6" r="5.6"/><circle cx="307" cy="677.1" r="5.6"/><circle cx="318.3" cy="675" r="5.6"/><circle cx="306.9" cy="681" r="5.6"/><circle cx="315.3" cy="656.6" r="5.6"/><circle cx="303.6" cy="677.5" r="5.6"/><circle cx="325" cy="655.8" r="5.6"/><circle cx="319.2" cy="681.4" r="5.6"/><circle cx="303.3" cy="674.7" r="5.6"/><circle cx="305.5" cy="677.1" r="5.6"/><circle cx="328.4" cy="684.5" r="5.6"/><circle cx="296.6" cy="668.9" r="5.6"/><circle cx="284.6" cy="672.9" r="5.6"/><circle cx="299.6" cy="672.8" r="5.6"/><circle cx="288.9" cy="667.8" r="5.6"/><circle cx="298.3" cy="680" r="5.6"/><circle cx="332.6" cy="675.3" r="5.6"/><circle cx="300.7" cy="680.5" r="5.6"/><circle cx="295.9" cy="680.5" r="5.6"/><circle cx="353.7" cy="665.5" r="5.6"/><circle cx="292.5" cy="671.9" r="5.6"/><circle cx="304.4" cy="671.9" r="5.6"/><circle cx="331.2" cy="673.3" r="5.6"/><circle cx="291.8" cy="666.1" r="5.6"/><circle cx="301.9" cy="677.9" r="5.6"/><circle cx="298.2" cy="677.8" r="5.6"/><circle cx="295.7" cy="679.9" r="5.6"/><circle cx="300.9" cy="663.9" r="5.6"/><circle cx="329.1" cy="655.9" r="5.6"/><circle cx="301.8" cy="676" r="5.6"/><circle cx="314.9" cy="677.6" r="5.6"/><circle cx="324.5" cy="657.1" r="5.6"/><circle cx="297.8" cy="676.5" r="5.6"/><circle cx="308.2" cy="675.4" r="5.6"/><circle cx="307.7" cy="670.2" r="5.6"/><circle cx="311.8" cy="673.2" r="5.6"/><circle cx="307.8" cy="687.4" r="5.6"/><circle cx="307.3" cy="674.3" r="5.6"/><circle cx="302.7" cy="676.4" r="5.6"/><circle cx="294.6" cy="658.2" r="5.6"/><circle cx="341.7" cy="674.7" r="5.6"/><circle cx="301.9" cy="663.5" r="5.6"/><circle cx="326.3" cy="668.1" r="5.6"/><circle cx="306.8" cy="677.9" r="5.6"/><circle cx="295.2" cy="636.4" r="5.6"/><circle cx="326.1" cy="661" r="5.6"/><circle cx="304.8" cy="665" r="5.6"/><circle cx="307.2" cy="670.8" r="5.6"/><circle cx="301.4" cy="669.9" r="5.6"/><circle cx="316.3" cy="672.9" r="5.6"/><circle cx="309.1" cy="662.3" r="5.6"/><circle cx="323" cy="650.8" r="5.6"/><circle cx="300.6" cy="667.1" r="5.6"/><circle cx="361.6" cy="670.1" r="5.6"/><circle cx="299.5" cy="669.9" r="5.6"/><circle cx="286.3" cy="659.5" r="5.6"/><circle cx="314.7" cy="661" r="5.6"/><circle cx="309.7" cy="682.2" r="5.6"/><circle cx="304.7" cy="673.5" r="5.6"/><circle cx="347.8" cy="683.4" r="5.6"/><circle cx="291.1" cy="667.4" r="5.6"/><circle cx="293.1" cy="684.8" r="5.6"/><circle cx="352.9" cy="679.1" r="5.6"/><circle cx="327" cy="676.6" r="5.6"/><circle cx="326.5" cy="631.5" r="5.6"/><circle cx="287.4" cy="676.5" r="5.6"/><circle cx="309.8" cy="679.1" r="5.6"/><circle cx="295.6" cy="665.1" r="5.6"/><circle cx="315.1" cy="667" r="5.6"/><circle cx="298.2" cy="665.4" r="5.6"/><circle cx="326.7" cy="670.1" r="5.6"/><circle cx="292.9" cy="668.6" r="5.6"/><circle cx="308.3" cy="682.7" r="5.6"/><circle cx="319.2" cy="668.7" r="5.6"/><circle cx="301.6" cy="677.3" r="5.6"/><circle cx="305.8" cy="643.1" r="5.6"/><circle cx="315.5" cy="682.7" r="5.6"/><circle cx="318.5" cy="670.4" r="5.6"/><circle cx="293.8" cy="666.3" r="5.6"/><circle cx="302.7" cy="652.9" r="5.6"/><circle cx="302.2" cy="675.5" r="5.6"/><circle cx="309.4" cy="649.7" r="5.6"/><circle cx="315.9" cy="633" r="5.6"/><circle cx="312.3" cy="683.5" r="5.6"/><circle cx="304.9" cy="642.6" r="5.6"/><circle cx="290.7" cy="669.4" r="5.6"/><circle cx="304" cy="680.2" r="5.6"/><circle cx="319.1" cy="668" r="5.6"/><circle cx="298.7" cy="675.1" r="5.6"/><circle cx="372" cy="669.2" r="5.6"/><circle cx="304.9" cy="663.6" r="5.6"/><circle cx="367.2" cy="674.6" r="5.6"/><circle cx="303.2" cy="654.4" r="5.6"/><circle cx="301.8" cy="629.3" r="5.6"/><circle cx="304.2" cy="680.5" r="5.6"/><circle cx="294.7" cy="682.8" r="5.6"/><circle cx="308.3" cy="681.7" r="5.6"/><circle cx="310.7" cy="686.8" r="5.6"/><circle cx="310.2" cy="681.2" r="5.6"/><circle cx="310.3" cy="575.8" r="5.6"/><circle cx="321.5" cy="579.8" r="5.6"/><circle cx="305" cy="586.8" r="5.6"/><circle cx="309" cy="602.8" r="5.6"/><circle cx="302.2" cy="607.7" r="5.6"/><circle cx="322.8" cy="612.8" r="5.6"/><circle cx="296.2" cy="625.3" r="5.6"/><circle cx="308.6" cy="622.9" r="5.6"/><circle cx="318.2" cy="628.4" r="5.6"/><circle cx="294.3" cy="632.6" r="5.6"/><circle cx="310.3" cy="630.8" r="5.6"/><circle cx="323.7" cy="636.3" r="5.6"/><circle cx="352.4" cy="628" r="5.6"/><circle cx="294.9" cy="641.2" r="5.6"/><circle cx="303.5" cy="644" r="5.6"/><circle cx="316.3" cy="643.1" r="5.6"/><circle cx="324.6" cy="645.8" r="5.6"/><circle cx="295.8" cy="654.1" r="5.6"/><circle cx="311.4" cy="654.1" r="5.6"/><circle cx="319.1" cy="656.8" r="5.6"/><circle cx="324.6" cy="656.8" r="5.6"/><circle cx="331" cy="657.8" r="5.6"/><circle cx="337.4" cy="653.2" r="5.6"/><circle cx="350.2" cy="654.1" r="5.6"/><circle cx="364" cy="652.2" r="5.6"/><circle cx="371.3" cy="656.8" r="5.6"/><circle cx="337.4" cy="662.3" r="5.6"/><circle cx="358.5" cy="666" r="5.6"/><circle cx="367.7" cy="671.1" r="5.6"/><circle cx="350.2" cy="670.6" r="5.6"/><circle cx="337.4" cy="677.5" r="5.6"/><circle cx="323.3" cy="673.3" r="5.6"/><circle cx="296.7" cy="679.2" r="5.6"/><circle cx="290.7" cy="684.3" r="5.6"/><circle cx="287.9" cy="675.2" r="5.6"/><circle cx="360.3" cy="681.6" r="5.6"/><circle cx="364" cy="677" r="5.6"/><circle cx="385.1" cy="675.2" r="5.6"/><circle cx="386" cy="677" r="5.6"/><circle cx="385.1" cy="668.8" r="5.6"/><circle cx="379.6" cy="665.1" r="5.6"/><circle cx="386" cy="662.3" r="5.6"/><circle cx="393" cy="662.3" r="5.6"/><circle cx="399.8" cy="662.3" r="5.6"/><circle cx="398.5" cy="654.1" r="5.6"/><circle cx="384.2" cy="638.1" r="5.6"/><circle cx="391.1" cy="636.3" r="5.6"/><circle cx="398.8" cy="630.2" r="5.6"/><circle cx="400.7" cy="633" r="5.6"/><circle cx="388.8" cy="644.9" r="5.6"/><circle cx="409.5" cy="639.4" r="5.6"/><circle cx="412.6" cy="652.2" r="5.6"/><circle cx="421.4" cy="647.7" r="5.6"/><circle cx="427.2" cy="641.2" r="5.6"/><circle cx="427.8" cy="645.8" r="5.6"/><circle cx="422.7" cy="662.3" r="5.6"/><circle cx="426.7" cy="660.5" r="5.6"/><circle cx="429.1" cy="657.8" r="5.6"/><circle cx="419.9" cy="631.2" r="5.6"/><circle cx="427.8" cy="628.4" r="5.6"/><circle cx="419.9" cy="622.9" r="5.6"/><circle cx="434.6" cy="620.2" r="5.6"/><circle cx="438.8" cy="628.4" r="5.6"/><circle cx="439.7" cy="632.6" r="5.6"/><circle cx="448.3" cy="633.9" r="5.6"/><circle cx="448.3" cy="646.2" r="5.6"/><circle cx="450.2" cy="653.2" r="5.6"/><circle cx="462.1" cy="645.5" r="5.6"/><circle cx="412.6" cy="606.4" r="5.6"/><circle cx="413.1" cy="610.1" r="5.6"/><circle cx="444.3" cy="600.4" r="5.6"/><circle cx="452" cy="596.7" r="5.6"/><circle cx="449.8" cy="589.9" r="5.6"/><circle cx="464.8" cy="605.9" r="5.6"/><circle cx="474.9" cy="611.5" r="5.6"/><circle cx="483.2" cy="611" r="5.6"/><circle cx="459.3" cy="618" r="5.6"/><circle cx="483.2" cy="621.6" r="5.6"/><circle cx="471.2" cy="627.1" r="5.6"/><circle cx="475.8" cy="627.5" r="5.6"/><circle cx="303.5" cy="669.7" r="5.6"/><circle cx="312.7" cy="677" r="5.6"/><circle cx="329.2" cy="682.5" r="5.6"/><circle cx="345.7" cy="680.7" r="5.6"/><circle cx="287" cy="686.2" r="5.6"/><circle cx="296.2" cy="688" r="5.6"/><circle cx="303.5" cy="686.2" r="5.6"/></g><polygon points="404.3,645.8 482.8,622 482.8,629.3 404.3,646.6" fill="#f00000" fill-opacity="0.4"/><path d="M288.8 676.1L482.8 625.7" class="rl"/>
</g>
<rect x="279.9" y="571.6" width="211.5" height="122.2" class="bd"/>
<path d="M527.4 573.2V692.2M578.1 573.2V692.2M628.9 573.2V692.2M679.6 573.2V692.2M503.4 684.8H709.1M503.4 636.2H709.1M503.4 587.6H709.1" class="gm"/><path d="M552.8 573.2V692.2M603.5 573.2V692.2M654.2 573.2V692.2M705 573.2V692.2M503.4 660.5H709.1M503.4 611.9H709.1" class="gM"/>
<g clip-path="url(#c42)">
<g class="pt"><circle cx="570" cy="655.2" r="5.6"/><circle cx="681" cy="648.8" r="5.6"/><circle cx="604.5" cy="677.1" r="5.6"/><circle cx="622.9" cy="682.2" r="5.6"/><circle cx="596.6" cy="673.2" r="5.6"/><circle cx="663.8" cy="671.1" r="5.6"/><circle cx="615.7" cy="667.9" r="5.6"/><circle cx="532.5" cy="681.7" r="5.6"/><circle cx="588.2" cy="663.5" r="5.6"/><circle cx="638.9" cy="684.4" r="5.6"/><circle cx="677.8" cy="673.3" r="5.6"/><circle cx="640.2" cy="676.3" r="5.6"/><circle cx="605.6" cy="669.9" r="5.6"/><circle cx="599.7" cy="675.4" r="5.6"/><circle cx="631.3" cy="672.6" r="5.6"/><circle cx="603.3" cy="671.5" r="5.6"/><circle cx="618.7" cy="676.2" r="5.6"/><circle cx="553.1" cy="672.9" r="5.6"/><circle cx="644.8" cy="676.4" r="5.6"/><circle cx="608.7" cy="678" r="5.6"/><circle cx="570.5" cy="675.3" r="5.6"/><circle cx="651.2" cy="675.2" r="5.6"/><circle cx="689.6" cy="682.9" r="5.6"/><circle cx="592.4" cy="667.2" r="5.6"/><circle cx="567.6" cy="686.6" r="5.6"/><circle cx="639.7" cy="679.5" r="5.6"/><circle cx="539.1" cy="656.5" r="5.6"/><circle cx="577.2" cy="678.2" r="5.6"/><circle cx="656.2" cy="680.2" r="5.6"/><circle cx="564.1" cy="667.4" r="5.6"/><circle cx="580.9" cy="665.6" r="5.6"/><circle cx="538.2" cy="679.1" r="5.6"/><circle cx="618.1" cy="684.7" r="5.6"/><circle cx="585.9" cy="686" r="5.6"/><circle cx="631.7" cy="670.9" r="5.6"/><circle cx="595.8" cy="671.8" r="5.6"/><circle cx="541.4" cy="670.5" r="5.6"/><circle cx="572.7" cy="680.2" r="5.6"/><circle cx="530.8" cy="671.4" r="5.6"/><circle cx="529.1" cy="676" r="5.6"/><circle cx="631.6" cy="674.4" r="5.6"/><circle cx="594.5" cy="681.6" r="5.6"/><circle cx="678.5" cy="679.6" r="5.6"/><circle cx="634.2" cy="684.5" r="5.6"/><circle cx="623.3" cy="665.9" r="5.6"/><circle cx="540.8" cy="666.2" r="5.6"/><circle cx="581.2" cy="673.6" r="5.6"/><circle cx="641.3" cy="677.8" r="5.6"/><circle cx="626.5" cy="683.1" r="5.6"/><circle cx="700.9" cy="679.8" r="5.6"/><circle cx="552.6" cy="682.6" r="5.6"/><circle cx="602.7" cy="677" r="5.6"/><circle cx="645.5" cy="670.9" r="5.6"/><circle cx="649.8" cy="684.9" r="5.6"/><circle cx="678.7" cy="672.8" r="5.6"/><circle cx="589.9" cy="674.3" r="5.6"/><circle cx="656.6" cy="678.5" r="5.6"/><circle cx="573.5" cy="682.3" r="5.6"/><circle cx="643.5" cy="678.9" r="5.6"/><circle cx="619.3" cy="676.5" r="5.6"/><circle cx="609.2" cy="669.5" r="5.6"/><circle cx="596.5" cy="653.4" r="5.6"/><circle cx="601.4" cy="674.8" r="5.6"/><circle cx="597.3" cy="686" r="5.6"/><circle cx="596.6" cy="677.1" r="5.6"/><circle cx="618.7" cy="672.3" r="5.6"/><circle cx="612.9" cy="656.3" r="5.6"/><circle cx="551.4" cy="681.2" r="5.6"/><circle cx="661.2" cy="673.6" r="5.6"/><circle cx="628.3" cy="673.9" r="5.6"/><circle cx="659.2" cy="685.3" r="5.6"/><circle cx="573.3" cy="673.9" r="5.6"/><circle cx="557.7" cy="665.1" r="5.6"/><circle cx="573.1" cy="670.5" r="5.6"/><circle cx="592.1" cy="673" r="5.6"/><circle cx="682.2" cy="680.6" r="5.6"/><circle cx="606.1" cy="652.8" r="5.6"/><circle cx="561.1" cy="672.1" r="5.6"/><circle cx="573.3" cy="678.1" r="5.6"/><circle cx="563" cy="684.3" r="5.6"/><circle cx="552.8" cy="681.3" r="5.6"/><circle cx="544.8" cy="666.8" r="5.6"/><circle cx="582.1" cy="676.1" r="5.6"/><circle cx="598.8" cy="671.4" r="5.6"/><circle cx="653.2" cy="678.5" r="5.6"/><circle cx="647.9" cy="659.1" r="5.6"/><circle cx="607.9" cy="676.2" r="5.6"/><circle cx="634.7" cy="665.7" r="5.6"/><circle cx="620.4" cy="666.2" r="5.6"/><circle cx="573.6" cy="672.6" r="5.6"/><circle cx="655.3" cy="675.6" r="5.6"/><circle cx="568.5" cy="655.8" r="5.6"/><circle cx="582.4" cy="679.8" r="5.6"/><circle cx="564.4" cy="678.1" r="5.6"/><circle cx="674.4" cy="679.6" r="5.6"/><circle cx="634.7" cy="678.6" r="5.6"/><circle cx="565.3" cy="672.7" r="5.6"/><circle cx="549.4" cy="670.4" r="5.6"/><circle cx="597.2" cy="678.3" r="5.6"/><circle cx="591.3" cy="676.7" r="5.6"/><circle cx="584" cy="685.5" r="5.6"/><circle cx="632.4" cy="686.2" r="5.6"/><circle cx="589.3" cy="683" r="5.6"/><circle cx="701.2" cy="680.6" r="5.6"/><circle cx="653.7" cy="674.4" r="5.6"/><circle cx="571.3" cy="677.9" r="5.6"/><circle cx="599" cy="682.1" r="5.6"/><circle cx="578.6" cy="670.2" r="5.6"/><circle cx="591.3" cy="671.1" r="5.6"/><circle cx="589.3" cy="672.6" r="5.6"/><circle cx="569" cy="671.6" r="5.6"/><circle cx="600.2" cy="678.6" r="5.6"/><circle cx="516.7" cy="679.3" r="5.6"/><circle cx="621.3" cy="687.6" r="5.6"/><circle cx="534.5" cy="657.1" r="5.6"/><circle cx="603.5" cy="657.6" r="5.6"/><circle cx="669.3" cy="680.5" r="5.6"/><circle cx="684.2" cy="673.2" r="5.6"/><circle cx="686.1" cy="674.9" r="5.6"/><circle cx="596.1" cy="681.9" r="5.6"/><circle cx="650.4" cy="682.4" r="5.6"/><circle cx="662.5" cy="678.1" r="5.6"/><circle cx="569.5" cy="674.9" r="5.6"/><circle cx="642.9" cy="681.6" r="5.6"/><circle cx="533.1" cy="671.9" r="5.6"/><circle cx="618.1" cy="678.7" r="5.6"/><circle cx="591.2" cy="671.5" r="5.6"/><circle cx="579.6" cy="688" r="5.6"/><circle cx="692.4" cy="680.8" r="5.6"/><circle cx="547" cy="674" r="5.6"/><circle cx="604.9" cy="670.8" r="5.6"/><circle cx="615.5" cy="676.2" r="5.6"/><circle cx="552.8" cy="675.5" r="5.6"/><circle cx="629.2" cy="678.8" r="5.6"/><circle cx="663.7" cy="674.6" r="5.6"/><circle cx="539.7" cy="672.5" r="5.6"/><circle cx="521" cy="684.7" r="5.6"/><circle cx="686.8" cy="676.2" r="5.6"/><circle cx="587" cy="677.6" r="5.6"/><circle cx="650.2" cy="673.3" r="5.6"/><circle cx="605" cy="677.7" r="5.6"/><circle cx="576.7" cy="675.7" r="5.6"/><circle cx="612.7" cy="675.8" r="5.6"/><circle cx="614.4" cy="677" r="5.6"/><circle cx="592.8" cy="659.2" r="5.6"/><circle cx="591.2" cy="676.8" r="5.6"/><circle cx="596.9" cy="686.3" r="5.6"/><circle cx="584.5" cy="669.9" r="5.6"/><circle cx="639" cy="670.1" r="5.6"/><circle cx="598.5" cy="661.5" r="5.6"/><circle cx="549.3" cy="672.8" r="5.6"/><circle cx="579.9" cy="675.3" r="5.6"/><circle cx="600.6" cy="682.5" r="5.6"/><circle cx="530.1" cy="689.3" r="5.6"/><circle cx="572.8" cy="676.9" r="5.6"/><circle cx="678.9" cy="655.4" r="5.6"/><circle cx="631.7" cy="666" r="5.6"/><circle cx="584.9" cy="665" r="5.6"/><circle cx="594.7" cy="678.5" r="5.6"/><circle cx="670.1" cy="661.9" r="5.6"/><circle cx="518" cy="654.6" r="5.6"/><circle cx="609.7" cy="654.3" r="5.6"/><circle cx="609.3" cy="677.8" r="5.6"/><circle cx="648.4" cy="684.4" r="5.6"/><circle cx="580.9" cy="662.1" r="5.6"/><circle cx="593.9" cy="670.3" r="5.6"/><circle cx="568.8" cy="662" r="5.6"/><circle cx="608.9" cy="672.8" r="5.6"/><circle cx="579.9" cy="654.5" r="5.6"/><circle cx="558.2" cy="677.6" r="5.6"/><circle cx="523.3" cy="653.7" r="5.6"/><circle cx="628.7" cy="681.7" r="5.6"/><circle cx="596.7" cy="669" r="5.6"/><circle cx="687" cy="659.4" r="5.6"/><circle cx="549.2" cy="676.8" r="5.6"/><circle cx="650.6" cy="672" r="5.6"/><circle cx="573.2" cy="668.5" r="5.6"/><circle cx="622.7" cy="676.7" r="5.6"/><circle cx="566.2" cy="673.5" r="5.6"/><circle cx="583.5" cy="682.3" r="5.6"/><circle cx="676.7" cy="681.6" r="5.6"/><circle cx="638.6" cy="673.8" r="5.6"/><circle cx="663" cy="683.5" r="5.6"/><circle cx="547.6" cy="677.3" r="5.6"/><circle cx="631.3" cy="673.3" r="5.6"/><circle cx="694.5" cy="674.9" r="5.6"/><circle cx="617.1" cy="669.2" r="5.6"/><circle cx="613.4" cy="672.2" r="5.6"/><circle cx="567.2" cy="664.5" r="5.6"/><circle cx="573.2" cy="675.8" r="5.6"/><circle cx="537.8" cy="655.7" r="5.6"/><circle cx="533.2" cy="678.9" r="5.6"/><circle cx="544.7" cy="673" r="5.6"/><circle cx="593.2" cy="677.9" r="5.6"/><circle cx="610.4" cy="672.1" r="5.6"/><circle cx="615.4" cy="675.8" r="5.6"/><circle cx="603" cy="678.4" r="5.6"/><circle cx="658.1" cy="674.3" r="5.6"/><circle cx="619.1" cy="676.1" r="5.6"/><circle cx="569" cy="680.4" r="5.6"/><circle cx="701.8" cy="685" r="5.6"/><circle cx="605.9" cy="678.2" r="5.6"/><circle cx="615.2" cy="687.5" r="5.6"/><circle cx="615.1" cy="676.8" r="5.6"/><circle cx="511.8" cy="688" r="5.6"/><circle cx="694.7" cy="683" r="5.6"/><circle cx="679.1" cy="672.2" r="5.6"/><circle cx="635.7" cy="678.9" r="5.6"/><circle cx="670.4" cy="675.7" r="5.6"/><circle cx="689.2" cy="669.6" r="5.6"/><circle cx="607.6" cy="666.3" r="5.6"/><circle cx="627.1" cy="657.9" r="5.6"/><circle cx="612.1" cy="681.2" r="5.6"/><circle cx="582.9" cy="680.4" r="5.6"/><circle cx="518.4" cy="673" r="5.6"/><circle cx="624.8" cy="682.4" r="5.6"/><circle cx="566.7" cy="670.4" r="5.6"/><circle cx="596.4" cy="668.8" r="5.6"/><circle cx="597.8" cy="674" r="5.6"/><circle cx="549.4" cy="681.6" r="5.6"/><circle cx="559.4" cy="668.1" r="5.6"/><circle cx="612.4" cy="675.2" r="5.6"/><circle cx="561.1" cy="679" r="5.6"/><circle cx="656.1" cy="672.5" r="5.6"/><circle cx="614.9" cy="654.7" r="5.6"/><circle cx="655.5" cy="673.1" r="5.6"/><circle cx="574.5" cy="679.1" r="5.6"/><circle cx="631.7" cy="669.9" r="5.6"/><circle cx="565.8" cy="658.1" r="5.6"/><circle cx="551.4" cy="680.4" r="5.6"/><circle cx="593.4" cy="667.6" r="5.6"/><circle cx="616.5" cy="685.5" r="5.6"/><circle cx="664.3" cy="672.6" r="5.6"/><circle cx="600.7" cy="666.9" r="5.6"/><circle cx="518.6" cy="670.3" r="5.6"/><circle cx="616.9" cy="653.8" r="5.6"/><circle cx="569" cy="679.7" r="5.6"/><circle cx="623.2" cy="666.9" r="5.6"/><circle cx="625.7" cy="654" r="5.6"/><circle cx="689.7" cy="676" r="5.6"/><circle cx="631.6" cy="671.8" r="5.6"/><circle cx="670.4" cy="683.1" r="5.6"/><circle cx="583.8" cy="676.3" r="5.6"/><circle cx="618.6" cy="675.2" r="5.6"/><circle cx="639.3" cy="664.7" r="5.6"/><circle cx="604.4" cy="688" r="5.6"/><circle cx="581.6" cy="680" r="5.6"/><circle cx="603.9" cy="651.4" r="5.6"/><circle cx="568.7" cy="680.4" r="5.6"/><circle cx="544.7" cy="649.2" r="5.6"/><circle cx="561" cy="687.9" r="5.6"/><circle cx="608.2" cy="655.5" r="5.6"/><circle cx="582.1" cy="677.9" r="5.6"/><circle cx="584.5" cy="679.6" r="5.6"/><circle cx="694.6" cy="671.3" r="5.6"/><circle cx="576.8" cy="679.8" r="5.6"/><circle cx="606.9" cy="672.1" r="5.6"/><circle cx="613.9" cy="673.2" r="5.6"/><circle cx="526.1" cy="671.6" r="5.6"/><circle cx="531.1" cy="662" r="5.6"/><circle cx="653.1" cy="673.9" r="5.6"/><circle cx="590.1" cy="681.1" r="5.6"/><circle cx="609.6" cy="673.5" r="5.6"/><circle cx="636.8" cy="666.4" r="5.6"/><circle cx="524" cy="676.1" r="5.6"/><circle cx="596.4" cy="673.4" r="5.6"/><circle cx="583.9" cy="680.3" r="5.6"/><circle cx="593.7" cy="672.1" r="5.6"/><circle cx="604.6" cy="679.6" r="5.6"/><circle cx="618.6" cy="678" r="5.6"/><circle cx="698.5" cy="674.3" r="5.6"/><circle cx="611.4" cy="660.5" r="5.6"/><circle cx="587.5" cy="658.6" r="5.6"/><circle cx="510" cy="674.9" r="5.6"/><circle cx="599.5" cy="666.6" r="5.6"/><circle cx="558.8" cy="652.9" r="5.6"/><circle cx="575.8" cy="665.7" r="5.6"/><circle cx="628.1" cy="676.2" r="5.6"/><circle cx="588.7" cy="672.3" r="5.6"/><circle cx="605.4" cy="676.8" r="5.6"/><circle cx="664.8" cy="677.5" r="5.6"/><circle cx="635.5" cy="667.5" r="5.6"/><circle cx="602.1" cy="674.9" r="5.6"/><circle cx="553.1" cy="673.5" r="5.6"/><circle cx="529.4" cy="675.3" r="5.6"/><circle cx="668.7" cy="672.5" r="5.6"/><circle cx="638.2" cy="652.1" r="5.6"/><circle cx="569.9" cy="671.6" r="5.6"/><circle cx="634" cy="658.3" r="5.6"/><circle cx="561.8" cy="680" r="5.6"/><circle cx="587.2" cy="679.8" r="5.6"/><circle cx="654.7" cy="666.9" r="5.6"/><circle cx="611.9" cy="668" r="5.6"/><circle cx="551.3" cy="655.9" r="5.6"/><circle cx="583.9" cy="663.6" r="5.6"/><circle cx="617.2" cy="669.3" r="5.6"/><circle cx="576.1" cy="673.7" r="5.6"/><circle cx="658.8" cy="678.1" r="5.6"/><circle cx="598" cy="678.7" r="5.6"/><circle cx="619.4" cy="684.2" r="5.6"/><circle cx="513.2" cy="680.2" r="5.6"/><circle cx="594.4" cy="687.9" r="5.6"/><circle cx="556.7" cy="667.4" r="5.6"/><circle cx="641.6" cy="659.2" r="5.6"/><circle cx="570.1" cy="665.8" r="5.6"/><circle cx="634.2" cy="674.8" r="5.6"/><circle cx="637.1" cy="674.9" r="5.6"/><circle cx="617.6" cy="668.1" r="5.6"/><circle cx="622.3" cy="677.2" r="5.6"/><circle cx="580.2" cy="676" r="5.6"/><circle cx="553.3" cy="677.6" r="5.6"/><circle cx="692.2" cy="670.8" r="5.6"/><circle cx="608.9" cy="678.4" r="5.6"/><circle cx="631" cy="685.7" r="5.6"/><circle cx="650.9" cy="654.5" r="5.6"/><circle cx="592.4" cy="656.4" r="5.6"/><circle cx="633.1" cy="680.1" r="5.6"/><circle cx="592.8" cy="652.9" r="5.6"/><circle cx="595.2" cy="676.3" r="5.6"/><circle cx="638.1" cy="660.6" r="5.6"/><circle cx="574.6" cy="652.2" r="5.6"/><circle cx="597.3" cy="673.1" r="5.6"/><circle cx="600.3" cy="655" r="5.6"/><circle cx="593.3" cy="680.4" r="5.6"/><circle cx="589.6" cy="673.8" r="5.6"/><circle cx="635.1" cy="685.5" r="5.6"/><circle cx="594.3" cy="679.3" r="5.6"/><circle cx="601.4" cy="682" r="5.6"/><circle cx="584" cy="676.4" r="5.6"/><circle cx="615.3" cy="658.5" r="5.6"/><circle cx="570.6" cy="575.8" r="5.6"/><circle cx="591.3" cy="579.8" r="5.6"/><circle cx="525.9" cy="586.8" r="5.6"/><circle cx="525.9" cy="596.3" r="5.6"/><circle cx="515.8" cy="607.7" r="5.6"/><circle cx="548.6" cy="610.1" r="5.6"/><circle cx="566.6" cy="600.4" r="5.6"/><circle cx="571.2" cy="606.4" r="5.6"/><circle cx="571.2" cy="611.9" r="5.6"/><circle cx="589.1" cy="602.8" r="5.6"/><circle cx="614.2" cy="607" r="5.6"/><circle cx="616.1" cy="612.8" r="5.6"/><circle cx="593.2" cy="617.4" r="5.6"/><circle cx="591.3" cy="621.1" r="5.6"/><circle cx="568.4" cy="623.8" r="5.6"/><circle cx="525.9" cy="624.8" r="5.6"/><circle cx="517.6" cy="628.4" r="5.6"/><circle cx="528.5" cy="628.4" r="5.6"/><circle cx="546.4" cy="629.9" r="5.6"/><circle cx="554.7" cy="633.9" r="5.6"/><circle cx="549.2" cy="636.7" r="5.6"/><circle cx="511.6" cy="636.3" r="5.6"/><circle cx="534.1" cy="639" r="5.6"/><circle cx="523.5" cy="644" r="5.6"/><circle cx="540.5" cy="645.8" r="5.6"/><circle cx="516.2" cy="647.7" r="5.6"/><circle cx="569.3" cy="633" r="5.6"/><circle cx="576.7" cy="637.6" r="5.6"/><circle cx="585.3" cy="635.8" r="5.6"/><circle cx="591.3" cy="631.2" r="5.6"/><circle cx="594.1" cy="642.5" r="5.6"/><circle cx="570.2" cy="643.1" r="5.6"/><circle cx="576.7" cy="647.7" r="5.6"/><circle cx="577.6" cy="654.1" r="5.6"/><circle cx="593.2" cy="655.9" r="5.6"/><circle cx="548.6" cy="651.7" r="5.6"/><circle cx="531.8" cy="654.6" r="5.6"/><circle cx="513.4" cy="656.8" r="5.6"/><circle cx="509.8" cy="665.1" r="5.6"/><circle cx="616.1" cy="627.5" r="5.6"/><circle cx="611.5" cy="633.9" r="5.6"/><circle cx="611.5" cy="641.2" r="5.6"/><circle cx="612.4" cy="646.8" r="5.6"/><circle cx="616.1" cy="655.9" r="5.6"/><circle cx="634.4" cy="626.6" r="5.6"/><circle cx="639" cy="631.2" r="5.6"/><circle cx="638.1" cy="645.8" r="5.6"/><circle cx="636.2" cy="651.3" r="5.6"/><circle cx="636.2" cy="659.6" r="5.6"/><circle cx="628.9" cy="657.8" r="5.6"/><circle cx="650.5" cy="644" r="5.6"/><circle cx="652.8" cy="651.3" r="5.6"/><circle cx="662.5" cy="648.6" r="5.6"/><circle cx="669.2" cy="651.7" r="5.6"/><circle cx="667.4" cy="658.3" r="5.6"/><circle cx="679.3" cy="655.9" r="5.6"/><circle cx="680.8" cy="645.8" r="5.6"/><circle cx="691.2" cy="645.5" r="5.6"/><circle cx="683.9" cy="664.2" r="5.6"/><circle cx="674.8" cy="667.8" r="5.6"/><circle cx="661" cy="666.9" r="5.6"/><circle cx="655.5" cy="661.4" r="5.6"/><circle cx="704.1" cy="673.3" r="5.6"/><circle cx="695.8" cy="673.3" r="5.6"/><circle cx="694.9" cy="680.7" r="5.6"/><circle cx="681.2" cy="684.3" r="5.6"/><circle cx="685.8" cy="685.2" r="5.6"/><circle cx="661" cy="681.6" r="5.6"/><circle cx="652.8" cy="687.1" r="5.6"/><circle cx="638.1" cy="683.4" r="5.6"/><circle cx="628.9" cy="686.2" r="5.6"/><circle cx="616.1" cy="679.8" r="5.6"/><circle cx="615.2" cy="687.1" r="5.6"/><circle cx="593.2" cy="676.6" r="5.6"/><circle cx="587.7" cy="677" r="5.6"/><circle cx="576.7" cy="682.9" r="5.6"/><circle cx="566.6" cy="681.6" r="5.6"/><circle cx="568.4" cy="675.2" r="5.6"/><circle cx="554.7" cy="679.8" r="5.6"/><circle cx="551.9" cy="687.1" r="5.6"/><circle cx="544.6" cy="675.2" r="5.6"/><circle cx="539.1" cy="677" r="5.6"/><circle cx="526.2" cy="675.2" r="5.6"/><circle cx="519.8" cy="672.4" r="5.6"/><circle cx="513.4" cy="675.2" r="5.6"/><circle cx="511.2" cy="682.9" r="5.6"/><circle cx="525.9" cy="680.3" r="5.6"/><circle cx="598.7" cy="684.3" r="5.6"/><circle cx="606" cy="677" r="5.6"/><circle cx="624.3" cy="675.2" r="5.6"/><circle cx="646.3" cy="675.2" r="5.6"/><circle cx="670.2" cy="677" r="5.6"/></g><path d="M509.8 659.6L703.2 678.5" class="rl"/>
</g>
<rect x="500.5" y="571.6" width="211.5" height="122.2" class="bd"/>
<path d="M754 573.2V692.2M813.4 573.2V692.2M872.8 573.2V692.2M724 684.8H929.7M724 636.2H929.7M724 587.6H929.7" class="gm"/><path d="M724.3 573.2V692.2M783.7 573.2V692.2M843.1 573.2V692.2M902.5 573.2V692.2M724 660.5H929.7M724 611.9H929.7" class="gM"/>
<g clip-path="url(#c43)">
<g class="pt"><circle cx="762.5" cy="678.8" r="5.6"/><circle cx="753.8" cy="675.9" r="5.6"/><circle cx="757.4" cy="677.4" r="5.6"/><circle cx="754" cy="678.4" r="5.6"/><circle cx="739.8" cy="672.7" r="5.6"/><circle cx="756.6" cy="671.3" r="5.6"/><circle cx="744.1" cy="671.4" r="5.6"/><circle cx="762.2" cy="671.2" r="5.6"/><circle cx="739.1" cy="668.8" r="5.6"/><circle cx="746.5" cy="680" r="5.6"/><circle cx="759.3" cy="675" r="5.6"/><circle cx="757.8" cy="674.7" r="5.6"/><circle cx="735.8" cy="681.8" r="5.6"/><circle cx="767.8" cy="654.9" r="5.6"/><circle cx="745.9" cy="671.1" r="5.6"/><circle cx="736.7" cy="634.4" r="5.6"/><circle cx="746.8" cy="672.7" r="5.6"/><circle cx="734.8" cy="665.3" r="5.6"/><circle cx="777.3" cy="671.8" r="5.6"/><circle cx="726.8" cy="683.1" r="5.6"/><circle cx="738.6" cy="673.6" r="5.6"/><circle cx="759.6" cy="677.3" r="5.6"/><circle cx="742.8" cy="677.6" r="5.6"/><circle cx="780.9" cy="674.7" r="5.6"/><circle cx="736.1" cy="677" r="5.6"/><circle cx="728.9" cy="673.6" r="5.6"/><circle cx="734.9" cy="667.5" r="5.6"/><circle cx="764.7" cy="672.4" r="5.6"/><circle cx="768" cy="669.3" r="5.6"/><circle cx="727.6" cy="682.3" r="5.6"/><circle cx="735.9" cy="668.9" r="5.6"/><circle cx="740.7" cy="682.6" r="5.6"/><circle cx="740.4" cy="689.2" r="5.6"/><circle cx="743" cy="674.9" r="5.6"/><circle cx="739.7" cy="665.7" r="5.6"/><circle cx="754.7" cy="666.8" r="5.6"/><circle cx="772.5" cy="673.7" r="5.6"/><circle cx="726.5" cy="686.6" r="5.6"/><circle cx="754.3" cy="682.4" r="5.6"/><circle cx="769.4" cy="664.2" r="5.6"/><circle cx="781.1" cy="658.9" r="5.6"/><circle cx="736.7" cy="686.6" r="5.6"/><circle cx="804.6" cy="660.6" r="5.6"/><circle cx="742.8" cy="687.1" r="5.6"/><circle cx="765.8" cy="673.7" r="5.6"/><circle cx="774.7" cy="663.3" r="5.6"/><circle cx="738.4" cy="678.5" r="5.6"/><circle cx="754.5" cy="673.9" r="5.6"/><circle cx="756.2" cy="671.4" r="5.6"/><circle cx="751.3" cy="677.8" r="5.6"/><circle cx="731.3" cy="685.4" r="5.6"/><circle cx="739.7" cy="676" r="5.6"/><circle cx="764.6" cy="656.6" r="5.6"/><circle cx="737.7" cy="687.3" r="5.6"/><circle cx="753.7" cy="666.5" r="5.6"/><circle cx="756.3" cy="670" r="5.6"/><circle cx="735.3" cy="677.5" r="5.6"/><circle cx="740.1" cy="678.1" r="5.6"/><circle cx="763.9" cy="650.2" r="5.6"/><circle cx="799.6" cy="653.9" r="5.6"/><circle cx="761.9" cy="650.2" r="5.6"/><circle cx="740.9" cy="671.7" r="5.6"/><circle cx="741.1" cy="676.1" r="5.6"/><circle cx="738.6" cy="678.8" r="5.6"/><circle cx="746.4" cy="672.5" r="5.6"/><circle cx="760.3" cy="666.6" r="5.6"/><circle cx="736.3" cy="684.1" r="5.6"/><circle cx="748.1" cy="690.9" r="5.6"/><circle cx="775.4" cy="667.6" r="5.6"/><circle cx="756.7" cy="676.2" r="5.6"/><circle cx="757.6" cy="668.9" r="5.6"/><circle cx="753.2" cy="689.5" r="5.6"/><circle cx="795.2" cy="672.2" r="5.6"/><circle cx="755.6" cy="680.7" r="5.6"/><circle cx="761.2" cy="631.8" r="5.6"/><circle cx="758.4" cy="668.2" r="5.6"/><circle cx="730.2" cy="673.4" r="5.6"/><circle cx="771.7" cy="671.5" r="5.6"/><circle cx="752.6" cy="672" r="5.6"/><circle cx="762.1" cy="662.6" r="5.6"/><circle cx="781.8" cy="660.4" r="5.6"/><circle cx="745.5" cy="665.6" r="5.6"/><circle cx="753.6" cy="673.8" r="5.6"/><circle cx="742.9" cy="672.6" r="5.6"/><circle cx="737.2" cy="662.8" r="5.6"/><circle cx="738.9" cy="677" r="5.6"/><circle cx="766.6" cy="655.5" r="5.6"/><circle cx="751.8" cy="647.6" r="5.6"/><circle cx="739.3" cy="671.6" r="5.6"/><circle cx="762.9" cy="673.8" r="5.6"/><circle cx="738.5" cy="675.8" r="5.6"/><circle cx="731" cy="683.7" r="5.6"/><circle cx="735.2" cy="680.1" r="5.6"/><circle cx="798.1" cy="661.8" r="5.6"/><circle cx="777.4" cy="648.5" r="5.6"/><circle cx="794.3" cy="662.2" r="5.6"/><circle cx="769" cy="658.3" r="5.6"/><circle cx="738.7" cy="676.8" r="5.6"/><circle cx="744.2" cy="661.6" r="5.6"/><circle cx="751.2" cy="668" r="5.6"/><circle cx="796.4" cy="660.9" r="5.6"/><circle cx="732.6" cy="682.5" r="5.6"/><circle cx="747.1" cy="677.5" r="5.6"/><circle cx="730" cy="686.9" r="5.6"/><circle cx="744.5" cy="678.9" r="5.6"/><circle cx="744.3" cy="686.8" r="5.6"/><circle cx="745.2" cy="675.9" r="5.6"/><circle cx="757.4" cy="657" r="5.6"/><circle cx="743.6" cy="678.4" r="5.6"/><circle cx="739.8" cy="683.5" r="5.6"/><circle cx="745" cy="667.6" r="5.6"/><circle cx="749.6" cy="673.8" r="5.6"/><circle cx="801.8" cy="665.1" r="5.6"/><circle cx="772.5" cy="675.5" r="5.6"/><circle cx="736.1" cy="688.2" r="5.6"/><circle cx="767.4" cy="636.1" r="5.6"/><circle cx="763.9" cy="657.2" r="5.6"/><circle cx="741.3" cy="667" r="5.6"/><circle cx="740.2" cy="671.1" r="5.6"/><circle cx="775.2" cy="666.3" r="5.6"/><circle cx="767.2" cy="672.1" r="5.6"/><circle cx="748" cy="671.7" r="5.6"/><circle cx="744.8" cy="682.4" r="5.6"/><circle cx="795.3" cy="664.6" r="5.6"/><circle cx="771.5" cy="664" r="5.6"/><circle cx="745.9" cy="668.5" r="5.6"/><circle cx="769.2" cy="673.1" r="5.6"/><circle cx="750.2" cy="669.2" r="5.6"/><circle cx="737.7" cy="685.1" r="5.6"/><circle cx="741.9" cy="663.8" r="5.6"/><circle cx="742.1" cy="682" r="5.6"/><circle cx="742.8" cy="682.1" r="5.6"/><circle cx="759.6" cy="674.2" r="5.6"/><circle cx="779.5" cy="667.3" r="5.6"/><circle cx="746.7" cy="682.1" r="5.6"/><circle cx="733" cy="685" r="5.6"/><circle cx="748.9" cy="665" r="5.6"/><circle cx="762.9" cy="672.7" r="5.6"/><circle cx="759.7" cy="669.9" r="5.6"/><circle cx="764.4" cy="632.8" r="5.6"/><circle cx="751.9" cy="628.6" r="5.6"/><circle cx="746" cy="676.7" r="5.6"/><circle cx="749.8" cy="672.7" r="5.6"/><circle cx="730.9" cy="690.1" r="5.6"/><circle cx="751.1" cy="672.7" r="5.6"/><circle cx="761.7" cy="652.9" r="5.6"/><circle cx="740.2" cy="671.5" r="5.6"/><circle cx="746.4" cy="691.4" r="5.6"/><circle cx="748.9" cy="656.1" r="5.6"/><circle cx="756.7" cy="674.7" r="5.6"/><circle cx="758" cy="673.5" r="5.6"/><circle cx="743.2" cy="676.5" r="5.6"/><circle cx="789.3" cy="670.6" r="5.6"/><circle cx="733.2" cy="669.1" r="5.6"/><circle cx="736" cy="679.5" r="5.6"/><circle cx="735.1" cy="685.9" r="5.6"/><circle cx="744.6" cy="681.7" r="5.6"/><circle cx="735.6" cy="684.7" r="5.6"/><circle cx="744.3" cy="675.4" r="5.6"/><circle cx="772.4" cy="664.3" r="5.6"/><circle cx="800.5" cy="664.9" r="5.6"/><circle cx="791.8" cy="664.9" r="5.6"/><circle cx="791.1" cy="651.9" r="5.6"/><circle cx="731.1" cy="675.2" r="5.6"/><circle cx="792" cy="663" r="5.6"/><circle cx="735.2" cy="685" r="5.6"/><circle cx="735.5" cy="683.7" r="5.6"/><circle cx="753.5" cy="677.9" r="5.6"/><circle cx="746.2" cy="681.2" r="5.6"/><circle cx="764.3" cy="666.7" r="5.6"/><circle cx="737.4" cy="669.9" r="5.6"/><circle cx="768.7" cy="663.5" r="5.6"/><circle cx="745.9" cy="681.4" r="5.6"/><circle cx="748" cy="682.4" r="5.6"/><circle cx="735.3" cy="687" r="5.6"/><circle cx="761.9" cy="666.2" r="5.6"/><circle cx="750.6" cy="671.9" r="5.6"/><circle cx="750.2" cy="686" r="5.6"/><circle cx="751" cy="651.2" r="5.6"/><circle cx="778.7" cy="656.4" r="5.6"/><circle cx="763.8" cy="670.5" r="5.6"/><circle cx="738.5" cy="679.5" r="5.6"/><circle cx="734" cy="650.6" r="5.6"/><circle cx="764.1" cy="672.8" r="5.6"/><circle cx="772.3" cy="674.2" r="5.6"/><circle cx="742.2" cy="673.3" r="5.6"/><circle cx="751.8" cy="664.3" r="5.6"/><circle cx="765.5" cy="667.1" r="5.6"/><circle cx="766.5" cy="667" r="5.6"/><circle cx="741.5" cy="660.7" r="5.6"/><circle cx="761.3" cy="667.7" r="5.6"/><circle cx="741.3" cy="673.4" r="5.6"/><circle cx="752.9" cy="666.2" r="5.6"/><circle cx="770.9" cy="672.2" r="5.6"/><circle cx="756.2" cy="674" r="5.6"/><circle cx="759.1" cy="669" r="5.6"/><circle cx="771" cy="668.6" r="5.6"/><circle cx="738.4" cy="667.8" r="5.6"/><circle cx="746.1" cy="672.3" r="5.6"/><circle cx="755.1" cy="668.8" r="5.6"/><circle cx="764.2" cy="675.3" r="5.6"/><circle cx="726.1" cy="677" r="5.6"/><circle cx="784.8" cy="641.4" r="5.6"/><circle cx="764.9" cy="678.5" r="5.6"/><circle cx="736.4" cy="688.2" r="5.6"/><circle cx="760" cy="667.4" r="5.6"/><circle cx="753.1" cy="673.6" r="5.6"/><circle cx="771" cy="666.3" r="5.6"/><circle cx="753" cy="672.1" r="5.6"/><circle cx="769" cy="663.1" r="5.6"/><circle cx="759.8" cy="673.5" r="5.6"/><circle cx="742.8" cy="678.1" r="5.6"/><circle cx="735.7" cy="675.2" r="5.6"/><circle cx="749.4" cy="644.6" r="5.6"/><circle cx="768.3" cy="669.5" r="5.6"/><circle cx="735.2" cy="681.4" r="5.6"/><circle cx="739.6" cy="681.6" r="5.6"/><circle cx="735.5" cy="658" r="5.6"/><circle cx="743.8" cy="673.7" r="5.6"/><circle cx="753.7" cy="661.7" r="5.6"/><circle cx="763.9" cy="678" r="5.6"/><circle cx="754.7" cy="672.1" r="5.6"/><circle cx="734.9" cy="676.5" r="5.6"/><circle cx="755.1" cy="667" r="5.6"/><circle cx="760.2" cy="671.8" r="5.6"/><circle cx="777.8" cy="667.7" r="5.6"/><circle cx="751.5" cy="668.4" r="5.6"/><circle cx="736.1" cy="678.4" r="5.6"/><circle cx="730.6" cy="685.3" r="5.6"/><circle cx="795.2" cy="651.5" r="5.6"/><circle cx="744.7" cy="666.3" r="5.6"/><circle cx="752" cy="668.5" r="5.6"/><circle cx="801.9" cy="649.9" r="5.6"/><circle cx="744.4" cy="666.6" r="5.6"/><circle cx="735.7" cy="680.7" r="5.6"/><circle cx="780.1" cy="669.4" r="5.6"/><circle cx="773.8" cy="665.7" r="5.6"/><circle cx="740.7" cy="675.4" r="5.6"/><circle cx="747.3" cy="683.9" r="5.6"/><circle cx="738" cy="667.2" r="5.6"/><circle cx="751.6" cy="678.2" r="5.6"/><circle cx="752.4" cy="676.1" r="5.6"/><circle cx="780.9" cy="669.5" r="5.6"/><circle cx="740.5" cy="682.6" r="5.6"/><circle cx="732" cy="681.9" r="5.6"/><circle cx="754.7" cy="665.6" r="5.6"/><circle cx="743.2" cy="645.4" r="5.6"/><circle cx="740.1" cy="679.3" r="5.6"/><circle cx="733.1" cy="679.6" r="5.6"/><circle cx="805.6" cy="661.5" r="5.6"/><circle cx="782.4" cy="667.2" r="5.6"/><circle cx="774.8" cy="673.3" r="5.6"/><circle cx="752.4" cy="671.2" r="5.6"/><circle cx="744.7" cy="676.7" r="5.6"/><circle cx="761.6" cy="677.8" r="5.6"/><circle cx="757.3" cy="676.3" r="5.6"/><circle cx="743.1" cy="676.3" r="5.6"/><circle cx="743.2" cy="664.5" r="5.6"/><circle cx="751.2" cy="674.1" r="5.6"/><circle cx="742.8" cy="679.9" r="5.6"/><circle cx="738.2" cy="681" r="5.6"/><circle cx="806" cy="663.9" r="5.6"/><circle cx="783.8" cy="662.7" r="5.6"/><circle cx="745.7" cy="677.4" r="5.6"/><circle cx="751.5" cy="661.8" r="5.6"/><circle cx="759" cy="658.3" r="5.6"/><circle cx="766.8" cy="655.7" r="5.6"/><circle cx="758.7" cy="642.9" r="5.6"/><circle cx="762" cy="667.9" r="5.6"/><circle cx="738.2" cy="683.3" r="5.6"/><circle cx="733.5" cy="676.4" r="5.6"/><circle cx="756.9" cy="674.5" r="5.6"/><circle cx="750.4" cy="674.5" r="5.6"/><circle cx="751.1" cy="671.5" r="5.6"/><circle cx="760.2" cy="658.5" r="5.6"/><circle cx="745.5" cy="690.1" r="5.6"/><circle cx="745.5" cy="674.1" r="5.6"/><circle cx="782.3" cy="658.3" r="5.6"/><circle cx="754.7" cy="667.2" r="5.6"/><circle cx="742.7" cy="667.9" r="5.6"/><circle cx="757.8" cy="664.4" r="5.6"/><circle cx="762.7" cy="670.1" r="5.6"/><circle cx="751.1" cy="672.9" r="5.6"/><circle cx="774.8" cy="643.3" r="5.6"/><circle cx="737.3" cy="685.8" r="5.6"/><circle cx="738.2" cy="674.8" r="5.6"/><circle cx="751.9" cy="682.7" r="5.6"/><circle cx="737.9" cy="677.5" r="5.6"/><circle cx="753.1" cy="669.5" r="5.6"/><circle cx="741.4" cy="676" r="5.6"/><circle cx="763" cy="669.6" r="5.6"/><circle cx="744.2" cy="687.8" r="5.6"/><circle cx="741.4" cy="672.5" r="5.6"/><circle cx="798.2" cy="666.1" r="5.6"/><circle cx="752.5" cy="676.3" r="5.6"/><circle cx="774.6" cy="670.2" r="5.6"/><circle cx="749.1" cy="684.4" r="5.6"/><circle cx="763.1" cy="678" r="5.6"/><circle cx="734.9" cy="687.2" r="5.6"/><circle cx="740" cy="686.1" r="5.6"/><circle cx="757.8" cy="675" r="5.6"/><circle cx="740.6" cy="683.6" r="5.6"/><circle cx="746" cy="678.9" r="5.6"/><circle cx="766.6" cy="651.3" r="5.6"/><circle cx="744.8" cy="677.1" r="5.6"/><circle cx="746.7" cy="672" r="5.6"/><circle cx="743.4" cy="675.9" r="5.6"/><circle cx="736.1" cy="675.4" r="5.6"/><circle cx="774.5" cy="673.5" r="5.6"/><circle cx="735.7" cy="682.6" r="5.6"/><circle cx="732.8" cy="688.6" r="5.6"/><circle cx="742.7" cy="673.7" r="5.6"/><circle cx="744.6" cy="680.5" r="5.6"/><circle cx="724.8" cy="679.5" r="5.6"/><circle cx="772.3" cy="657.3" r="5.6"/><circle cx="742.2" cy="677.8" r="5.6"/><circle cx="730.3" cy="676" r="5.6"/><circle cx="742.6" cy="638.3" r="5.6"/><circle cx="780.3" cy="667.8" r="5.6"/><circle cx="752.7" cy="675.3" r="5.6"/><circle cx="741.1" cy="675.2" r="5.6"/><circle cx="740.1" cy="677" r="5.6"/><circle cx="737.7" cy="681.5" r="5.6"/><circle cx="751.3" cy="670" r="5.6"/><circle cx="744.2" cy="678.2" r="5.6"/><circle cx="747.7" cy="679.2" r="5.6"/><circle cx="733.2" cy="690.1" r="5.6"/><circle cx="776" cy="667" r="5.6"/><circle cx="730.2" cy="675.3" r="5.6"/><circle cx="764.8" cy="668.6" r="5.6"/><circle cx="751.9" cy="684.8" r="5.6"/><circle cx="755.4" cy="671.2" r="5.6"/><circle cx="735.6" cy="673.5" r="5.6"/><circle cx="746.3" cy="690" r="5.6"/><circle cx="740.8" cy="659.2" r="5.6"/><circle cx="738.4" cy="666.3" r="5.6"/><circle cx="781" cy="665.8" r="5.6"/><circle cx="748" cy="669.7" r="5.6"/><circle cx="757.2" cy="668.4" r="5.6"/><circle cx="733.3" cy="643.2" r="5.6"/><circle cx="765.5" cy="665.4" r="5.6"/><circle cx="737" cy="675.5" r="5.6"/><circle cx="755" cy="679.5" r="5.6"/><circle cx="739.5" cy="661.4" r="5.6"/><circle cx="734.2" cy="671.1" r="5.6"/><circle cx="766.1" cy="678.1" r="5.6"/><circle cx="803.5" cy="661.2" r="5.6"/><circle cx="747.1" cy="670.7" r="5.6"/><circle cx="748" cy="660.9" r="5.6"/><circle cx="747.9" cy="681.5" r="5.6"/><circle cx="732.7" cy="676" r="5.6"/><circle cx="746.3" cy="670.2" r="5.6"/><circle cx="748.5" cy="674.5" r="5.6"/><circle cx="763.8" cy="665.3" r="5.6"/><circle cx="757.5" cy="676.1" r="5.6"/><circle cx="736.8" cy="636.8" r="5.6"/><circle cx="758.6" cy="671.6" r="5.6"/><circle cx="737.2" cy="684.6" r="5.6"/><circle cx="807.6" cy="663.6" r="5.6"/><circle cx="764.8" cy="671.4" r="5.6"/><circle cx="766.1" cy="673.3" r="5.6"/><circle cx="744.3" cy="675.5" r="5.6"/><circle cx="768.3" cy="670.1" r="5.6"/><circle cx="743" cy="669.1" r="5.6"/><circle cx="734.9" cy="675.9" r="5.6"/><circle cx="762.2" cy="678.2" r="5.6"/><circle cx="808" cy="657.4" r="5.6"/><circle cx="775.1" cy="669.3" r="5.6"/><circle cx="727.2" cy="685.8" r="5.6"/><circle cx="756.7" cy="651.9" r="5.6"/><circle cx="745.2" cy="675.2" r="5.6"/><circle cx="743.3" cy="671" r="5.6"/><circle cx="755.3" cy="653.9" r="5.6"/><circle cx="770.7" cy="669.3" r="5.6"/><circle cx="765.2" cy="660.2" r="5.6"/><circle cx="739.2" cy="676.1" r="5.6"/><circle cx="795.5" cy="665.5" r="5.6"/><circle cx="747.2" cy="668.7" r="5.6"/><circle cx="741.4" cy="689.1" r="5.6"/><circle cx="755.1" cy="672.4" r="5.6"/><circle cx="760.3" cy="661" r="5.6"/><circle cx="745.3" cy="677.7" r="5.6"/><circle cx="800.6" cy="662.2" r="5.6"/><circle cx="795.6" cy="662.6" r="5.6"/><circle cx="768.3" cy="667.4" r="5.6"/><circle cx="751.7" cy="678.8" r="5.6"/><circle cx="731" cy="683.4" r="5.6"/><circle cx="771" cy="660.3" r="5.6"/><circle cx="743.7" cy="669.2" r="5.6"/><circle cx="746.3" cy="675.7" r="5.6"/><circle cx="735.8" cy="675.9" r="5.6"/><circle cx="777.7" cy="636.1" r="5.6"/><circle cx="772" cy="678.2" r="5.6"/><circle cx="805" cy="664.3" r="5.6"/><circle cx="747.2" cy="670.3" r="5.6"/><circle cx="756.7" cy="672.9" r="5.6"/><circle cx="737.5" cy="682.2" r="5.6"/><circle cx="805.1" cy="661.1" r="5.6"/><circle cx="746.7" cy="666.1" r="5.6"/><circle cx="764.5" cy="661.4" r="5.6"/><circle cx="741.8" cy="662.2" r="5.6"/><circle cx="779.3" cy="667.8" r="5.6"/><circle cx="764.4" cy="675" r="5.6"/><circle cx="771.7" cy="670.6" r="5.6"/><circle cx="750.8" cy="644.9" r="5.6"/><circle cx="737.4" cy="679.5" r="5.6"/><circle cx="738.1" cy="663.5" r="5.6"/><circle cx="765.5" cy="674.8" r="5.6"/><circle cx="738.6" cy="677.7" r="5.6"/><circle cx="761.7" cy="674.4" r="5.6"/><circle cx="767.3" cy="665.2" r="5.6"/><circle cx="757.7" cy="675.4" r="5.6"/><circle cx="732.4" cy="681.5" r="5.6"/><circle cx="740.5" cy="672.5" r="5.6"/><circle cx="765.6" cy="670.7" r="5.6"/><circle cx="752.8" cy="681.1" r="5.6"/><circle cx="747.8" cy="681.8" r="5.6"/><circle cx="738.5" cy="680.7" r="5.6"/><circle cx="763.5" cy="669.7" r="5.6"/><circle cx="738.1" cy="687.3" r="5.6"/><circle cx="924.1" cy="576.2" r="5.6"/><circle cx="865.4" cy="579.8" r="5.6"/><circle cx="811" cy="586.8" r="5.6"/><circle cx="740.8" cy="590.8" r="5.6"/><circle cx="751.8" cy="596.3" r="5.6"/><circle cx="761.8" cy="600" r="5.6"/><circle cx="896.6" cy="603.1" r="5.6"/><circle cx="822.3" cy="607" r="5.6"/><circle cx="756.3" cy="607.7" r="5.6"/><circle cx="744.4" cy="610.5" r="5.6"/><circle cx="767.9" cy="611.5" r="5.6"/><circle cx="780.7" cy="611" r="5.6"/><circle cx="798.5" cy="612.8" r="5.6"/><circle cx="738.4" cy="620.5" r="5.6"/><circle cx="768.2" cy="621.1" r="5.6"/><circle cx="753.6" cy="623.8" r="5.6"/><circle cx="770.6" cy="626.6" r="5.6"/><circle cx="815.9" cy="623.8" r="5.6"/><circle cx="805.8" cy="630.8" r="5.6"/><circle cx="804.5" cy="628.4" r="5.6"/><circle cx="739.3" cy="631.5" r="5.6"/><circle cx="746.2" cy="633.9" r="5.6"/><circle cx="758.7" cy="634.5" r="5.6"/><circle cx="796.7" cy="636.3" r="5.6"/><circle cx="771" cy="637.6" r="5.6"/><circle cx="763.7" cy="640.3" r="5.6"/><circle cx="774.7" cy="641.8" r="5.6"/><circle cx="788.4" cy="642.2" r="5.6"/><circle cx="797.6" cy="644" r="5.6"/><circle cx="734.3" cy="647.7" r="5.6"/><circle cx="750.3" cy="647.3" r="5.6"/><circle cx="893.8" cy="645.3" r="5.6"/><circle cx="835.2" cy="649.5" r="5.6"/><circle cx="836.1" cy="652.2" r="5.6"/><circle cx="807.7" cy="648.6" r="5.6"/><circle cx="803.1" cy="650.4" r="5.6"/><circle cx="792.1" cy="647.7" r="5.6"/><circle cx="769.2" cy="653.5" r="5.6"/><circle cx="761.8" cy="652.8" r="5.6"/><circle cx="763.7" cy="656.8" r="5.6"/><circle cx="733.8" cy="657.8" r="5.6"/><circle cx="750.8" cy="657.8" r="5.6"/><circle cx="819.6" cy="656.3" r="5.6"/><circle cx="824.2" cy="659.6" r="5.6"/><circle cx="865.4" cy="657.8" r="5.6"/><circle cx="871.8" cy="657.2" r="5.6"/><circle cx="800.3" cy="660.5" r="5.6"/><circle cx="788.4" cy="656.8" r="5.6"/><circle cx="795.8" cy="668.8" r="5.6"/><circle cx="809.5" cy="670.6" r="5.6"/><circle cx="819" cy="673.9" r="5.6"/><circle cx="801.2" cy="676.6" r="5.6"/><circle cx="785.7" cy="679.8" r="5.6"/><circle cx="793.9" cy="681.6" r="5.6"/><circle cx="793" cy="687.6" r="5.6"/><circle cx="775.6" cy="679.2" r="5.6"/><circle cx="769.7" cy="673" r="5.6"/><circle cx="760" cy="680.3" r="5.6"/><circle cx="746.2" cy="679.8" r="5.6"/><circle cx="738.9" cy="684.3" r="5.6"/><circle cx="729.8" cy="677" r="5.6"/><circle cx="727" cy="673.3" r="5.6"/><circle cx="732.5" cy="668.8" r="5.6"/><circle cx="743.5" cy="669.7" r="5.6"/><circle cx="756.3" cy="667.8" r="5.6"/><circle cx="778.3" cy="666" r="5.6"/><circle cx="736.2" cy="688.9" r="5.6"/><circle cx="745.3" cy="688" r="5.6"/><circle cx="754.5" cy="686.2" r="5.6"/><circle cx="765.5" cy="685.2" r="5.6"/></g><polygon points="807.7,650.8 924.1,603.3 924.1,619.8 807.7,651.5" fill="#f00000" fill-opacity="0.4"/><path d="M730.3 677.5L924.1 611.5" class="rl"/>
</g>
<rect x="721.1" y="571.6" width="211.5" height="122.2" class="bd"/>
<path d="M958.5 573.2V692.2M1041.5 573.2V692.2M1124.5 573.2V692.2M944.5 587.2H1150.2M944.5 610.1H1150.2M944.5 632.6H1150.2M944.5 655.4H1150.2M944.5 677.9H1150.2" class="gm"/><path d="M1000 573.2V692.2M1083 573.2V692.2M944.5 576.2H1150.2M944.5 598.5H1150.2M944.5 621.5H1150.2M944.5 644H1150.2M944.5 666.5H1150.2M944.5 688.5H1150.2" class="gM"/>
<g clip-path="url(#c44)">
<path d="M951 679.2C951.6 677.6 953.2 674 954.3 669.7C955.5 665.3 956.8 659.3 958 653.2C959.2 647.1 960.4 640 961.7 633C962.9 626 964.1 618 965.3 611C966.6 604 967.9 596 969 590.8C970.1 585.6 970.9 582.3 971.8 579.8C972.6 577.3 973.4 576.3 974.1 575.8C974.8 575.3 975.3 575.5 976 577.1C976.6 578.7 977.3 581.2 978.2 585.3C979 589.5 980 596 980.9 601.8C981.8 607.6 982.6 614.1 983.7 620.2C984.7 626.3 986.1 633.3 987.3 638.5C988.6 643.7 989.8 647.8 991 651.3C992.2 654.8 993.4 657.6 994.7 659.6C995.9 661.6 997.3 662.6 998.3 663.2C999.4 663.9 1000.2 663.6 1001.1 663.2C1002 662.9 1002.9 661.3 1003.8 660.9C1004.8 660.4 1005.7 660 1006.6 660.5C1007.5 661 1008.3 662.2 1009.3 664.2C1010.4 666.2 1011.8 670 1013 672.4C1014.2 674.9 1015.4 677.2 1016.7 678.8C1017.9 680.4 1018.8 681.3 1020.3 682C1021.9 682.6 1024 682.1 1025.8 682.5C1027.7 682.9 1029.7 683.9 1031.3 684.3C1033 684.8 1034.1 685.4 1035.9 685.2C1037.8 685.1 1040 683.8 1042.3 683.4C1044.6 683 1047.2 682.7 1049.7 682.9C1052.1 683 1054.6 683.8 1057 684.3C1059.4 684.9 1061.9 685.6 1064.3 686.2C1066.8 686.7 1069.7 687.3 1071.7 687.6C1073.7 687.9 1074.7 688.2 1076.2 688C1077.8 687.8 1079.2 687.1 1080.8 686.7C1082.5 686.4 1084.2 685.8 1086.3 685.8C1088.5 685.8 1091.2 686.4 1093.7 686.7C1096.1 687 1097.9 687.3 1101 687.6C1104.1 687.9 1108.3 688.5 1112 688.5C1115.7 688.6 1119.6 688 1123 688C1126.4 688 1128.7 688.7 1132.2 688.7C1135.7 688.7 1142.1 688.1 1144.1 688L1144.1 688.5L951 688.5Z" fill="#ff0000" fill-opacity="0.5"/><path d="M951 679.2C951.6 677.6 953.2 674 954.3 669.7C955.5 665.3 956.8 659.3 958 653.2C959.2 647.1 960.4 640 961.7 633C962.9 626 964.1 618 965.3 611C966.6 604 967.9 596 969 590.8C970.1 585.6 970.9 582.3 971.8 579.8C972.6 577.3 973.4 576.3 974.1 575.8C974.8 575.3 975.3 575.5 976 577.1C976.6 578.7 977.3 581.2 978.2 585.3C979 589.5 980 596 980.9 601.8C981.8 607.6 982.6 614.1 983.7 620.2C984.7 626.3 986.1 633.3 987.3 638.5C988.6 643.7 989.8 647.8 991 651.3C992.2 654.8 993.4 657.6 994.7 659.6C995.9 661.6 997.3 662.6 998.3 663.2C999.4 663.9 1000.2 663.6 1001.1 663.2C1002 662.9 1002.9 661.3 1003.8 660.9C1004.8 660.4 1005.7 660 1006.6 660.5C1007.5 661 1008.3 662.2 1009.3 664.2C1010.4 666.2 1011.8 670 1013 672.4C1014.2 674.9 1015.4 677.2 1016.7 678.8C1017.9 680.4 1018.8 681.3 1020.3 682C1021.9 682.6 1024 682.1 1025.8 682.5C1027.7 682.9 1029.7 683.9 1031.3 684.3C1033 684.8 1034.1 685.4 1035.9 685.2C1037.8 685.1 1040 683.8 1042.3 683.4C1044.6 683 1047.2 682.7 1049.7 682.9C1052.1 683 1054.6 683.8 1057 684.3C1059.4 684.9 1061.9 685.6 1064.3 686.2C1066.8 686.7 1069.7 687.3 1071.7 687.6C1073.7 687.9 1074.7 688.2 1076.2 688C1077.8 687.8 1079.2 687.1 1080.8 686.7C1082.5 686.4 1084.2 685.8 1086.3 685.8C1088.5 685.8 1091.2 686.4 1093.7 686.7C1096.1 687 1097.9 687.3 1101 687.6C1104.1 687.9 1108.3 688.5 1112 688.5C1115.7 688.6 1119.6 688 1123 688C1126.4 688 1128.7 688.7 1132.2 688.7C1135.7 688.7 1142.1 688.1 1144.1 688" class="dl"/>
</g>
<rect x="941.6" y="571.6" width="211.5" height="122.2" class="bd"/>
<text x="60" y="727" class="xl">0</text>
<text x="117.8" y="727" class="xl">100</text>
<text x="175.5" y="727" class="xl">200</text>
<text x="233.2" y="727" class="xl">300</text>
<text x="288.8" y="727" class="xl">0</text>
<text x="351" y="727" class="xl">100</text>
<text x="413.2" y="727" class="xl">200</text>
<text x="466.9" y="727" class="xl">300</text>
<text x="502" y="727" class="xl">0</text>
<text x="552.8" y="727" class="xl">25</text>
<text x="603.5" y="727" class="xl">50</text>
<text x="648.5" y="727" class="xl">75</text>
<text x="695.8" y="727" class="xl">100</text>
<text x="728" y="727" class="xl">0</text>
<text x="783.7" y="727" class="xl">10</text>
<text x="843.1" y="727" class="xl">20</text>
<text x="902.5" y="727" class="xl">30</text>
<text x="1000" y="727" class="xl">100</text>
<text x="1083" y="727" class="xl">200</text>
<text x="43.8" y="172.4" class="yl">0</text>
<text x="43.8" y="139.7" class="yl">100</text>
<text x="43.8" y="107" class="yl">200</text>
<text x="43.8" y="74.3" class="yl">300</text>
<text x="43.8" y="301.5" class="yl">0</text>
<text x="43.8" y="266.2" class="yl">100</text>
<text x="43.8" y="230.9" class="yl">200</text>
<text x="43.8" y="195.6" class="yl">300</text>
<text x="43.8" y="440.2" class="yl">0</text>
<text x="43.8" y="410.4" class="yl">25</text>
<text x="43.8" y="380.7" class="yl">50</text>
<text x="43.8" y="350.9" class="yl">75</text>
<text x="43.8" y="321.2" class="yl">100</text>
<text x="43.8" y="570" class="yl">0</text>
<text x="43.8" y="535.5" class="yl">10</text>
<text x="43.8" y="501" class="yl">20</text>
<text x="43.8" y="466.5" class="yl">30</text>
<text x="43.8" y="669.8" class="yl">100</text>
<text x="43.8" y="621.2" class="yl">200</text>
<path d="M60 694.8V702.2M117.8 694.8V702.2M175.5 694.8V702.2M233.2 694.8V702.2M288.8 694.8V702.2M351 694.8V702.2M413.2 694.8V702.2M475.5 694.8V702.2M502 694.8V702.2M552.8 694.8V702.2M603.5 694.8V702.2M654.2 694.8V702.2M705 694.8V702.2M724.3 694.8V702.2M783.7 694.8V702.2M843.1 694.8V702.2M902.5 694.8V702.2M1000 694.8V702.2M1083 694.8V702.2M50.6 163.1H58.4M50.6 130.4H58.4M50.6 97.7H58.4M50.6 65H58.4M50.6 292.2H58.4M50.6 256.9H58.4M50.6 221.6H58.4M50.6 186.3H58.4M50.6 430.9H58.4M50.6 401.1H58.4M50.6 371.4H58.4M50.6 341.6H58.4M50.6 311.9H58.4M50.6 560.7H58.4M50.6 526.2H58.4M50.6 491.7H58.4M50.6 457.2H58.4M50.6 660.5H58.4M50.6 611.9H58.4" class="tk"/>
</svg>
</body></html>
